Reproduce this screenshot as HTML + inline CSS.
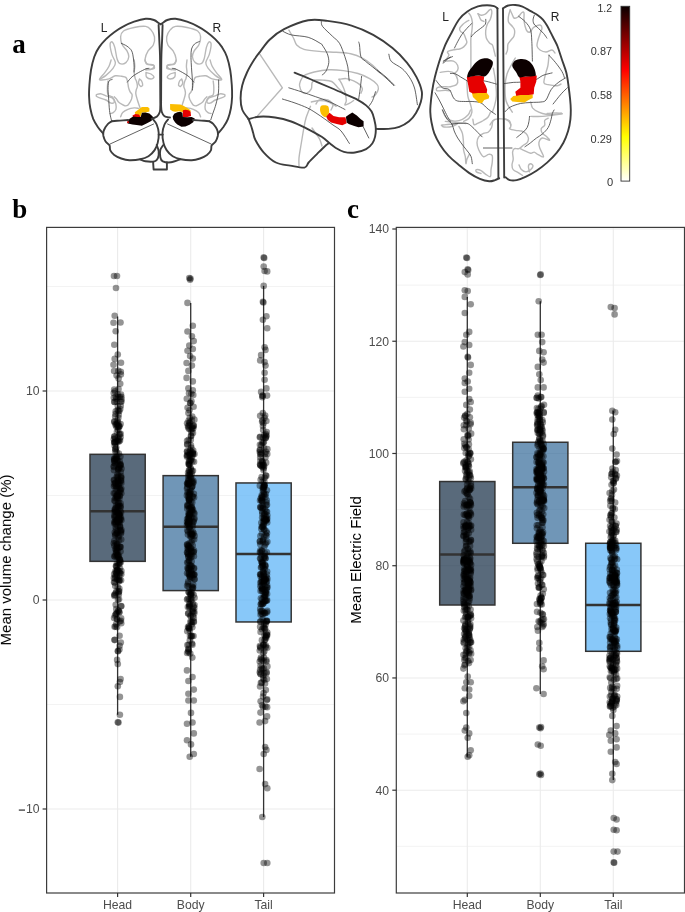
<!DOCTYPE html>
<html><head><meta charset="utf-8"><style>
html,body{margin:0;padding:0;background:#fff;}
svg{display:block;}
text{will-change:transform;}
.tk{font-family:"Liberation Sans",sans-serif;font-size:12.2px;fill:#4d4d4d;}
.ttl{font-family:"Liberation Sans",sans-serif;font-size:15px;fill:#000;}
.lt{font-family:"Liberation Serif",serif;font-weight:bold;font-size:27px;fill:#000;}
.bl{font-family:"Liberation Sans",sans-serif;font-size:12px;fill:#222;}
.cb{font-family:"Liberation Sans",sans-serif;font-size:11.8px;fill:#333;}
</style></head><body>
<svg width="685" height="912" viewBox="0 0 685 912">
<rect width="685" height="912" fill="#fff"/>
<text class="lt" x="12.3" y="52.5">a</text>
<text class="lt" x="12.3" y="218">b</text>
<text class="lt" x="347" y="218">c</text>
<path d="M100.2,78.9 C101.2,78.3 103.9,77.2 106.0,75.4 C108.1,73.7 111.4,70.5 113.0,68.4 C114.6,66.3 115.6,64.9 115.4,62.6 C115.2,60.3 112.8,57.5 111.9,54.4 C111.0,51.3 110.0,45.9 110.1,43.9 C110.2,41.9 111.6,41.5 112.4,42.1 C113.2,42.7 114.0,44.6 114.8,47.4 C115.6,50.2 116.2,56.3 117.1,59.0 C118.0,61.7 118.5,63.1 120.0,63.7 C121.5,64.3 124.4,63.8 125.9,62.6 C127.4,61.4 128.6,58.7 128.8,56.7 C129.0,54.8 128.1,52.9 127.0,50.9 C125.9,48.9 123.5,47.3 122.4,45.0 C121.3,42.7 120.4,39.2 120.6,36.9 C120.8,34.6 121.2,32.6 123.5,31.0 C125.8,29.4 130.4,28.3 134.1,27.5 C137.8,26.7 142.9,26.0 145.7,26.4 C148.5,26.8 149.5,28.1 151.0,29.9 C152.5,31.6 154.1,34.4 154.5,36.9 C154.9,39.4 154.4,42.7 153.3,45.0 C152.2,47.3 149.5,48.6 148.1,50.9 C146.7,53.2 145.3,56.9 145.1,59.0 C144.9,61.1 145.5,62.7 146.9,63.7 C148.3,64.7 152.1,64.3 153.3,64.9 C154.5,65.5 154.4,66.4 153.9,67.2 C153.4,68.0 151.7,69.3 150.4,69.6 C149.1,69.9 146.7,69.1 146.0,69.0" stroke="#b9b9b9" stroke-width="1.4" fill="none" stroke-linecap="round" stroke-linejoin="round"/>
<path d="M221.0,78.9 C220.0,78.3 217.3,77.2 215.2,75.4 C213.1,73.7 209.8,70.5 208.2,68.4 C206.6,66.3 205.6,64.9 205.8,62.6 C206.0,60.3 208.4,57.5 209.3,54.4 C210.2,51.3 211.2,45.9 211.1,43.9 C211.0,41.9 209.6,41.5 208.8,42.1 C208.0,42.7 207.2,44.6 206.4,47.4 C205.6,50.2 205.0,56.3 204.1,59.0 C203.2,61.7 202.7,63.1 201.2,63.7 C199.7,64.3 196.8,63.8 195.3,62.6 C193.8,61.4 192.6,58.7 192.4,56.7 C192.2,54.8 193.1,52.9 194.2,50.9 C195.3,48.9 197.7,47.3 198.8,45.0 C199.9,42.7 200.8,39.2 200.6,36.9 C200.4,34.6 199.9,32.6 197.7,31.0 C195.4,29.4 190.8,28.3 187.1,27.5 C183.4,26.7 178.3,26.0 175.5,26.4 C172.7,26.8 171.7,28.1 170.2,29.9 C168.7,31.6 167.1,34.4 166.7,36.9 C166.3,39.4 166.8,42.7 167.9,45.0 C169.0,47.3 171.7,48.6 173.1,50.9 C174.5,53.2 175.9,56.9 176.1,59.0 C176.3,61.1 175.7,62.7 174.3,63.7 C172.9,64.7 169.1,64.3 167.9,64.9 C166.7,65.5 166.8,66.4 167.3,67.2 C167.8,68.0 169.5,69.3 170.8,69.6 C172.1,69.9 174.5,69.1 175.2,69.0" stroke="#b9b9b9" stroke-width="1.4" fill="none" stroke-linecap="round" stroke-linejoin="round"/>
<path d="M111.1,60.0 C110.8,61.0 110.0,64.2 109.0,66.3 C108.0,68.4 106.4,70.5 104.8,72.6 C103.2,74.7 100.1,77.7 99.6,78.9 C99.1,80.1 100.1,80.0 101.7,80.0 C103.3,80.0 106.7,79.6 109.0,78.9 C111.3,78.2 113.2,76.2 115.3,75.8 C117.4,75.4 119.8,76.0 121.6,76.3 C123.3,76.6 124.8,76.6 125.8,77.4 C126.8,78.2 127.0,79.3 127.4,81.0 C127.9,82.7 128.1,85.5 128.5,87.3 C128.9,89.1 129.4,90.4 130.0,91.6 C130.6,92.8 131.8,93.5 132.1,94.7 C132.4,95.9 131.9,97.7 131.6,98.9 C131.2,100.1 130.6,101.0 130.0,102.1 C129.4,103.1 128.8,104.6 127.9,105.2 C127.0,105.8 125.8,106.0 124.8,105.8 C123.8,105.6 122.6,104.8 121.6,104.2 C120.5,103.6 119.4,103.0 118.5,102.1 C117.6,101.2 117.1,99.8 116.4,98.9 C115.7,98.0 114.7,97.2 114.3,96.8" stroke="#b9b9b9" stroke-width="1.4" fill="none" stroke-linecap="round" stroke-linejoin="round"/>
<path d="M210.1,60.0 C210.4,61.0 211.1,64.2 212.2,66.3 C213.2,68.4 214.8,70.5 216.4,72.6 C218.0,74.7 221.1,77.7 221.6,78.9 C222.1,80.1 221.1,80.0 219.5,80.0 C217.9,80.0 214.5,79.6 212.2,78.9 C209.9,78.2 208.0,76.2 205.9,75.8 C203.8,75.4 201.3,76.0 199.6,76.3 C197.8,76.6 196.4,76.6 195.4,77.4 C194.4,78.2 194.2,79.3 193.8,81.0 C193.3,82.7 193.1,85.5 192.7,87.3 C192.3,89.1 191.8,90.4 191.2,91.6 C190.6,92.8 189.4,93.5 189.1,94.7 C188.8,95.9 189.2,97.7 189.6,98.9 C189.9,100.1 190.6,101.0 191.2,102.1 C191.8,103.1 192.4,104.6 193.3,105.2 C194.2,105.8 195.3,106.0 196.4,105.8 C197.4,105.6 198.5,104.8 199.6,104.2 C200.7,103.6 201.8,103.0 202.7,102.1 C203.6,101.2 204.1,99.8 204.8,98.9 C205.5,98.0 206.5,97.2 206.9,96.8" stroke="#b9b9b9" stroke-width="1.4" fill="none" stroke-linecap="round" stroke-linejoin="round"/>
<path d="M108.0,81.0 C107.9,82.0 107.4,85.0 107.4,87.3 C107.4,89.6 107.2,93.1 108.0,94.7 C108.8,96.3 111.2,95.9 112.2,96.8 C113.2,97.7 113.7,98.8 114.3,100.0 C114.9,101.2 115.6,102.6 115.9,104.2 C116.2,105.8 116.4,108.0 115.9,109.4 C115.5,110.8 114.2,111.9 113.2,112.6 C112.2,113.3 110.6,113.4 110.1,113.6" stroke="#b9b9b9" stroke-width="1.4" fill="none" stroke-linecap="round" stroke-linejoin="round"/>
<path d="M213.2,81.0 C213.3,82.0 213.8,85.0 213.8,87.3 C213.8,89.6 214.0,93.1 213.2,94.7 C212.4,96.3 210.1,95.9 209.0,96.8 C207.9,97.7 207.5,98.8 206.9,100.0 C206.3,101.2 205.6,102.6 205.3,104.2 C205.0,105.8 204.8,108.0 205.3,109.4 C205.8,110.8 207.0,111.9 208.0,112.6 C209.0,113.3 210.6,113.4 211.1,113.6" stroke="#b9b9b9" stroke-width="1.4" fill="none" stroke-linecap="round" stroke-linejoin="round"/>
<path d="M96.4,94.7 C97.1,94.5 99.0,93.5 100.6,93.7 C102.2,93.9 104.0,95.1 105.9,95.8 C107.8,96.5 110.8,96.9 112.2,97.9 C113.6,99.0 114.5,101.2 114.3,102.1 C114.1,103.0 112.5,103.4 111.1,103.1 C109.7,102.8 107.8,100.9 105.9,100.0 C104.0,99.1 101.2,98.5 99.6,97.9 C98.0,97.3 96.9,96.8 96.4,96.3 C95.9,95.8 96.4,95.0 96.4,94.7" stroke="#b9b9b9" stroke-width="1.4" fill="none" stroke-linecap="round" stroke-linejoin="round"/>
<path d="M224.8,94.7 C224.1,94.5 222.2,93.5 220.6,93.7 C219.0,93.9 217.2,95.1 215.3,95.8 C213.4,96.5 210.4,96.9 209.0,97.9 C207.6,99.0 206.7,101.2 206.9,102.1 C207.1,103.0 208.7,103.4 210.1,103.1 C211.5,102.8 213.4,100.9 215.3,100.0 C217.2,99.1 220.0,98.5 221.6,97.9 C223.2,97.3 224.3,96.8 224.8,96.3 C225.3,95.8 224.8,95.0 224.8,94.7" stroke="#b9b9b9" stroke-width="1.4" fill="none" stroke-linecap="round" stroke-linejoin="round"/>
<path d="M120.6,116.8 C120.9,116.1 121.5,113.8 122.7,112.6 C123.9,111.4 126.0,110.2 127.9,109.4 C129.8,108.6 132.4,108.1 134.2,107.9 C136.0,107.7 137.8,108.3 138.5,108.4" stroke="#b9b9b9" stroke-width="1.4" fill="none" stroke-linecap="round" stroke-linejoin="round"/>
<path d="M200.6,116.8 C200.2,116.1 199.7,113.8 198.5,112.6 C197.3,111.4 195.2,110.2 193.3,109.4 C191.4,108.6 188.8,108.1 187.0,107.9 C185.2,107.7 183.4,108.3 182.7,108.4" stroke="#b9b9b9" stroke-width="1.4" fill="none" stroke-linecap="round" stroke-linejoin="round"/>
<path d="M134.2,60.0 C134.3,61.0 134.8,64.2 134.8,66.3 C134.8,68.4 134.1,70.5 134.2,72.6 C134.3,74.7 134.9,77.5 135.3,78.9 C135.7,80.3 136.1,79.8 136.4,81.0 C136.8,82.2 137.4,84.9 137.4,86.3 C137.4,87.7 136.7,88.2 136.4,89.4 C136.1,90.6 135.6,91.9 135.8,93.7 C136.0,95.5 136.8,97.9 137.4,100.0 C138.0,102.1 139.0,104.7 139.5,106.3 C140.0,107.9 140.4,108.9 140.6,109.4" stroke="#b9b9b9" stroke-width="1.4" fill="none" stroke-linecap="round" stroke-linejoin="round"/>
<path d="M187.0,60.0 C186.9,61.0 186.4,64.2 186.4,66.3 C186.4,68.4 187.1,70.5 187.0,72.6 C186.9,74.7 186.3,77.5 185.9,78.9 C185.5,80.3 185.1,79.8 184.8,81.0 C184.4,82.2 183.8,84.9 183.8,86.3 C183.8,87.7 184.5,88.2 184.8,89.4 C185.1,90.6 185.6,91.9 185.4,93.7 C185.2,95.5 184.4,97.9 183.8,100.0 C183.2,102.1 182.2,104.7 181.7,106.3 C181.2,107.9 180.8,108.9 180.6,109.4" stroke="#b9b9b9" stroke-width="1.4" fill="none" stroke-linecap="round" stroke-linejoin="round"/>
<path d="M139.5,78.9 C139.8,79.2 141.1,80.0 141.6,81.0 C142.1,82.0 142.9,84.3 142.7,85.2 C142.5,86.1 141.3,86.7 140.6,86.3 C139.9,85.9 138.7,84.3 138.5,83.1 C138.3,81.9 139.3,79.6 139.5,78.9" stroke="#b9b9b9" stroke-width="1.4" fill="none" stroke-linecap="round" stroke-linejoin="round"/>
<path d="M181.7,78.9 C181.3,79.2 180.1,80.0 179.6,81.0 C179.1,82.0 178.3,84.3 178.5,85.2 C178.7,86.1 179.9,86.7 180.6,86.3 C181.3,85.9 182.5,84.3 182.7,83.1 C182.9,81.9 181.9,79.6 181.7,78.9" stroke="#b9b9b9" stroke-width="1.4" fill="none" stroke-linecap="round" stroke-linejoin="round"/>
<path d="M146.0,72.5 C146.8,72.8 149.7,73.2 151.0,74.0 C152.3,74.8 154.0,76.2 154.0,77.0 C154.0,77.8 152.2,79.0 151.0,79.0 C149.8,79.0 147.3,78.1 146.5,77.0 C145.7,75.9 146.1,73.2 146.0,72.5" stroke="#b9b9b9" stroke-width="1.4" fill="none" stroke-linecap="round" stroke-linejoin="round"/>
<path d="M175.2,72.5 C174.4,72.8 171.5,73.2 170.2,74.0 C168.9,74.8 167.2,76.2 167.2,77.0 C167.2,77.8 168.9,79.0 170.2,79.0 C171.4,79.0 173.9,78.1 174.7,77.0 C175.5,75.9 175.1,73.2 175.2,72.5" stroke="#b9b9b9" stroke-width="1.4" fill="none" stroke-linecap="round" stroke-linejoin="round"/>
<path d="M144.8,60.0 C145.2,60.7 145.5,63.3 146.9,64.2 C148.3,65.1 152.0,64.6 153.2,65.3 C154.4,66.0 154.9,67.7 154.2,68.4 C153.5,69.1 150.4,69.2 149.0,69.5 C147.6,69.8 146.5,69.9 146.0,70.0" stroke="#b9b9b9" stroke-width="1.4" fill="none" stroke-linecap="round" stroke-linejoin="round"/>
<path d="M176.4,60.0 C176.0,60.7 175.7,63.3 174.3,64.2 C172.9,65.1 169.2,64.6 168.0,65.3 C166.8,66.0 166.3,67.7 167.0,68.4 C167.7,69.1 170.8,69.2 172.2,69.5 C173.6,69.8 174.7,69.9 175.2,70.0" stroke="#b9b9b9" stroke-width="1.4" fill="none" stroke-linecap="round" stroke-linejoin="round"/>
<path d="M121.2,43.3 C122.2,43.8 125.2,44.9 127.0,46.2 C128.8,47.5 130.6,48.8 131.7,50.9 C132.8,53.0 133.1,56.5 133.5,59.0 C133.9,61.5 134.0,63.8 134.1,66.0 C134.2,68.2 134.0,71.0 134.0,72.0" stroke="#3a3a3a" stroke-width="0.8" fill="none" stroke-linecap="round"/>
<path d="M127.4,82.1 C128.2,81.2 130.2,78.4 132.1,76.8 C133.9,75.2 136.2,73.9 138.5,72.6 C140.8,71.3 144.1,69.6 145.8,68.9 C147.6,68.2 148.5,68.5 149.0,68.4" stroke="#3a3a3a" stroke-width="0.8" fill="none" stroke-linecap="round"/>
<path d="M112.2,79.5 C111.7,79.8 109.7,79.7 109.0,81.0 C108.3,82.3 108.1,84.7 108.0,87.3 C107.9,89.9 108.3,94.0 108.5,96.8 C108.7,99.6 108.8,101.9 109.0,104.2 C109.2,106.5 109.2,108.0 109.5,110.5 C109.8,113.0 110.6,117.2 111.1,118.9 C111.5,120.7 112.0,120.7 112.2,121.0" stroke="#3a3a3a" stroke-width="0.8" fill="none" stroke-linecap="round"/>
<path d="M193.8,82.1 C193.0,81.2 190.9,78.4 189.1,76.8 C187.2,75.2 185.0,73.9 182.7,72.6 C180.4,71.3 177.1,69.6 175.4,68.9 C173.6,68.2 172.7,68.5 172.2,68.4" stroke="#3a3a3a" stroke-width="0.8" fill="none" stroke-linecap="round"/>
<path d="M199.4,41.5 C198.6,41.9 195.8,42.8 194.5,44.0 C193.2,45.2 192.1,47.0 191.5,49.0 C190.9,51.0 191.1,53.7 191.0,56.0 C190.9,58.3 191.1,59.9 191.2,62.6 C191.3,65.3 191.6,69.1 191.8,72.0 C192.0,74.9 192.3,77.1 192.4,80.1 C192.5,83.1 192.4,88.3 192.4,90.0" stroke="#3a3a3a" stroke-width="0.8" fill="none" stroke-linecap="round"/>
<path d="M218.6,80.0 C218.6,82.0 218.9,88.0 218.5,92.0 C218.1,96.0 216.9,100.5 216.0,104.0 C215.1,107.5 213.9,110.4 213.0,113.0 C212.1,115.6 211.2,118.7 210.8,119.8" stroke="#3a3a3a" stroke-width="0.8" fill="none" stroke-linecap="round"/>
<path d="M134.8,112.3 L137.2,110.5 L139.5,108.8 L141.9,107.0 L147.7,107.0 L149.4,108.2 L149.4,111.4 L145.4,112.6 L141.9,112.6 L140.7,116.3 L135.4,114.6Z" fill="#fbbd00"/>
<path d="M132.5,115.5 L135.4,114.0 L138.9,114.6 L140.7,116.9 L136.6,117.2 L133.1,117.2Z" fill="#e60000"/>
<path d="M127.3,122.2 L129.6,118.7 L133.1,116.6 L137.2,116.9 L140.7,116.9 L141.9,112.8 L145.4,112.6 L149.4,113.4 L152.4,116.3 L153.8,118.1 L151.2,121.0 L146.5,123.4 L141.9,125.7 L136.6,125.1 L132.5,124.5 L127.8,123.4Z" fill="#0c0000"/>
<path d="M127.0,121.5 L128.5,121.0 L129.0,123.0 L127.5,123.2Z" fill="#e60000"/>
<path d="M170.1,104.1 L180.3,104.4 L183.4,105.7 L186.5,107.5 L188.5,108.7 L190.5,110.3 L190.5,112.8 L186.5,110.8 L182.9,112.3 L179.3,111.3 L175.2,111.8 L172.7,111.3 L170.1,109.5Z" fill="#fbbd00"/>
<path d="M182.9,110.3 L185.4,109.8 L188.5,110.3 L190.5,111.8 L191.1,115.9 L187.5,116.9 L182.9,116.9Z" fill="#e60000"/>
<path d="M172.7,116.4 L174.2,113.8 L177.3,112.3 L180.3,111.8 L182.4,112.8 L182.9,116.9 L187.5,117.2 L191.6,116.9 L194.8,118.6 L193.2,122.3 L189.5,124.8 L185.4,126.6 L181.4,126.8 L177.3,124.6 L175.2,122.5 L173.2,119.5Z" fill="#0c0000"/>
<path d="M103.1,133.4 C102.2,132.3 99.4,129.4 97.8,127.0 C96.2,124.6 94.5,122.0 93.2,118.9 C92.0,115.8 91.0,112.0 90.3,108.3 C89.6,104.6 89.2,100.6 89.1,96.7 C88.9,92.8 89.1,89.5 89.4,85.0 C89.7,80.5 90.2,74.7 91.0,70.0 C91.8,65.3 93.0,60.5 94.3,56.7 C95.6,52.9 97.0,50.3 99.0,47.4 C101.0,44.5 103.5,41.7 106.0,39.2 C108.5,36.7 111.3,34.3 114.2,32.2 C117.1,30.1 120.2,28.1 123.5,26.4 C126.8,24.6 130.4,23.0 134.1,21.7 C137.8,20.4 142.4,19.1 145.7,18.8 C149.0,18.5 151.8,19.3 153.9,20.0 C156.1,20.7 157.5,22.3 158.6,23.0 C159.7,23.7 160.3,24.0 160.6,24.2" stroke="#3d3d3d" stroke-width="1.9" fill="none" stroke-linecap="round" stroke-linejoin="round"/>
<path d="M218.1,133.4 C219.0,132.3 221.7,129.4 223.4,127.0 C225.0,124.6 226.8,122.0 228.0,118.9 C229.2,115.8 230.2,112.0 230.9,108.3 C231.6,104.6 231.9,100.6 232.1,96.7 C232.2,92.8 232.1,89.5 231.8,85.0 C231.5,80.5 231.0,74.7 230.2,70.0 C229.4,65.3 228.2,60.5 226.9,56.7 C225.6,52.9 224.1,50.3 222.2,47.4 C220.2,44.5 217.7,41.7 215.2,39.2 C212.7,36.7 209.9,34.3 207.0,32.2 C204.1,30.1 201.0,28.1 197.7,26.4 C194.4,24.6 190.8,23.0 187.1,21.7 C183.4,20.4 178.8,19.1 175.5,18.8 C172.2,18.5 169.4,19.3 167.3,20.0 C165.1,20.7 163.7,22.3 162.6,23.0 C161.5,23.7 160.9,24.0 160.6,24.2" stroke="#3d3d3d" stroke-width="1.9" fill="none" stroke-linecap="round" stroke-linejoin="round"/>
<path d="M158.6,25.0 C158.7,27.5 159.1,35.0 159.3,40.0 C159.5,45.0 159.8,48.3 160.0,55.0 C160.2,61.7 160.1,72.5 160.2,80.0 C160.2,87.5 160.3,95.7 160.3,100.0 C160.3,104.3 160.4,104.0 160.3,106.0 C160.2,108.0 160.4,110.2 159.8,112.0 C159.2,113.8 158.4,115.3 157.0,116.5 C155.6,117.7 152.5,118.5 151.6,118.9" stroke="#3d3d3d" stroke-width="1.9" fill="none" stroke-linecap="round" stroke-linejoin="round"/>
<path d="M162.6,25.0 C162.5,27.5 162.3,35.0 162.1,40.0 C161.9,45.0 161.6,48.3 161.4,55.0 C161.2,61.7 161.2,72.5 161.2,80.0 C161.1,87.5 161.1,95.7 161.1,100.0 C161.1,104.3 161.0,104.0 161.1,106.0 C161.2,108.0 161.2,110.3 161.8,112.0 C162.4,113.7 163.1,115.4 164.5,116.3 C165.9,117.2 169.1,117.3 170.0,117.5" stroke="#3d3d3d" stroke-width="1.9" fill="none" stroke-linecap="round" stroke-linejoin="round"/>
<path d="M111.9,121.2 C111.2,121.6 109.1,122.7 108.0,123.8 C106.9,124.9 106.0,126.3 105.2,127.6 C104.5,128.9 103.8,130.1 103.5,131.5 C103.2,132.9 103.1,134.3 103.4,136.0 C103.8,137.7 104.6,139.9 105.6,141.5 C106.6,143.1 108.7,143.8 109.5,145.3 C110.3,146.8 109.5,148.8 110.3,150.4 C111.1,152.0 112.4,153.7 114.2,155.0 C116.0,156.3 118.7,157.6 121.2,158.5 C123.7,159.4 126.2,160.2 129.4,160.3 C132.6,160.4 137.1,160.0 140.3,159.3 C143.5,158.6 146.1,157.7 148.5,156.2 C150.9,154.7 153.1,152.3 154.6,150.1 C156.1,147.9 157.0,145.8 157.7,142.9 C158.4,140.0 158.9,135.8 158.7,132.7 C158.5,129.6 157.6,126.7 156.7,124.5 C155.8,122.3 153.7,120.2 153.1,119.4" stroke="#3d3d3d" stroke-width="1.9" fill="none" stroke-linecap="round" stroke-linejoin="round"/>
<path d="M209.3,121.2 C209.9,121.6 212.1,122.7 213.2,123.8 C214.3,124.9 215.2,126.3 216.0,127.6 C216.8,128.9 217.4,130.1 217.7,131.5 C218.0,132.9 218.1,134.3 217.8,136.0 C217.4,137.7 216.6,139.9 215.6,141.5 C214.6,143.1 212.5,143.8 211.7,145.3 C210.9,146.8 211.7,148.8 210.9,150.4 C210.1,152.0 208.8,153.7 207.0,155.0 C205.2,156.3 202.5,157.6 200.0,158.5 C197.5,159.4 195.0,160.2 191.8,160.3 C188.6,160.4 184.1,160.0 180.9,159.3 C177.7,158.6 175.1,157.7 172.7,156.2 C170.3,154.7 168.1,152.3 166.6,150.1 C165.1,147.9 164.2,145.8 163.5,142.9 C162.8,140.0 162.3,135.8 162.5,132.7 C162.7,129.6 163.6,126.7 164.5,124.5 C165.4,122.3 167.5,120.2 168.1,119.4" stroke="#3d3d3d" stroke-width="1.9" fill="none" stroke-linecap="round" stroke-linejoin="round"/>
<path d="M111.9,121.2 C113.2,121.1 117.3,120.8 120.0,120.6 C122.7,120.4 126.8,120.1 128.2,120.0" stroke="#3d3d3d" stroke-width="1.9" fill="none" stroke-linecap="round" stroke-linejoin="round"/>
<path d="M209.3,121.2 C207.9,121.1 203.9,120.8 201.2,120.6 C198.5,120.4 194.4,120.1 193.0,120.0" stroke="#3d3d3d" stroke-width="1.9" fill="none" stroke-linecap="round" stroke-linejoin="round"/>
<path d="M110.1,144.0 L153.6,124.0" stroke="#3a3a3a" stroke-width="0.8" fill="none" stroke-linecap="round"/>
<path d="M211.1,144.0 L167.6,124.0" stroke="#3a3a3a" stroke-width="0.8" fill="none" stroke-linecap="round"/>
<path d="M156.7,145.0 C157.0,146.0 158.5,148.9 158.7,151.1 C158.9,153.3 158.6,156.5 157.9,158.2 C157.2,159.9 156.7,160.8 154.6,161.3 C152.5,161.8 147.8,161.6 145.4,161.3 C143.0,161.0 141.2,159.6 140.3,159.3" stroke="#3d3d3d" stroke-width="1.9" fill="none" stroke-linecap="round" stroke-linejoin="round"/>
<path d="M163.3,145.0 C162.8,145.8 160.8,148.1 160.3,150.1 C159.8,152.1 159.9,155.3 160.3,157.2 C160.7,159.1 161.0,160.5 162.8,161.3 C164.6,162.2 168.1,162.6 171.0,162.3 C173.9,162.0 178.7,159.8 180.2,159.3" stroke="#3d3d3d" stroke-width="1.9" fill="none" stroke-linecap="round" stroke-linejoin="round"/>
<path d="M153.1,162 L153.6,169.5 L166.9,169.5 L166.9,162.5" stroke="#3d3d3d" stroke-width="1.9" fill="none" stroke-linecap="round" stroke-linejoin="round"/>
<path d="M158.7,134.6 L162.8,134.6" stroke="#3d3d3d" stroke-width="1.9" fill="none" stroke-linecap="round" stroke-linejoin="round"/>
<text class="bl" x="100.8" y="32.2">L</text>
<text class="bl" x="212.4" y="32.2">R</text>
<path d="M288.9,30.1 C289.7,31.5 292.4,36.0 293.7,38.5 C295.0,41.0 295.0,43.2 296.7,45.0 C298.4,46.8 299.9,48.3 304.0,49.4 C308.1,50.5 316.1,51.1 321.5,51.6 C326.9,52.1 331.2,51.9 336.1,52.3 C341.0,52.7 346.3,52.8 350.7,53.8 C355.1,54.8 358.8,56.2 362.4,58.1 C366.0,60.0 369.7,63.0 372.6,65.4 C375.5,67.9 378.7,71.6 379.9,72.8" stroke="#b9b9b9" stroke-width="1.4" fill="none" stroke-linecap="round" stroke-linejoin="round"/>
<path d="M314.2,80.1 C313.8,80.6 312.5,81.5 312.0,83.0 C311.5,84.5 312.2,87.1 311.3,88.8 C310.4,90.5 308.5,92.7 306.9,93.2 C305.3,93.7 303.0,92.9 301.8,91.7 C300.6,90.5 299.9,87.6 299.6,85.9 C299.4,84.2 299.6,83.2 300.3,81.5 C301.0,79.8 301.7,77.3 304.0,75.7 C306.3,74.1 310.1,73.0 314.2,72.0 C318.3,71.0 323.9,70.0 328.8,69.8 C333.7,69.6 338.5,70.0 343.4,70.6 C348.3,71.2 353.6,72.2 358.0,73.5 C362.4,74.8 366.5,76.8 369.7,78.6 C372.9,80.4 375.6,82.7 377.0,84.4 C378.4,86.1 378.6,87.1 378.4,88.8 C378.1,90.5 376.6,93.3 375.5,94.7 C374.4,96.1 372.6,96.6 372.0,97.0" stroke="#b9b9b9" stroke-width="1.4" fill="none" stroke-linecap="round" stroke-linejoin="round"/>
<path d="M314.2,80.1 C315.7,80.1 320.1,79.9 323.0,80.1 C325.9,80.3 329.3,80.3 331.7,81.5 C334.1,82.7 335.7,85.5 337.6,87.4 C339.6,89.4 342.4,92.2 343.4,93.2" stroke="#b9b9b9" stroke-width="1.4" fill="none" stroke-linecap="round" stroke-linejoin="round"/>
<path d="M339.0,79.3 C340.2,79.2 343.9,78.3 346.3,78.6 C348.7,78.8 351.4,79.8 353.6,80.8 C355.8,81.8 358.0,83.1 359.5,84.4 C361.0,85.7 362.2,87.3 362.4,88.8 C362.6,90.3 361.1,92.5 360.9,93.2" stroke="#b9b9b9" stroke-width="1.4" fill="none" stroke-linecap="round" stroke-linejoin="round"/>
<path d="M339.0,79.3 C339.5,80.2 341.0,82.3 342.0,84.4 C343.0,86.5 344.2,89.0 344.9,91.7 C345.6,94.4 346.3,98.3 346.3,100.5 C346.3,102.7 344.4,104.4 344.9,104.9 C345.4,105.4 347.8,104.1 349.2,103.4 C350.6,102.7 352.9,101.0 353.6,100.5" stroke="#b9b9b9" stroke-width="1.4" fill="none" stroke-linecap="round" stroke-linejoin="round"/>
<path d="M311.3,102.0 C312.8,101.8 317.1,100.5 320.0,100.5 C322.9,100.5 326.1,101.0 328.8,102.0 C331.5,103.0 334.9,105.6 336.1,106.3" stroke="#b9b9b9" stroke-width="1.4" fill="none" stroke-linecap="round" stroke-linejoin="round"/>
<path d="M310.5,106.3 C309.8,108.2 307.2,114.0 306.0,118.0 C304.8,122.0 304.3,125.5 303.5,130.0 C302.7,134.5 301.8,140.3 301.0,145.0 C300.2,149.7 299.3,154.5 299.0,158.0 C298.7,161.5 299.0,164.7 299.0,166.0" stroke="#b9b9b9" stroke-width="1.4" fill="none" stroke-linecap="round" stroke-linejoin="round"/>
<path d="M312.0,128.0 C312.8,129.2 315.7,133.0 317.0,135.0 C318.3,137.0 319.2,138.2 320.0,140.0 C320.8,141.8 321.7,145.0 322.0,146.0" stroke="#b9b9b9" stroke-width="1.4" fill="none" stroke-linecap="round" stroke-linejoin="round"/>
<path d="M316.0,104.0 C316.5,103.3 317.5,100.8 319.0,100.0 C320.5,99.2 323.2,99.3 325.0,99.5 C326.8,99.7 328.7,100.1 330.0,101.0 C331.3,101.9 332.8,103.5 333.0,105.0 C333.2,106.5 331.3,109.2 331.0,110.0" stroke="#b9b9b9" stroke-width="1.4" fill="none" stroke-linecap="round" stroke-linejoin="round"/>
<path d="M259.1,53.2 L282.4,87.8 L257.5,115.9" stroke="#b9b9b9" stroke-width="1.4" fill="none" stroke-linecap="round" stroke-linejoin="round"/>
<path d="M288.8,87.8 C291.0,88.5 297.6,90.5 302.0,92.0 C306.4,93.5 310.6,94.9 315.3,96.6 C320.0,98.3 325.1,99.8 330.0,102.0 C334.9,104.2 342.5,108.2 345.0,109.5" stroke="#3a3a3a" stroke-width="0.8" fill="none" stroke-linecap="round"/>
<path d="M282.4,99.0 C284.5,99.7 290.9,101.5 295.0,103.0 C299.1,104.5 303.8,106.2 307.3,107.9 C310.8,109.6 313.1,111.1 316.0,113.0 C318.9,114.9 322.1,117.1 324.9,119.1 C327.7,121.1 330.3,123.0 333.0,125.0 C335.7,127.0 338.4,127.9 341.1,131.0 C343.8,134.1 348.0,141.4 349.4,143.5" stroke="#3a3a3a" stroke-width="0.8" fill="none" stroke-linecap="round"/>
<path d="M363.3,126.9 L368.8,138.0" stroke="#3a3a3a" stroke-width="0.8" fill="none" stroke-linecap="round"/>
<path d="M321.4,21.6 C321.6,22.4 320.8,24.1 322.6,26.5 C324.4,28.9 329.5,33.3 332.3,36.1 C335.1,38.9 337.4,39.9 339.5,43.3 C341.6,46.7 343.5,52.8 344.9,56.7 C346.3,60.6 347.2,64.0 347.8,66.9 C348.4,69.8 348.3,71.9 348.5,74.2 C348.7,76.5 349.1,79.7 349.2,80.8" stroke="#3a3a3a" stroke-width="0.8" fill="none" stroke-linecap="round"/>
<path d="M358.7,42.1 C358.8,42.6 359.1,42.6 359.5,45.0 C359.9,47.4 359.9,54.0 360.9,56.7 C361.9,59.4 363.4,59.4 365.3,61.1 C367.2,62.8 370.2,65.0 372.6,66.9 C375.0,68.9 377.7,71.0 379.9,72.8 C382.1,74.6 383.7,75.9 386.0,78.0 C388.3,80.1 392.4,84.2 393.7,85.5" stroke="#3a3a3a" stroke-width="0.8" fill="none" stroke-linecap="round"/>
<path d="M388.9,54.2 C389.3,55.4 389.1,59.0 391.3,61.4 C393.5,63.8 399.1,66.0 402.1,68.6 C405.1,71.2 407.2,73.9 409.3,77.1 C411.4,80.3 413.1,83.4 414.5,88.0 C415.9,92.6 416.9,101.9 417.4,104.7" stroke="#3a3a3a" stroke-width="0.8" fill="none" stroke-linecap="round"/>
<path d="M282.9,31.3 C284.3,31.9 287.1,33.9 291.3,34.9 C295.5,35.9 303.4,35.9 308.2,37.3 C313.0,38.7 317.9,42.0 320.2,43.3 C322.5,44.6 321.0,43.2 322.2,45.0 C323.4,46.8 326.2,50.9 327.3,53.8 C328.4,56.7 329.0,59.6 328.8,62.5 C328.6,65.4 327.0,69.2 325.9,71.3 C324.8,73.4 322.8,74.3 322.2,74.9" stroke="#3a3a3a" stroke-width="0.8" fill="none" stroke-linecap="round"/>
<path d="M361.6,76.4 C361.4,78.5 360.7,85.0 360.2,88.8 C359.7,92.6 358.9,97.3 358.7,99.0" stroke="#3a3a3a" stroke-width="0.8" fill="none" stroke-linecap="round"/>
<path d="M375.5,91.7 C375.0,93.2 373.7,98.1 372.6,100.5 C371.5,102.9 369.5,105.3 368.9,106.3" stroke="#3a3a3a" stroke-width="0.8" fill="none" stroke-linecap="round"/>
<path d="M377.2,70.0 C378.7,71.2 383.1,74.5 386.0,77.0 C388.9,79.5 393.1,83.9 394.5,85.3" stroke="#3a3a3a" stroke-width="0.8" fill="none" stroke-linecap="round"/>
<path d="M320.6,106.4 C321.2,105.4 322.6,105.3 323.8,105.2 C325.0,105.1 327.0,105.1 327.9,106.0 C328.8,106.9 329.0,108.9 329.1,110.4 C329.2,111.9 328.9,113.7 328.3,114.8 C327.7,115.9 326.4,117.1 325.4,117.2 C324.4,117.3 323.1,116.2 322.2,115.2 C321.3,114.2 320.5,112.7 320.2,111.2 C319.9,109.7 320.0,107.4 320.6,106.4Z" fill="#fbbd00"/>
<path d="M326.2,116.8 L329.5,112.8 L333.5,116.0 L339.1,117.2 L345.5,117.2 L346.7,123.3 L342.3,125.3 L336.7,124.1 L331.1,122.5 L327.9,120.0Z" fill="#e60000"/>
<path d="M345.9,116.8 L348.7,114.8 L352.3,112.4 L356.8,115.6 L360.8,119.2 L363.6,121.3 L363.6,126.5 L358.4,127.3 L353.6,125.7 L348.7,124.1 L346.7,122.5Z" fill="#0c0000"/>
<path d="M248.6,119.1 C247.5,117.5 243.5,113.0 242.2,109.5 C240.9,106.0 240.6,102.2 240.6,98.2 C240.6,94.2 241.1,89.7 242.2,85.4 C243.3,81.1 245.0,76.8 247.0,72.5 C249.0,68.2 252.1,63.1 254.3,59.6 C256.5,56.1 257.4,55.1 260.0,51.8 C262.6,48.5 265.6,43.5 269.6,39.7 C273.6,35.9 277.7,32.4 284.1,29.2 C290.5,26.0 301.0,21.7 308.2,20.3 C315.4,18.9 320.2,20.0 327.4,20.9 C334.6,21.8 343.9,23.3 351.5,25.6 C359.1,27.9 366.4,31.1 373.2,34.9 C380.0,38.6 386.9,43.5 392.5,48.1 C398.1,52.7 402.9,57.8 406.9,62.6 C410.9,67.4 414.0,72.3 416.5,77.1 C419.0,81.9 421.1,87.4 421.8,91.5 C422.5,95.6 421.8,98.3 420.8,101.9 C419.8,105.5 417.9,109.8 416.0,113.0 C414.1,116.2 411.9,119.0 409.1,121.3 C406.3,123.6 402.8,125.6 399.3,126.9 C395.8,128.2 392.2,128.6 388.3,128.9 C384.4,129.2 377.9,128.9 375.8,128.9" stroke="#3d3d3d" stroke-width="1.9" fill="none" stroke-linecap="round" stroke-linejoin="round"/>
<path d="M294.6,72.7 C297.2,73.8 304.1,76.5 310.0,79.0 C315.9,81.5 324.4,85.1 330.0,87.5 C335.6,89.9 339.3,91.5 343.9,93.6 C348.5,95.6 354.0,97.8 357.7,99.8 C361.4,101.8 363.8,103.4 366.1,105.4 C368.4,107.4 370.2,109.2 371.6,111.6 C373.0,114.0 373.7,117.1 374.4,119.9 C375.1,122.7 375.7,125.5 375.8,128.3 C375.9,131.1 375.7,134.1 375.1,136.6 C374.5,139.1 373.8,141.4 372.3,143.5 C370.8,145.6 369.0,147.6 366.1,149.1 C363.2,150.6 358.7,152.1 355.0,152.5 C351.3,152.9 347.1,152.6 343.9,151.8 C340.6,151.0 337.8,149.1 335.5,147.7 C333.2,146.3 332.3,145.3 330.0,143.5 C327.7,141.7 325.5,139.2 321.7,136.8 C317.9,134.4 312.4,131.4 307.3,128.8 C302.2,126.3 296.6,123.4 291.2,121.5 C285.8,119.6 280.5,118.3 275.1,117.5 C269.8,116.7 263.5,116.4 259.1,116.7 C254.7,117.0 250.3,118.7 248.6,119.1" stroke="#3d3d3d" stroke-width="1.9" fill="none" stroke-linecap="round" stroke-linejoin="round"/>
<path d="M248.6,119.1 C249.0,120.2 250.2,123.2 251.0,125.5 C251.8,127.8 252.5,130.6 253.2,133.0 C253.9,135.4 253.7,136.8 255.4,140.0 C257.1,143.2 260.2,148.6 263.6,152.3 C267.0,156.1 271.5,160.3 275.9,162.5 C280.3,164.7 285.4,164.8 290.2,165.6 C295.0,166.4 301.4,168.1 304.5,167.6 C307.6,167.1 306.6,164.7 308.6,162.5 C310.6,160.3 314.0,157.0 316.7,154.3 C319.4,151.6 322.8,148.1 324.9,146.2 C326.9,144.3 328.3,143.6 329.0,143.1" stroke="#3d3d3d" stroke-width="1.9" fill="none" stroke-linecap="round" stroke-linejoin="round"/>
<path d="M468.8,13.2 C469.1,13.7 470.3,14.8 470.9,16.3 C471.5,17.8 472.2,20.0 472.4,22.4 C472.6,24.8 472.1,28.1 471.9,30.6 C471.6,33.2 471.1,34.5 470.9,37.7 C470.7,40.9 470.9,45.6 470.9,50.0 C470.9,54.4 470.9,59.8 470.9,64.0 C470.9,68.2 470.9,73.2 470.9,75.0" stroke="#b9b9b9" stroke-width="1.4" fill="none" stroke-linecap="round" stroke-linejoin="round"/>
<path d="M478.0,13.7 C478.5,13.9 479.9,15.1 481.1,15.2 C482.3,15.3 483.8,15.0 485.2,14.2 C486.6,13.3 488.3,10.9 489.3,10.1 C490.3,9.3 490.9,9.1 491.3,9.6 C491.7,10.1 492.0,11.6 491.8,13.2 C491.6,14.8 491.1,17.4 490.3,19.3 C489.5,21.2 488.0,22.5 487.2,24.4 C486.4,26.3 485.9,28.4 485.7,30.6 C485.5,32.8 485.6,35.7 486.2,37.7 C486.8,39.7 488.3,41.6 489.3,42.8 C490.3,44.0 491.5,43.7 492.3,44.9 C493.1,46.1 493.4,48.1 493.9,50.0 C494.4,51.9 495.1,55.1 495.4,56.1" stroke="#b9b9b9" stroke-width="1.4" fill="none" stroke-linecap="round" stroke-linejoin="round"/>
<path d="M478.0,13.7 C478.2,14.2 479.0,15.9 479.5,17.0 C480.0,18.1 480.2,19.2 481.0,20.0 C481.8,20.8 483.5,21.2 484.0,21.5" stroke="#b9b9b9" stroke-width="1.4" fill="none" stroke-linecap="round" stroke-linejoin="round"/>
<path d="M468.8,20.4 C468.5,20.6 467.8,20.7 466.8,21.4 C465.8,22.1 463.9,23.2 462.7,24.4 C461.5,25.6 459.9,27.3 459.6,28.5 C459.3,29.7 460.0,30.8 460.7,31.6 C461.4,32.5 462.8,32.4 463.7,33.6 C464.6,34.8 465.3,37.3 465.8,38.8 C466.3,40.3 467.2,41.4 466.8,42.8 C466.4,44.1 464.9,45.9 463.7,46.9 C462.5,47.9 461.0,48.6 459.6,49.0 C458.2,49.4 457.0,49.2 455.5,49.5 C454.0,49.8 451.8,50.1 450.4,50.5 C449.0,50.9 447.6,51.2 447.4,52.0 C447.1,52.8 449.1,53.9 448.9,55.1 C448.7,56.3 447.2,58.0 446.3,59.2 C445.4,60.4 443.8,61.8 443.3,62.3" stroke="#b9b9b9" stroke-width="1.4" fill="none" stroke-linecap="round" stroke-linejoin="round"/>
<path d="M446.3,61.1 C447.5,61.1 451.6,60.4 453.5,61.1 C455.4,61.8 456.9,63.7 457.6,65.2 C458.3,66.7 458.1,68.9 457.6,70.3 C457.1,71.7 455.0,72.9 454.5,73.4" stroke="#b9b9b9" stroke-width="1.4" fill="none" stroke-linecap="round" stroke-linejoin="round"/>
<path d="M440.2,72.4 C441.6,72.2 446.0,71.2 448.4,71.4 C450.8,71.6 453.0,72.1 454.5,73.4 C456.0,74.8 457.2,77.6 457.6,79.5 C458.0,81.4 457.8,83.4 456.6,84.6 C455.4,85.8 452.8,86.3 450.4,86.7 C448.0,87.1 444.5,86.5 442.3,86.7 C440.1,86.9 438.1,87.0 437.2,87.7 C436.3,88.4 435.8,90.4 437.2,90.8 C438.6,91.2 443.1,90.3 445.3,90.3 C447.5,90.3 449.5,90.7 450.4,90.8" stroke="#b9b9b9" stroke-width="1.4" fill="none" stroke-linecap="round" stroke-linejoin="round"/>
<path d="M466.8,80.5 C467.0,83.1 467.2,92.0 467.8,95.9 C468.4,99.8 469.7,101.3 470.4,104.0 C471.1,106.7 472.2,109.8 471.9,112.2 C471.6,114.6 470.2,116.9 468.8,118.4 C467.4,119.9 464.6,120.9 463.7,121.4" stroke="#b9b9b9" stroke-width="1.4" fill="none" stroke-linecap="round" stroke-linejoin="round"/>
<path d="M493.4,68.3 C493.7,70.3 494.9,75.9 495.4,80.5 C495.9,85.1 496.6,91.6 496.4,95.9 C496.2,100.2 495.1,103.4 494.4,106.1 C493.7,108.8 492.6,111.2 492.3,112.2" stroke="#b9b9b9" stroke-width="1.4" fill="none" stroke-linecap="round" stroke-linejoin="round"/>
<path d="M445.3,121.4 C447.0,121.6 452.1,122.1 455.5,122.4 C458.9,122.8 464.1,123.3 465.8,123.5" stroke="#b9b9b9" stroke-width="1.4" fill="none" stroke-linecap="round" stroke-linejoin="round"/>
<path d="M442.5,110.0 C442.9,111.0 443.7,114.1 444.9,115.8 C446.1,117.5 447.8,119.0 449.5,119.9 C451.2,120.8 453.2,121.2 455.4,121.1 C457.5,121.0 460.3,120.4 462.4,119.3 C464.5,118.2 466.8,116.2 468.2,114.7 C469.6,113.2 470.1,110.8 470.5,110.0" stroke="#b9b9b9" stroke-width="1.4" fill="none" stroke-linecap="round" stroke-linejoin="round"/>
<path d="M441.4,125.2 C442.2,125.1 444.1,124.8 446.0,124.6 C447.9,124.4 451.1,124.2 453.0,124.0 C454.9,123.8 457.9,123.0 457.7,123.4 C457.5,123.8 454.3,125.9 452.0,126.5 C449.7,127.1 445.8,127.2 444.0,127.0 C442.2,126.8 441.8,125.5 441.4,125.2" stroke="#b9b9b9" stroke-width="1.4" fill="none" stroke-linecap="round" stroke-linejoin="round"/>
<path d="M472.9,119.3 C473.1,120.2 473.2,123.9 474.0,124.6 C474.8,125.3 476.0,124.1 477.6,123.4 C479.2,122.7 481.6,121.6 483.4,120.5 C485.1,119.4 486.9,118.4 488.1,117.0 C489.3,115.6 490.0,113.1 490.4,112.3" stroke="#b9b9b9" stroke-width="1.4" fill="none" stroke-linecap="round" stroke-linejoin="round"/>
<path d="M495.1,119.3 C494.7,119.7 493.3,120.3 492.7,121.7 C492.1,123.1 492.4,125.8 491.6,127.5 C490.8,129.2 489.5,131.2 488.1,132.2 C486.7,133.2 485.0,132.6 483.4,133.4 C481.8,134.2 479.8,135.4 478.7,136.9 C477.6,138.4 477.0,140.6 477.0,142.7 C477.0,144.8 477.6,147.4 478.7,149.7 C479.8,152.0 481.8,155.9 483.4,156.7 C485.0,157.5 487.1,154.6 488.6,154.4 C490.1,154.2 491.6,154.2 492.2,155.6 C492.8,157.0 492.4,160.3 492.2,162.6 C492.0,164.9 491.3,167.3 491.0,169.6 C490.7,171.9 491.3,175.8 490.4,176.6 C489.5,177.4 487.2,175.3 485.7,174.3 C484.1,173.3 482.7,171.5 481.1,170.7 C479.6,169.9 477.2,169.4 476.4,169.6 C475.6,169.8 475.6,171.2 476.4,171.9 C477.2,172.6 480.2,173.2 481.0,173.5" stroke="#b9b9b9" stroke-width="1.4" fill="none" stroke-linecap="round" stroke-linejoin="round"/>
<path d="M458.9,126.4 C459.5,127.6 461.6,130.7 462.4,133.4 C463.2,136.1 463.3,140.0 463.5,142.7 C463.7,145.4 463.2,147.4 463.5,149.7 C463.8,152.0 464.9,154.4 465.3,156.7 C465.7,159.0 465.6,163.3 465.9,163.7 C466.2,164.1 466.4,160.6 467.0,159.1 C467.6,157.6 469.0,155.2 469.4,154.4" stroke="#b9b9b9" stroke-width="1.4" fill="none" stroke-linecap="round" stroke-linejoin="round"/>
<path d="M484.2,64.2 C484.4,63.7 484.8,61.4 485.7,61.1 C486.6,60.9 488.4,62.0 489.3,62.7 C490.2,63.4 491.0,64.8 491.3,65.2" stroke="#b9b9b9" stroke-width="1.4" fill="none" stroke-linecap="round" stroke-linejoin="round"/>
<path d="M510.2,10.0 C510.5,10.7 511.4,12.7 512.0,14.0 C512.6,15.3 513.0,17.5 514.0,18.0 C515.0,18.5 516.7,17.9 518.0,17.0 C519.3,16.1 521.0,13.2 522.0,12.5 C523.0,11.8 523.7,11.8 524.0,13.0 C524.3,14.2 523.8,17.8 524.0,20.0 C524.2,22.2 524.5,24.2 525.0,26.0 C525.5,27.8 526.2,30.0 527.0,31.0 C527.8,32.0 529.0,32.5 530.0,32.0 C531.0,31.5 532.0,29.0 533.0,28.0 C534.0,27.0 534.8,26.5 536.0,26.0 C537.2,25.5 539.0,24.7 540.0,25.0 C541.0,25.3 542.0,26.5 542.0,28.0 C542.0,29.5 540.7,32.0 540.0,34.0 C539.3,36.0 538.5,38.0 538.0,40.0 C537.5,42.0 536.7,44.3 537.0,46.0 C537.3,47.7 538.5,49.0 540.0,50.0 C541.5,51.0 544.0,52.0 546.0,52.0 C548.0,52.0 550.5,49.8 552.0,50.0 C553.5,50.2 554.5,52.5 555.0,53.0" stroke="#b9b9b9" stroke-width="1.4" fill="none" stroke-linecap="round" stroke-linejoin="round"/>
<path d="M510.2,10.0 C509.9,11.0 508.8,14.0 508.5,16.0 C508.2,18.0 507.9,20.3 508.5,22.0 C509.1,23.7 511.0,24.7 512.0,26.0 C513.0,27.3 514.2,28.3 514.5,30.0 C514.8,31.7 514.6,34.3 514.0,36.0 C513.4,37.7 512.0,38.7 511.0,40.0 C510.0,41.3 508.6,42.3 508.0,44.0 C507.4,45.7 507.8,48.3 507.5,50.0 C507.2,51.7 506.2,53.3 506.0,54.0" stroke="#b9b9b9" stroke-width="1.4" fill="none" stroke-linecap="round" stroke-linejoin="round"/>
<path d="M515.3,58.0 C514.6,59.2 512.6,62.5 511.2,65.2 C509.8,67.9 508.0,70.6 507.0,74.0 C506.0,77.4 505.2,81.2 505.1,85.7 C505.0,90.2 504.9,96.6 506.1,101.0 C507.3,105.4 511.3,110.3 512.3,112.2" stroke="#b9b9b9" stroke-width="1.4" fill="none" stroke-linecap="round" stroke-linejoin="round"/>
<path d="M549.0,55.0 C548.8,56.7 548.5,62.3 548.0,65.2 C547.5,68.1 546.7,69.5 546.0,72.4 C545.3,75.3 543.6,80.6 543.9,82.6 C544.2,84.6 545.8,84.1 548.0,84.6 C550.2,85.1 555.0,85.8 557.2,85.7 C559.4,85.6 560.4,84.3 561.0,84.0" stroke="#b9b9b9" stroke-width="1.4" fill="none" stroke-linecap="round" stroke-linejoin="round"/>
<path d="M530.7,102.0 C531.0,103.0 531.4,106.4 532.7,108.1 C534.1,109.8 536.6,111.2 538.8,112.2 C541.0,113.2 543.3,114.0 546.0,114.3 C548.7,114.6 552.7,114.5 555.2,114.3 C557.8,114.1 560.3,113.4 561.3,113.2" stroke="#b9b9b9" stroke-width="1.4" fill="none" stroke-linecap="round" stroke-linejoin="round"/>
<path d="M530.7,116.4 C532.7,116.4 538.9,116.6 542.4,116.4 C545.9,116.2 548.6,115.7 551.7,115.3 C554.8,114.9 559.4,114.4 561.1,114.1 C562.8,113.8 562.5,113.7 561.7,113.5 C560.9,113.3 558.8,112.9 556.4,112.9 C554.0,112.9 548.6,113.4 547.1,113.5" stroke="#b9b9b9" stroke-width="1.4" fill="none" stroke-linecap="round" stroke-linejoin="round"/>
<path d="M505.0,118.8 C505.8,119.2 508.7,119.8 509.7,121.1 C510.7,122.4 510.8,125.1 510.8,126.4 C510.8,127.7 508.9,128.0 509.7,128.7 C510.5,129.4 513.5,130.0 515.5,130.4 C517.5,130.8 519.6,130.5 521.4,131.0 C523.1,131.5 524.8,132.2 526.0,133.4 C527.2,134.6 528.2,136.4 528.4,138.0 C528.6,139.6 528.0,141.5 527.2,142.7 C526.4,143.9 525.1,144.0 523.7,145.0 C522.3,146.0 520.5,148.0 519.0,148.6 C517.5,149.2 515.5,148.0 514.4,148.6 C513.3,149.2 512.8,150.3 512.6,152.1 C512.4,153.8 513.3,157.0 513.2,159.1 C513.1,161.2 512.0,163.2 512.0,164.9 C512.0,166.7 512.0,168.2 513.2,169.6 C514.4,171.0 517.5,172.1 519.0,173.1 C520.5,174.1 521.9,175.0 522.5,175.4" stroke="#b9b9b9" stroke-width="1.4" fill="none" stroke-linecap="round" stroke-linejoin="round"/>
<path d="M520.2,148.6 C521.0,149.0 523.1,150.1 524.9,150.9 C526.6,151.7 529.2,153.0 530.7,153.2 C532.2,153.4 533.0,151.9 534.2,152.1 C535.4,152.3 536.2,153.6 537.7,154.4 C539.2,155.2 543.1,157.7 543.5,156.7 C543.9,155.7 540.8,150.9 540.0,148.6 C539.2,146.3 538.5,144.5 538.9,142.7 C539.3,140.9 540.6,138.4 542.4,138.0 C544.1,137.6 548.6,140.6 549.4,140.4 C550.2,140.2 548.2,138.1 547.0,136.9 C545.8,135.7 543.4,134.8 542.4,133.4 C541.4,132.0 540.8,130.1 541.2,128.7 C541.6,127.3 544.1,126.6 544.7,125.2 C545.3,123.8 544.1,121.7 544.7,120.5 C545.3,119.3 547.6,118.6 548.2,118.2" stroke="#b9b9b9" stroke-width="1.4" fill="none" stroke-linecap="round" stroke-linejoin="round"/>
<path d="M519.0,164.9 C519.4,165.7 520.2,168.4 521.4,169.6 C522.6,170.8 524.5,171.9 526.0,171.9 C527.5,171.9 529.5,170.6 530.7,169.6 C531.9,168.6 533.0,167.1 533.0,166.1 C533.0,165.1 531.5,163.7 530.7,163.7 C529.9,163.7 528.6,164.7 528.4,166.1 C528.2,167.5 529.3,170.9 529.5,171.9" stroke="#b9b9b9" stroke-width="1.4" fill="none" stroke-linecap="round" stroke-linejoin="round"/>
<path d="M513.3,64.5 C513.6,64.0 514.5,62.1 515.0,61.5 C515.5,60.9 516.2,61.1 516.5,61.0" stroke="#b9b9b9" stroke-width="1.4" fill="none" stroke-linecap="round" stroke-linejoin="round"/>
<path d="M490.0,125.0 C490.5,124.2 491.8,121.5 493.0,120.5 C494.2,119.5 495.6,119.3 497.0,119.0 C498.4,118.7 499.8,118.8 501.3,118.9 C502.8,119.0 504.7,119.1 506.0,119.5 C507.3,119.9 508.2,120.6 509.0,121.5 C509.8,122.4 510.7,124.4 511.0,125.0" stroke="#b9b9b9" stroke-width="1.4" fill="none" stroke-linecap="round" stroke-linejoin="round"/>
<path d="M485.7,19.3 C485.6,20.1 486.3,22.7 485.2,24.4 C484.1,26.1 480.9,28.1 479.0,29.6 C477.1,31.1 475.2,32.4 473.9,33.6 C472.6,34.8 471.8,36.2 471.4,36.7" stroke="#3a3a3a" stroke-width="0.8" fill="none" stroke-linecap="round"/>
<path d="M471.9,23.4 C471.0,24.2 468.5,26.6 466.8,28.5 C465.1,30.4 463.2,32.5 461.7,34.7 C460.2,36.9 458.8,39.6 457.6,41.8 C456.4,44.0 455.0,47.0 454.5,48.0" stroke="#3a3a3a" stroke-width="0.8" fill="none" stroke-linecap="round"/>
<path d="M452.5,56.6 C451.6,57.0 448.9,58.1 447.4,59.2 C445.9,60.3 444.0,62.6 443.3,63.3" stroke="#3a3a3a" stroke-width="0.8" fill="none" stroke-linecap="round"/>
<path d="M443.3,61.1 L450.4,57.0" stroke="#3a3a3a" stroke-width="0.8" fill="none" stroke-linecap="round"/>
<path d="M450.4,73.4 C451.2,73.5 453.8,73.3 455.5,73.9 C457.2,74.5 459.0,76.0 460.7,77.0 C462.4,78.0 464.1,79.1 465.8,80.0 C467.5,80.9 468.7,82.5 470.9,82.6 C473.1,82.7 476.6,80.8 479.0,80.5 C481.4,80.2 483.1,80.8 485.2,81.1 C487.2,81.4 489.4,82.1 491.3,82.6 C493.2,83.1 495.5,83.8 496.4,84.1" stroke="#3a3a3a" stroke-width="0.8" fill="none" stroke-linecap="round"/>
<path d="M436.1,80.5 C437.1,81.7 440.1,86.2 442.3,87.7 C444.5,89.2 447.5,88.0 449.4,89.7 C451.3,91.4 452.1,96.0 453.5,97.9 C454.9,99.8 455.6,100.4 457.6,101.0 C459.7,101.6 463.2,101.4 465.8,101.5 C468.4,101.6 470.3,101.2 472.9,101.5 C475.4,101.8 478.6,101.7 481.1,103.0 C483.7,104.3 485.8,107.3 488.2,109.2 C490.6,111.1 494.2,113.5 495.4,114.3" stroke="#3a3a3a" stroke-width="0.8" fill="none" stroke-linecap="round"/>
<path d="M435.1,92.8 C435.8,94.0 437.8,97.5 439.2,100.0 C440.6,102.5 441.9,105.4 443.3,108.1 C444.7,110.8 446.2,114.1 447.4,116.3 C448.6,118.5 449.9,120.6 450.4,121.4" stroke="#3a3a3a" stroke-width="0.8" fill="none" stroke-linecap="round"/>
<path d="M442.5,110.0 C443.3,111.5 445.6,117.0 447.2,119.3 C448.8,121.6 450.7,122.0 451.9,124.0 C453.1,126.0 453.2,128.7 454.2,131.0 C455.2,133.3 456.1,135.5 457.7,138.0 C459.2,140.5 461.8,143.8 463.5,146.2 C465.2,148.5 466.9,150.3 468.2,152.1 C469.5,153.8 470.4,154.8 471.1,156.7 C471.8,158.6 472.1,162.5 472.3,163.7" stroke="#3a3a3a" stroke-width="0.8" fill="none" stroke-linecap="round"/>
<path d="M451.9,124.0 C453.1,123.9 456.4,123.5 458.9,123.4 C461.4,123.3 464.9,122.9 467.0,123.4 C469.1,123.9 470.1,125.1 471.7,126.4 C473.3,127.7 474.6,129.2 476.4,131.0 C478.1,132.8 481.2,135.9 482.2,136.9" stroke="#3a3a3a" stroke-width="0.8" fill="none" stroke-linecap="round"/>
<path d="M483.4,148.0 L512.0,148.0" stroke="#3a3a3a" stroke-width="0.8" fill="none" stroke-linecap="round"/>
<path d="M518.7,16.4 C519.8,17.3 523.2,19.5 525.2,21.7 C527.2,23.9 529.4,26.3 530.5,29.6 C531.6,32.9 531.5,36.1 531.8,41.4 C532.1,46.6 532.3,57.8 532.4,61.1" stroke="#3a3a3a" stroke-width="0.8" fill="none" stroke-linecap="round"/>
<path d="M534.4,15.1 C534.2,15.8 533.2,17.6 533.1,19.1 C533.0,20.6 533.1,22.5 534.0,24.0 C534.9,25.5 536.8,26.7 538.4,28.3 C540.0,29.9 542.2,31.9 543.6,33.5 C545.0,35.1 546.4,37.3 546.9,38.1" stroke="#3a3a3a" stroke-width="0.8" fill="none" stroke-linecap="round"/>
<path d="M504.1,83.6 C505.6,83.4 510.6,82.7 513.3,82.4 C516.0,82.2 516.8,82.5 520.4,82.1 C524.0,81.7 531.0,81.1 534.7,80.0 C538.5,78.9 540.0,76.6 542.9,75.4 C545.8,74.2 550.6,73.3 552.1,72.9" stroke="#3a3a3a" stroke-width="0.8" fill="none" stroke-linecap="round"/>
<path d="M505.1,111.7 C506.0,110.9 507.6,108.5 510.2,107.1 C512.8,105.7 517.0,104.3 520.4,103.5 C523.8,102.7 527.3,102.8 530.7,102.5 C534.1,102.2 538.4,102.4 540.9,102.0 C543.4,101.6 544.3,102.0 546.0,100.0 C547.7,98.0 549.1,92.6 551.1,89.7 C553.1,86.8 555.8,84.5 558.2,82.6 C560.6,80.6 564.2,78.8 565.4,78.0" stroke="#3a3a3a" stroke-width="0.8" fill="none" stroke-linecap="round"/>
<path d="M548.9,55.2 C550.0,56.4 553.2,59.7 555.4,62.4 C557.6,65.1 560.5,69.0 562.0,71.6 C563.5,74.2 564.2,77.1 564.6,78.2" stroke="#3a3a3a" stroke-width="0.8" fill="none" stroke-linecap="round"/>
<path d="M553.1,104.0 C554.5,102.3 558.9,96.5 561.3,93.8 C563.7,91.1 566.4,88.7 567.4,87.7" stroke="#3a3a3a" stroke-width="0.8" fill="none" stroke-linecap="round"/>
<path d="M529.5,116.4 C529.4,117.3 529.3,119.9 528.9,121.7 C528.5,123.5 528.2,125.8 527.2,127.5 C526.2,129.2 524.9,130.5 523.1,132.2 C521.4,133.9 517.8,136.6 516.7,137.5" stroke="#3a3a3a" stroke-width="0.8" fill="none" stroke-linecap="round"/>
<path d="M554.1,110.0 C553.8,110.6 552.8,112.0 552.3,113.5 C551.8,115.0 551.8,117.0 551.1,119.3 C550.4,121.6 549.7,125.0 548.2,127.5 C546.8,129.9 544.4,132.2 542.4,134.0 C540.4,135.8 538.5,136.6 536.5,138.0 C534.5,139.4 532.6,141.2 530.7,142.7 C528.8,144.2 525.9,146.1 524.9,146.8" stroke="#3a3a3a" stroke-width="0.8" fill="none" stroke-linecap="round"/>
<path d="M471.9,92.8 L486.7,92.8 L489.3,95.9 L488.8,98.4 L484.2,100.0 L482.1,103.0 L479.0,103.0 L476.0,100.0 L472.9,96.9Z" fill="#fbbd00"/>
<path d="M466.8,77.0 L472.9,76.0 L479.0,75.4 L484.2,76.5 L483.6,81.6 L485.7,85.7 L487.2,89.7 L486.7,93.0 L478.0,93.0 L472.9,93.5 L469.3,91.8 L468.3,85.7 L467.3,80.5Z" fill="#e60000"/>
<path d="M467.3,75.4 C467.5,74.4 468.0,72.8 468.8,71.4 C469.6,70.1 470.9,68.7 471.9,67.3 C472.9,65.9 473.8,64.4 475.0,63.2 C476.2,62.0 477.6,60.9 479.0,60.1 C480.4,59.3 481.6,58.9 483.1,58.6 C484.6,58.4 486.7,58.2 488.2,58.6 C489.7,59.0 491.5,60.2 492.3,61.1 C493.1,62.0 493.0,63.0 492.8,64.2 C492.6,65.4 492.1,66.8 491.3,68.3 C490.5,69.8 489.4,72.0 488.2,73.4 C487.0,74.8 485.7,76.1 484.2,76.5 C482.7,76.9 480.9,75.6 479.0,75.6 C477.1,75.5 474.8,75.9 472.9,76.2 C471.0,76.5 468.7,77.3 467.8,77.2 C466.9,77.1 467.1,76.4 467.3,75.4Z" fill="#0c0000"/>
<path d="M510.2,98.9 L513.3,95.9 L520.4,94.9 L532.7,94.3 L532.7,97.9 L528.6,100.0 L524.5,102.5 L517.4,102.0 L512.3,101.5Z" fill="#fbbd00"/>
<path d="M519.4,77.0 L536.8,75.4 L536.3,81.6 L534.2,87.7 L533.7,94.2 L528.6,95.1 L520.4,95.1 L516.3,96.1 L515.3,91.8 L520.4,87.7 L520.4,81.6Z" fill="#e60000"/>
<path d="M512.3,64.7 C512.6,63.4 513.9,61.5 515.3,60.6 C516.6,59.7 518.7,59.3 520.4,59.1 C522.1,58.9 523.8,59.0 525.5,59.6 C527.2,60.2 529.2,61.2 530.7,62.7 C532.2,64.2 533.4,66.3 534.2,68.3 C535.1,70.2 535.7,73.1 535.8,74.4 C535.9,75.7 536.4,75.5 534.7,75.9 C533.0,76.3 528.0,76.4 525.5,76.6 C523.0,76.8 520.9,77.9 519.4,77.2 C517.9,76.5 517.3,73.9 516.3,72.4 C515.3,70.9 514.0,69.6 513.3,68.3 C512.6,67.0 512.0,66.0 512.3,64.7Z" fill="#0c0000"/>
<path d="M497.6,8.5 C497.0,8.1 495.8,6.8 494.0,6.2 C492.2,5.7 489.8,5.2 487.1,5.2 C484.4,5.2 481.2,5.4 477.9,6.4 C474.6,7.5 470.5,9.3 467.4,11.5 C464.2,13.7 461.7,15.9 459.0,19.5 C456.3,23.1 453.7,28.7 451.3,33.2 C448.9,37.7 446.7,41.5 444.7,46.3 C442.7,51.0 440.8,56.6 439.2,61.7 C437.6,66.8 436.1,72.1 434.9,77.0 C433.7,81.9 432.8,86.5 432.1,91.3 C431.4,96.0 430.8,102.0 430.5,105.5 C430.2,109.0 430.2,109.3 430.3,112.0 C430.4,114.7 430.7,118.1 431.4,121.7 C432.1,125.3 432.8,129.5 434.3,133.4 C435.8,137.3 437.9,141.3 440.2,145.0 C442.5,148.7 445.3,152.3 448.4,155.6 C451.5,158.9 455.4,162.0 458.9,164.9 C462.4,167.8 465.9,170.8 469.4,173.1 C472.9,175.4 476.6,177.5 479.9,178.9 C483.2,180.3 486.7,181.1 489.2,181.3 C491.7,181.5 493.4,180.6 495.1,180.1 C496.8,179.6 498.5,178.6 499.2,178.3" stroke="#3d3d3d" stroke-width="1.9" fill="none" stroke-linecap="round" stroke-linejoin="round"/>
<path d="M502.9,8.5 C503.8,8.0 506.1,6.1 508.2,5.5 C510.3,4.9 512.9,4.8 515.3,5.0 C517.7,5.2 519.9,5.6 522.5,6.6 C525.1,7.6 528.2,9.8 530.7,11.2 C533.2,12.6 535.8,13.8 537.8,15.2 C539.8,16.6 541.4,17.9 542.9,19.6 C544.4,21.3 545.6,23.2 547.0,25.5 C548.4,27.8 549.8,30.8 551.0,33.2 C552.2,35.6 553.4,37.8 554.5,40.0 C555.6,42.2 556.3,43.0 557.5,46.3 C558.7,49.5 560.4,55.1 561.9,59.5 C563.4,63.9 565.2,68.2 566.3,72.6 C567.4,77.0 567.9,81.4 568.5,85.8 C569.1,90.2 569.7,95.0 570.1,99.0 C570.5,103.0 570.8,106.6 570.8,110.0 C570.8,113.4 570.8,115.8 570.4,119.3 C570.0,122.8 569.3,127.1 568.1,131.0 C566.9,134.9 565.4,139.0 563.4,142.7 C561.4,146.4 559.1,149.9 556.4,153.2 C553.7,156.5 550.4,159.7 547.1,162.6 C543.8,165.5 540.0,168.4 536.5,170.7 C533.0,173.0 529.3,175.0 526.0,176.6 C522.7,178.2 519.4,179.5 516.7,180.1 C514.0,180.7 511.6,180.6 509.7,180.1 C507.8,179.6 506.3,177.7 505.6,177.2" stroke="#3d3d3d" stroke-width="1.9" fill="none" stroke-linecap="round" stroke-linejoin="round"/>
<path d="M497.4,8.5 L498.4,178.3" stroke="#3d3d3d" stroke-width="1.9" fill="none" stroke-linecap="round" stroke-linejoin="round"/>
<path d="M503.0,8.5 L504.2,177.5" stroke="#3d3d3d" stroke-width="1.9" fill="none" stroke-linecap="round" stroke-linejoin="round"/>
<text class="bl" x="442.3" y="21">L</text>
<text class="bl" x="550.8" y="21">R</text>
<defs><linearGradient id="hot" x1="0" y1="0" x2="0" y2="1"><stop offset="0" stop-color="#0b0000"/><stop offset="0.365" stop-color="#ff0000"/><stop offset="0.746" stop-color="#ffff00"/><stop offset="1" stop-color="#ffffff"/></linearGradient></defs>
<rect x="621" y="6.3" width="8.7" height="174.8" fill="url(#hot)" stroke="#333" stroke-width="0.9"/>
<text class="cb" x="612" y="11.8" text-anchor="end" textLength="14.6" lengthAdjust="spacingAndGlyphs">1.2</text>
<text class="cb" x="612" y="55.3" text-anchor="end" textLength="21.2" lengthAdjust="spacingAndGlyphs">0.87</text>
<text class="cb" x="612" y="99" text-anchor="end" textLength="21.2" lengthAdjust="spacingAndGlyphs">0.58</text>
<text class="cb" x="612" y="142.7" text-anchor="end" textLength="21.4" lengthAdjust="spacingAndGlyphs">0.29</text>
<text class="cb" x="613.2" y="185.8" text-anchor="end" textLength="6.2" lengthAdjust="spacingAndGlyphs">0</text>
<rect x="46.6" y="227.4" width="287.9" height="665.6" fill="#fff"/>
<line x1="46.6" x2="334.5" y1="704.5" y2="704.5" stroke="#ebebeb" stroke-width="0.6"/>
<line x1="46.6" x2="334.5" y1="495.5" y2="495.5" stroke="#ebebeb" stroke-width="0.6"/>
<line x1="46.6" x2="334.5" y1="286.5" y2="286.5" stroke="#ebebeb" stroke-width="0.6"/>
<line x1="46.6" x2="334.5" y1="809" y2="809" stroke="#ebebeb" stroke-width="1.1"/>
<line x1="46.6" x2="334.5" y1="600" y2="600" stroke="#ebebeb" stroke-width="1.1"/>
<line x1="46.6" x2="334.5" y1="391" y2="391" stroke="#ebebeb" stroke-width="1.1"/>
<line x1="117.6" x2="117.6" y1="227.4" y2="893" stroke="#ebebeb" stroke-width="1.1"/>
<line x1="190.7" x2="190.7" y1="227.4" y2="893" stroke="#ebebeb" stroke-width="1.1"/>
<line x1="263.6" x2="263.6" y1="227.4" y2="893" stroke="#ebebeb" stroke-width="1.1"/>
<line x1="117.6" x2="117.6" y1="316.5" y2="454.33" stroke="#333333" stroke-width="1.3"/>
<line x1="117.6" x2="117.6" y1="561.34" y2="714.8" stroke="#333333" stroke-width="1.3"/>
<rect x="90" y="454.33" width="55.2" height="107.01" fill="#132B43" fill-opacity="0.7" stroke="#333333" stroke-width="1.5"/>
<line x1="90" x2="145.2" y1="511.18" y2="511.18" stroke="#333" stroke-width="2.5"/>
<line x1="190.7" x2="190.7" y1="302.9" y2="475.64" stroke="#333333" stroke-width="1.3"/>
<line x1="190.7" x2="190.7" y1="590.6" y2="756.7" stroke="#333333" stroke-width="1.3"/>
<rect x="163.1" y="475.64" width="55.2" height="114.95" fill="#336A98" fill-opacity="0.7" stroke="#333333" stroke-width="1.5"/>
<line x1="163.1" x2="218.3" y1="526.85" y2="526.85" stroke="#333" stroke-width="2.5"/>
<line x1="263.6" x2="263.6" y1="285.9" y2="482.96" stroke="#333333" stroke-width="1.3"/>
<line x1="263.6" x2="263.6" y1="621.95" y2="817" stroke="#333333" stroke-width="1.3"/>
<rect x="236" y="482.96" width="55.2" height="138.99" fill="#56B1F7" fill-opacity="0.7" stroke="#333333" stroke-width="1.5"/>
<line x1="236" x2="291.2" y1="554.02" y2="554.02" stroke="#333" stroke-width="2.5"/>
<g fill="#000" fill-opacity="0.42">
<circle cx="120.34" cy="511.22" r="3.3"/>
<circle cx="120.56" cy="551.58" r="3.3"/>
<circle cx="114.6" cy="626.87" r="3.3"/>
<circle cx="115.4" cy="449.25" r="3.3"/>
<circle cx="115.34" cy="441.89" r="3.3"/>
<circle cx="120.24" cy="383.74" r="3.3"/>
<circle cx="117.78" cy="437.62" r="3.3"/>
<circle cx="118.68" cy="507.09" r="3.3"/>
<circle cx="118.81" cy="453.64" r="3.3"/>
<circle cx="119.58" cy="635.76" r="3.3"/>
<circle cx="114.2" cy="389.45" r="3.3"/>
<circle cx="119.75" cy="522.23" r="3.3"/>
<circle cx="117.84" cy="426.74" r="3.3"/>
<circle cx="115.82" cy="592.9" r="3.3"/>
<circle cx="119.9" cy="682" r="3.3"/>
<circle cx="119.9" cy="696.9" r="3.3"/>
<circle cx="114.27" cy="522.04" r="3.3"/>
<circle cx="117.25" cy="570.1" r="3.3"/>
<circle cx="114.59" cy="640.11" r="3.3"/>
<circle cx="114.68" cy="445.8" r="3.3"/>
<circle cx="121.33" cy="493.29" r="3.3"/>
<circle cx="119.2" cy="576.52" r="3.3"/>
<circle cx="113.82" cy="397.75" r="3.3"/>
<circle cx="115.22" cy="416.58" r="3.3"/>
<circle cx="113.84" cy="543.36" r="3.3"/>
<circle cx="115.29" cy="522.3" r="3.3"/>
<circle cx="119.7" cy="396.94" r="3.3"/>
<circle cx="116.47" cy="572.71" r="3.3"/>
<circle cx="114.01" cy="470.25" r="3.3"/>
<circle cx="121.46" cy="401.56" r="3.3"/>
<circle cx="119.05" cy="521" r="3.3"/>
<circle cx="115.19" cy="498.36" r="3.3"/>
<circle cx="118.52" cy="388.98" r="3.3"/>
<circle cx="118.14" cy="537.41" r="3.3"/>
<circle cx="120.9" cy="620.8" r="3.3"/>
<circle cx="118.1" cy="422.58" r="3.3"/>
<circle cx="120.41" cy="456.51" r="3.3"/>
<circle cx="113.87" cy="439.13" r="3.3"/>
<circle cx="119.12" cy="580.55" r="3.3"/>
<circle cx="114.81" cy="443.08" r="3.3"/>
<circle cx="114.66" cy="639.78" r="3.3"/>
<circle cx="115.47" cy="482.92" r="3.3"/>
<circle cx="119.04" cy="612.21" r="3.3"/>
<circle cx="118.41" cy="592.8" r="3.3"/>
<circle cx="117.83" cy="480.56" r="3.3"/>
<circle cx="120.01" cy="526.73" r="3.3"/>
<circle cx="118.61" cy="378.4" r="3.3"/>
<circle cx="116.72" cy="401.72" r="3.3"/>
<circle cx="119.04" cy="519.61" r="3.3"/>
<circle cx="118.85" cy="594.39" r="3.3"/>
<circle cx="117.82" cy="555.23" r="3.3"/>
<circle cx="114.47" cy="401.88" r="3.3"/>
<circle cx="116.82" cy="459.25" r="3.3"/>
<circle cx="114.36" cy="515.55" r="3.3"/>
<circle cx="117.24" cy="519.92" r="3.3"/>
<circle cx="117.97" cy="556.92" r="3.3"/>
<circle cx="118.71" cy="493" r="3.3"/>
<circle cx="119.54" cy="573.08" r="3.3"/>
<circle cx="114.67" cy="582.39" r="3.3"/>
<circle cx="115.6" cy="524.12" r="3.3"/>
<circle cx="115.18" cy="483.08" r="3.3"/>
<circle cx="115.36" cy="534.52" r="3.3"/>
<circle cx="117.25" cy="423.33" r="3.3"/>
<circle cx="115.72" cy="396.78" r="3.3"/>
<circle cx="114.05" cy="484.03" r="3.3"/>
<circle cx="119.11" cy="581.29" r="3.3"/>
<circle cx="118.5" cy="481.5" r="3.3"/>
<circle cx="118.13" cy="468.68" r="3.3"/>
<circle cx="115.51" cy="554.93" r="3.3"/>
<circle cx="119.62" cy="495.54" r="3.3"/>
<circle cx="116.83" cy="546.18" r="3.3"/>
<circle cx="119.46" cy="514.49" r="3.3"/>
<circle cx="121.48" cy="520.05" r="3.3"/>
<circle cx="116.58" cy="570.3" r="3.3"/>
<circle cx="116.63" cy="457.14" r="3.3"/>
<circle cx="114.92" cy="391.18" r="3.3"/>
<circle cx="114.29" cy="442.3" r="3.3"/>
<circle cx="117.72" cy="526.05" r="3.3"/>
<circle cx="114.37" cy="540.69" r="3.3"/>
<circle cx="120.76" cy="465.58" r="3.3"/>
<circle cx="119.43" cy="649.46" r="3.3"/>
<circle cx="119.95" cy="561.45" r="3.3"/>
<circle cx="115.71" cy="604.87" r="3.3"/>
<circle cx="114.29" cy="500.4" r="3.3"/>
<circle cx="119.59" cy="559.98" r="3.3"/>
<circle cx="117.36" cy="554.47" r="3.3"/>
<circle cx="117.38" cy="487.63" r="3.3"/>
<circle cx="120.57" cy="507.75" r="3.3"/>
<circle cx="119.96" cy="568.25" r="3.3"/>
<circle cx="117.57" cy="480.77" r="3.3"/>
<circle cx="117.8" cy="722.3" r="3.3"/>
<circle cx="118.68" cy="414.75" r="3.3"/>
<circle cx="118.38" cy="370.9" r="3.3"/>
<circle cx="120.84" cy="477.18" r="3.3"/>
<circle cx="118.14" cy="469.07" r="3.3"/>
<circle cx="117.12" cy="612.73" r="3.3"/>
<circle cx="117.48" cy="420.72" r="3.3"/>
<circle cx="121.5" cy="468.63" r="3.3"/>
<circle cx="114.7" cy="315.8" r="3.3"/>
<circle cx="118.07" cy="651.28" r="3.3"/>
<circle cx="117.72" cy="550.96" r="3.3"/>
<circle cx="115.29" cy="463.72" r="3.3"/>
<circle cx="120.96" cy="533.44" r="3.3"/>
<circle cx="118.11" cy="429.98" r="3.3"/>
<circle cx="115.17" cy="576.27" r="3.3"/>
<circle cx="119.4" cy="468.09" r="3.3"/>
<circle cx="115.93" cy="613.81" r="3.3"/>
<circle cx="117.62" cy="498.46" r="3.3"/>
<circle cx="114.09" cy="582.25" r="3.3"/>
<circle cx="117.8" cy="354.5" r="3.3"/>
<circle cx="117.99" cy="441.49" r="3.3"/>
<circle cx="114.6" cy="511.83" r="3.3"/>
<circle cx="116.97" cy="512.32" r="3.3"/>
<circle cx="113.88" cy="466.25" r="3.3"/>
<circle cx="119.17" cy="591.4" r="3.3"/>
<circle cx="115.57" cy="423.84" r="3.3"/>
<circle cx="115.61" cy="511.69" r="3.3"/>
<circle cx="119.34" cy="410.94" r="3.3"/>
<circle cx="116.84" cy="556.8" r="3.3"/>
<circle cx="121.42" cy="570.96" r="3.3"/>
<circle cx="115.14" cy="438.42" r="3.3"/>
<circle cx="116.38" cy="398.87" r="3.3"/>
<circle cx="116.07" cy="624.33" r="3.3"/>
<circle cx="116.86" cy="495.15" r="3.3"/>
<circle cx="120.76" cy="405.87" r="3.3"/>
<circle cx="116.63" cy="576.4" r="3.3"/>
<circle cx="120.67" cy="433.89" r="3.3"/>
<circle cx="114.63" cy="594.97" r="3.3"/>
<circle cx="119.62" cy="488.43" r="3.3"/>
<circle cx="115.02" cy="615.56" r="3.3"/>
<circle cx="117.64" cy="440.36" r="3.3"/>
<circle cx="121.34" cy="482.91" r="3.3"/>
<circle cx="118.39" cy="610.83" r="3.3"/>
<circle cx="114.53" cy="594.6" r="3.3"/>
<circle cx="117.02" cy="579.62" r="3.3"/>
<circle cx="119.51" cy="564.08" r="3.3"/>
<circle cx="119.98" cy="525.91" r="3.3"/>
<circle cx="114.5" cy="462.98" r="3.3"/>
<circle cx="119.47" cy="514.21" r="3.3"/>
<circle cx="116.52" cy="498.32" r="3.3"/>
<circle cx="115.81" cy="515.81" r="3.3"/>
<circle cx="114.25" cy="458.47" r="3.3"/>
<circle cx="120.68" cy="506.31" r="3.3"/>
<circle cx="116.5" cy="442.01" r="3.3"/>
<circle cx="115.7" cy="458.83" r="3.3"/>
<circle cx="113.99" cy="479.78" r="3.3"/>
<circle cx="113.8" cy="493.37" r="3.3"/>
<circle cx="114.17" cy="573.94" r="3.3"/>
<circle cx="114.18" cy="480.21" r="3.3"/>
<circle cx="114.3" cy="344.8" r="3.3"/>
<circle cx="120.92" cy="517.59" r="3.3"/>
<circle cx="118.97" cy="467.15" r="3.3"/>
<circle cx="116.03" cy="614.3" r="3.3"/>
<circle cx="117.94" cy="512.85" r="3.3"/>
<circle cx="119.29" cy="514.73" r="3.3"/>
<circle cx="117.01" cy="496.4" r="3.3"/>
<circle cx="115.51" cy="626.52" r="3.3"/>
<circle cx="115.22" cy="571.6" r="3.3"/>
<circle cx="120.81" cy="562.18" r="3.3"/>
<circle cx="118.36" cy="522.3" r="3.3"/>
<circle cx="119.78" cy="492.36" r="3.3"/>
<circle cx="115.27" cy="451.53" r="3.3"/>
<circle cx="121.07" cy="532.25" r="3.3"/>
<circle cx="119.37" cy="571.22" r="3.3"/>
<circle cx="120.82" cy="371.71" r="3.3"/>
<circle cx="120.5" cy="322.5" r="3.3"/>
<circle cx="115.29" cy="549.29" r="3.3"/>
<circle cx="114.52" cy="436.48" r="3.3"/>
<circle cx="121.34" cy="396.82" r="3.3"/>
<circle cx="119.92" cy="506" r="3.3"/>
<circle cx="117.15" cy="520.4" r="3.3"/>
<circle cx="119.85" cy="516.18" r="3.3"/>
<circle cx="113.88" cy="577.94" r="3.3"/>
<circle cx="117.05" cy="544.51" r="3.3"/>
<circle cx="118.09" cy="503.5" r="3.3"/>
<circle cx="115.56" cy="414.05" r="3.3"/>
<circle cx="116.99" cy="619.27" r="3.3"/>
<circle cx="119.06" cy="441.57" r="3.3"/>
<circle cx="117.04" cy="462.1" r="3.3"/>
<circle cx="118.86" cy="513.52" r="3.3"/>
<circle cx="114.7" cy="358.9" r="3.3"/>
<circle cx="117.92" cy="495.5" r="3.3"/>
<circle cx="119.67" cy="621.61" r="3.3"/>
<circle cx="121.24" cy="539.46" r="3.3"/>
<circle cx="118.78" cy="502.89" r="3.3"/>
<circle cx="120.93" cy="531.12" r="3.3"/>
<circle cx="118.5" cy="722.6" r="3.3"/>
<circle cx="116.18" cy="552.29" r="3.3"/>
<circle cx="114.95" cy="493.39" r="3.3"/>
<circle cx="117.05" cy="619.08" r="3.3"/>
<circle cx="120.62" cy="424.1" r="3.3"/>
<circle cx="121.13" cy="618.4" r="3.3"/>
<circle cx="121.07" cy="580.32" r="3.3"/>
<circle cx="115.08" cy="510.5" r="3.3"/>
<circle cx="117.3" cy="570.31" r="3.3"/>
<circle cx="117.84" cy="505.11" r="3.3"/>
<circle cx="114.71" cy="509.5" r="3.3"/>
<circle cx="116.61" cy="452.03" r="3.3"/>
<circle cx="118.47" cy="411.14" r="3.3"/>
<circle cx="117.11" cy="627.08" r="3.3"/>
<circle cx="117.83" cy="650.96" r="3.3"/>
<circle cx="118" cy="599.87" r="3.3"/>
<circle cx="119.45" cy="434.56" r="3.3"/>
<circle cx="121.29" cy="574.16" r="3.3"/>
<circle cx="116.55" cy="547.69" r="3.3"/>
<circle cx="114.09" cy="618.09" r="3.3"/>
<circle cx="119.64" cy="645.85" r="3.3"/>
<circle cx="120.99" cy="480.89" r="3.3"/>
<circle cx="121.24" cy="623.25" r="3.3"/>
<circle cx="119.05" cy="540.13" r="3.3"/>
<circle cx="118.24" cy="483.86" r="3.3"/>
<circle cx="115.66" cy="457.12" r="3.3"/>
<circle cx="114.46" cy="516.77" r="3.3"/>
<circle cx="117.34" cy="544.1" r="3.3"/>
<circle cx="121.12" cy="606.34" r="3.3"/>
<circle cx="120.38" cy="519.14" r="3.3"/>
<circle cx="117.8" cy="664.1" r="3.3"/>
<circle cx="115.64" cy="521.18" r="3.3"/>
<circle cx="120.29" cy="489.3" r="3.3"/>
<circle cx="116.79" cy="424.57" r="3.3"/>
<circle cx="119.35" cy="439.5" r="3.3"/>
<circle cx="115.24" cy="585.9" r="3.3"/>
<circle cx="114.31" cy="442.23" r="3.3"/>
<circle cx="114.46" cy="401.98" r="3.3"/>
<circle cx="118.47" cy="475.46" r="3.3"/>
<circle cx="120.7" cy="471.77" r="3.3"/>
<circle cx="114" cy="276" r="3.3"/>
<circle cx="121.03" cy="512.56" r="3.3"/>
<circle cx="119.68" cy="461.42" r="3.3"/>
<circle cx="115.9" cy="529.9" r="3.3"/>
<circle cx="115.36" cy="448.71" r="3.3"/>
<circle cx="116.74" cy="549.95" r="3.3"/>
<circle cx="116.56" cy="507.64" r="3.3"/>
<circle cx="119.82" cy="496.02" r="3.3"/>
<circle cx="114.27" cy="556.22" r="3.3"/>
<circle cx="120.88" cy="480.26" r="3.3"/>
<circle cx="114.34" cy="523.6" r="3.3"/>
<circle cx="117.43" cy="531.27" r="3.3"/>
<circle cx="119.61" cy="579.91" r="3.3"/>
<circle cx="119.86" cy="483.02" r="3.3"/>
<circle cx="116.21" cy="609.03" r="3.3"/>
<circle cx="117.99" cy="506.81" r="3.3"/>
<circle cx="118.1" cy="396.93" r="3.3"/>
<circle cx="118.57" cy="427.45" r="3.3"/>
<circle cx="116.16" cy="566.2" r="3.3"/>
<circle cx="114.34" cy="436.64" r="3.3"/>
<circle cx="118.62" cy="486.38" r="3.3"/>
<circle cx="114.35" cy="545.87" r="3.3"/>
<circle cx="119.17" cy="562.98" r="3.3"/>
<circle cx="115.71" cy="411.34" r="3.3"/>
<circle cx="120.55" cy="437.19" r="3.3"/>
<circle cx="117.8" cy="686.2" r="3.3"/>
<circle cx="116.53" cy="533.65" r="3.3"/>
<circle cx="115.91" cy="542.87" r="3.3"/>
<circle cx="120.66" cy="464.36" r="3.3"/>
<circle cx="120.01" cy="519.86" r="3.3"/>
<circle cx="119.52" cy="433.71" r="3.3"/>
<circle cx="121.42" cy="478.04" r="3.3"/>
<circle cx="120.25" cy="408.95" r="3.3"/>
<circle cx="116.25" cy="447.46" r="3.3"/>
<circle cx="119.77" cy="546.92" r="3.3"/>
<circle cx="119.23" cy="426.44" r="3.3"/>
<circle cx="117.98" cy="461.02" r="3.3"/>
<circle cx="116" cy="288" r="3.3"/>
<circle cx="119.51" cy="612.18" r="3.3"/>
<circle cx="118.62" cy="425.58" r="3.3"/>
<circle cx="119.97" cy="527.38" r="3.3"/>
<circle cx="118.56" cy="516.36" r="3.3"/>
<circle cx="113.5" cy="322.8" r="3.3"/>
<circle cx="115.22" cy="501.31" r="3.3"/>
<circle cx="117.43" cy="474.65" r="3.3"/>
<circle cx="121.36" cy="488.81" r="3.3"/>
<circle cx="116.55" cy="427" r="3.3"/>
<circle cx="119.34" cy="498.45" r="3.3"/>
<circle cx="115.74" cy="527.34" r="3.3"/>
<circle cx="118.14" cy="570.41" r="3.3"/>
<circle cx="121.01" cy="394.67" r="3.3"/>
<circle cx="116.16" cy="552.54" r="3.3"/>
<circle cx="120.74" cy="546.94" r="3.3"/>
<circle cx="114.03" cy="486.37" r="3.3"/>
<circle cx="117.72" cy="497.69" r="3.3"/>
<circle cx="114.84" cy="556.79" r="3.3"/>
<circle cx="120.22" cy="573.51" r="3.3"/>
<circle cx="116.92" cy="563.24" r="3.3"/>
<circle cx="120.05" cy="559.71" r="3.3"/>
<circle cx="118.57" cy="548.25" r="3.3"/>
<circle cx="118.68" cy="556.93" r="3.3"/>
<circle cx="114.28" cy="460.91" r="3.3"/>
<circle cx="121.49" cy="529.94" r="3.3"/>
<circle cx="120.19" cy="530.51" r="3.3"/>
<circle cx="120.53" cy="503.27" r="3.3"/>
<circle cx="118.57" cy="521.33" r="3.3"/>
<circle cx="115.65" cy="486.14" r="3.3"/>
<circle cx="117.63" cy="410.11" r="3.3"/>
<circle cx="114.16" cy="459.42" r="3.3"/>
<circle cx="118.57" cy="483.9" r="3.3"/>
<circle cx="120.6" cy="679.1" r="3.3"/>
<circle cx="119.48" cy="426.36" r="3.3"/>
<circle cx="120.71" cy="401.7" r="3.3"/>
<circle cx="118.36" cy="417.78" r="3.3"/>
<circle cx="121" cy="362.7" r="3.3"/>
<circle cx="116.47" cy="549.45" r="3.3"/>
<circle cx="116.49" cy="591.35" r="3.3"/>
<circle cx="116.33" cy="495.68" r="3.3"/>
<circle cx="119.36" cy="588.67" r="3.3"/>
<circle cx="118.8" cy="517.95" r="3.3"/>
<circle cx="116.08" cy="505.48" r="3.3"/>
<circle cx="117.86" cy="406.23" r="3.3"/>
<circle cx="116.37" cy="486.42" r="3.3"/>
<circle cx="114.99" cy="578.45" r="3.3"/>
<circle cx="116.98" cy="457.65" r="3.3"/>
<circle cx="120.69" cy="490.37" r="3.3"/>
<circle cx="117.92" cy="579.5" r="3.3"/>
<circle cx="118.32" cy="564.32" r="3.3"/>
<circle cx="118.9" cy="536.09" r="3.3"/>
<circle cx="120.81" cy="642.51" r="3.3"/>
<circle cx="117" cy="276" r="3.3"/>
<circle cx="116.86" cy="574.67" r="3.3"/>
<circle cx="115.11" cy="535.52" r="3.3"/>
<circle cx="117.1" cy="659.9" r="3.3"/>
<circle cx="114.25" cy="421.98" r="3.3"/>
<circle cx="118.64" cy="591.22" r="3.3"/>
<circle cx="113.81" cy="466.9" r="3.3"/>
<circle cx="113.5" cy="364.7" r="3.3"/>
<circle cx="114.36" cy="596.02" r="3.3"/>
<circle cx="116.24" cy="572.47" r="3.3"/>
<circle cx="121.41" cy="399.13" r="3.3"/>
<circle cx="120.86" cy="374.41" r="3.3"/>
<circle cx="114.95" cy="517.91" r="3.3"/>
<circle cx="116.74" cy="476.74" r="3.3"/>
<circle cx="113.78" cy="392.94" r="3.3"/>
<circle cx="115.21" cy="508.63" r="3.3"/>
<circle cx="117.35" cy="533.03" r="3.3"/>
<circle cx="115.91" cy="489.3" r="3.3"/>
<circle cx="116.86" cy="431.96" r="3.3"/>
<circle cx="117.81" cy="493.76" r="3.3"/>
<circle cx="116.01" cy="566.07" r="3.3"/>
<circle cx="114.11" cy="371.01" r="3.3"/>
<circle cx="116.86" cy="566.51" r="3.3"/>
<circle cx="120.07" cy="546.69" r="3.3"/>
<circle cx="119.77" cy="465.36" r="3.3"/>
<circle cx="120.02" cy="464.56" r="3.3"/>
<circle cx="121.07" cy="476.03" r="3.3"/>
<circle cx="116.17" cy="520.07" r="3.3"/>
<circle cx="114.74" cy="532.62" r="3.3"/>
<circle cx="115.7" cy="331.3" r="3.3"/>
<circle cx="114.62" cy="460.6" r="3.3"/>
<circle cx="116.58" cy="375.55" r="3.3"/>
<circle cx="115.64" cy="425.16" r="3.3"/>
<circle cx="117.7" cy="586.94" r="3.3"/>
<circle cx="114.44" cy="421.24" r="3.3"/>
<circle cx="119.9" cy="714.8" r="3.3"/>
<circle cx="118.91" cy="555.59" r="3.3"/>
<circle cx="118.53" cy="610.58" r="3.3"/>
<circle cx="118.13" cy="470.09" r="3.3"/>
<circle cx="117.66" cy="394.25" r="3.3"/>
<circle cx="121.25" cy="606.04" r="3.3"/>
<circle cx="119.02" cy="599.31" r="3.3"/>
<circle cx="117.68" cy="477.44" r="3.3"/>
<circle cx="119.66" cy="559.41" r="3.3"/>
<circle cx="120.02" cy="440.44" r="3.3"/>
<circle cx="191.37" cy="542.57" r="3.3"/>
<circle cx="188.63" cy="519.54" r="3.3"/>
<circle cx="189.21" cy="599.26" r="3.3"/>
<circle cx="193.71" cy="568.58" r="3.3"/>
<circle cx="189.48" cy="493.48" r="3.3"/>
<circle cx="187" cy="670.4" r="3.3"/>
<circle cx="191.79" cy="420.56" r="3.3"/>
<circle cx="187.12" cy="483.21" r="3.3"/>
<circle cx="187.37" cy="544.24" r="3.3"/>
<circle cx="187.29" cy="631.15" r="3.3"/>
<circle cx="191.6" cy="474.14" r="3.3"/>
<circle cx="192.94" cy="587.52" r="3.3"/>
<circle cx="189.2" cy="500.29" r="3.3"/>
<circle cx="189.43" cy="503.98" r="3.3"/>
<circle cx="189.77" cy="567.99" r="3.3"/>
<circle cx="189.71" cy="522.66" r="3.3"/>
<circle cx="191" cy="744.4" r="3.3"/>
<circle cx="192.8" cy="358.6" r="3.3"/>
<circle cx="186.6" cy="363" r="3.3"/>
<circle cx="188.4" cy="681" r="3.3"/>
<circle cx="191.11" cy="548.01" r="3.3"/>
<circle cx="187.37" cy="506" r="3.3"/>
<circle cx="189.62" cy="494.85" r="3.3"/>
<circle cx="191.04" cy="501.73" r="3.3"/>
<circle cx="187.29" cy="530.22" r="3.3"/>
<circle cx="190.35" cy="621.79" r="3.3"/>
<circle cx="192.44" cy="644.66" r="3.3"/>
<circle cx="187.13" cy="585.77" r="3.3"/>
<circle cx="193.71" cy="533.34" r="3.3"/>
<circle cx="194.07" cy="461.81" r="3.3"/>
<circle cx="191.65" cy="533.37" r="3.3"/>
<circle cx="187.13" cy="653.01" r="3.3"/>
<circle cx="189.3" cy="345.5" r="3.3"/>
<circle cx="191.14" cy="536.64" r="3.3"/>
<circle cx="192.03" cy="593.34" r="3.3"/>
<circle cx="187.53" cy="567.88" r="3.3"/>
<circle cx="187.1" cy="440.87" r="3.3"/>
<circle cx="190.09" cy="492.56" r="3.3"/>
<circle cx="194.15" cy="539.45" r="3.3"/>
<circle cx="189.51" cy="628.6" r="3.3"/>
<circle cx="188.78" cy="521.8" r="3.3"/>
<circle cx="190.97" cy="435.76" r="3.3"/>
<circle cx="188.47" cy="550.24" r="3.3"/>
<circle cx="190.63" cy="616.32" r="3.3"/>
<circle cx="189.78" cy="422.37" r="3.3"/>
<circle cx="193.97" cy="512.48" r="3.3"/>
<circle cx="187.93" cy="521.86" r="3.3"/>
<circle cx="188.83" cy="592.21" r="3.3"/>
<circle cx="193.8" cy="700.5" r="3.3"/>
<circle cx="186.6" cy="377.9" r="3.3"/>
<circle cx="189.79" cy="417.68" r="3.3"/>
<circle cx="190.4" cy="536.8" r="3.3"/>
<circle cx="188.2" cy="523.78" r="3.3"/>
<circle cx="188.98" cy="627.69" r="3.3"/>
<circle cx="189.25" cy="520.13" r="3.3"/>
<circle cx="188.85" cy="568.06" r="3.3"/>
<circle cx="189.96" cy="636.01" r="3.3"/>
<circle cx="188.2" cy="613.56" r="3.3"/>
<circle cx="192.82" cy="526.34" r="3.3"/>
<circle cx="190.65" cy="429.69" r="3.3"/>
<circle cx="188.95" cy="574.71" r="3.3"/>
<circle cx="192.38" cy="486.25" r="3.3"/>
<circle cx="187.5" cy="350.8" r="3.3"/>
<circle cx="192.22" cy="588.69" r="3.3"/>
<circle cx="189.03" cy="500.65" r="3.3"/>
<circle cx="189.02" cy="393.17" r="3.3"/>
<circle cx="191.9" cy="365.6" r="3.3"/>
<circle cx="191.4" cy="566.4" r="3.3"/>
<circle cx="188.67" cy="513.57" r="3.3"/>
<circle cx="188.85" cy="462.54" r="3.3"/>
<circle cx="187.23" cy="562.61" r="3.3"/>
<circle cx="191.67" cy="561.61" r="3.3"/>
<circle cx="188.25" cy="478.91" r="3.3"/>
<circle cx="189.8" cy="640.38" r="3.3"/>
<circle cx="194.11" cy="568.16" r="3.3"/>
<circle cx="192.14" cy="508.27" r="3.3"/>
<circle cx="187.68" cy="598.8" r="3.3"/>
<circle cx="192.91" cy="611.74" r="3.3"/>
<circle cx="190.9" cy="469.52" r="3.3"/>
<circle cx="188.21" cy="497.21" r="3.3"/>
<circle cx="187.5" cy="331.5" r="3.3"/>
<circle cx="186.81" cy="398.69" r="3.3"/>
<circle cx="187.98" cy="583.47" r="3.3"/>
<circle cx="193.27" cy="551.89" r="3.3"/>
<circle cx="191.04" cy="592.41" r="3.3"/>
<circle cx="193.28" cy="428.23" r="3.3"/>
<circle cx="190.83" cy="600.67" r="3.3"/>
<circle cx="189.86" cy="555.31" r="3.3"/>
<circle cx="191.93" cy="643.43" r="3.3"/>
<circle cx="191.65" cy="624.54" r="3.3"/>
<circle cx="189.64" cy="474.18" r="3.3"/>
<circle cx="188.39" cy="613.41" r="3.3"/>
<circle cx="191.46" cy="401.26" r="3.3"/>
<circle cx="192.65" cy="574.13" r="3.3"/>
<circle cx="189.34" cy="425.21" r="3.3"/>
<circle cx="193.7" cy="552.17" r="3.3"/>
<circle cx="194.37" cy="419.67" r="3.3"/>
<circle cx="188.74" cy="480.36" r="3.3"/>
<circle cx="189.61" cy="423.32" r="3.3"/>
<circle cx="189.49" cy="515.09" r="3.3"/>
<circle cx="188.33" cy="475.62" r="3.3"/>
<circle cx="193.61" cy="521.49" r="3.3"/>
<circle cx="191.87" cy="457.28" r="3.3"/>
<circle cx="191.27" cy="554.49" r="3.3"/>
<circle cx="192.53" cy="496.18" r="3.3"/>
<circle cx="190.24" cy="456.78" r="3.3"/>
<circle cx="188.9" cy="464.47" r="3.3"/>
<circle cx="189.64" cy="604.14" r="3.3"/>
<circle cx="188.66" cy="628.21" r="3.3"/>
<circle cx="189.15" cy="528.35" r="3.3"/>
<circle cx="192.11" cy="636.12" r="3.3"/>
<circle cx="187.45" cy="504.92" r="3.3"/>
<circle cx="189.85" cy="472.63" r="3.3"/>
<circle cx="188.1" cy="523.01" r="3.3"/>
<circle cx="190.4" cy="578.59" r="3.3"/>
<circle cx="187.5" cy="492.51" r="3.3"/>
<circle cx="191.04" cy="570.57" r="3.3"/>
<circle cx="193.57" cy="406.77" r="3.3"/>
<circle cx="187.95" cy="568.64" r="3.3"/>
<circle cx="192.1" cy="621.97" r="3.3"/>
<circle cx="189.24" cy="607.34" r="3.3"/>
<circle cx="192.8" cy="390.2" r="3.3"/>
<circle cx="188.4" cy="549.12" r="3.3"/>
<circle cx="190.7" cy="468.09" r="3.3"/>
<circle cx="188.64" cy="420.92" r="3.3"/>
<circle cx="188.49" cy="452.7" r="3.3"/>
<circle cx="190.69" cy="530.97" r="3.3"/>
<circle cx="190.1" cy="356" r="3.3"/>
<circle cx="192.37" cy="461.26" r="3.3"/>
<circle cx="191" cy="712.9" r="3.3"/>
<circle cx="187.97" cy="426.05" r="3.3"/>
<circle cx="191.24" cy="622.04" r="3.3"/>
<circle cx="193.8" cy="617.9" r="3.3"/>
<circle cx="193.66" cy="594.86" r="3.3"/>
<circle cx="188.58" cy="463.74" r="3.3"/>
<circle cx="190" cy="575.44" r="3.3"/>
<circle cx="188.67" cy="569.8" r="3.3"/>
<circle cx="190.62" cy="565.3" r="3.3"/>
<circle cx="189.7" cy="756.7" r="3.3"/>
<circle cx="192.46" cy="511.91" r="3.3"/>
<circle cx="188.66" cy="439.87" r="3.3"/>
<circle cx="187.5" cy="548.21" r="3.3"/>
<circle cx="189.87" cy="526.77" r="3.3"/>
<circle cx="191.9" cy="336.2" r="3.3"/>
<circle cx="189.3" cy="278" r="3.3"/>
<circle cx="194.32" cy="607.92" r="3.3"/>
<circle cx="188.96" cy="484.4" r="3.3"/>
<circle cx="188.19" cy="427.44" r="3.3"/>
<circle cx="193.39" cy="482.33" r="3.3"/>
<circle cx="189.31" cy="464.77" r="3.3"/>
<circle cx="193.28" cy="395.11" r="3.3"/>
<circle cx="189.5" cy="410.2" r="3.3"/>
<circle cx="188.14" cy="482.5" r="3.3"/>
<circle cx="192.36" cy="535.62" r="3.3"/>
<circle cx="191.32" cy="393.83" r="3.3"/>
<circle cx="190.62" cy="454.05" r="3.3"/>
<circle cx="189.23" cy="499.71" r="3.3"/>
<circle cx="188.49" cy="546.66" r="3.3"/>
<circle cx="190.51" cy="615.66" r="3.3"/>
<circle cx="190.68" cy="534.43" r="3.3"/>
<circle cx="192.5" cy="722.5" r="3.3"/>
<circle cx="187.94" cy="523.72" r="3.3"/>
<circle cx="194.25" cy="613.33" r="3.3"/>
<circle cx="189.94" cy="576.9" r="3.3"/>
<circle cx="194.25" cy="575.12" r="3.3"/>
<circle cx="194" cy="550.62" r="3.3"/>
<circle cx="191.54" cy="573.25" r="3.3"/>
<circle cx="191.69" cy="551.6" r="3.3"/>
<circle cx="193.88" cy="556.31" r="3.3"/>
<circle cx="187.05" cy="451.23" r="3.3"/>
<circle cx="190.11" cy="403.12" r="3.3"/>
<circle cx="189.36" cy="606.55" r="3.3"/>
<circle cx="188.4" cy="700.5" r="3.3"/>
<circle cx="189.4" cy="527.22" r="3.3"/>
<circle cx="188.23" cy="651.05" r="3.3"/>
<circle cx="191.09" cy="491.12" r="3.3"/>
<circle cx="188" cy="505.49" r="3.3"/>
<circle cx="186.94" cy="495.42" r="3.3"/>
<circle cx="188.64" cy="517.46" r="3.3"/>
<circle cx="190.23" cy="493.47" r="3.3"/>
<circle cx="188.22" cy="554.25" r="3.3"/>
<circle cx="189.08" cy="515.01" r="3.3"/>
<circle cx="189.51" cy="542.98" r="3.3"/>
<circle cx="191.17" cy="510.12" r="3.3"/>
<circle cx="190.76" cy="460.19" r="3.3"/>
<circle cx="190.5" cy="278.5" r="3.3"/>
<circle cx="190.85" cy="517.46" r="3.3"/>
<circle cx="187.26" cy="552.71" r="3.3"/>
<circle cx="190.29" cy="653.5" r="3.3"/>
<circle cx="191.99" cy="586.59" r="3.3"/>
<circle cx="193.68" cy="621.48" r="3.3"/>
<circle cx="188.68" cy="573.51" r="3.3"/>
<circle cx="192.27" cy="533.98" r="3.3"/>
<circle cx="191.44" cy="482.76" r="3.3"/>
<circle cx="190.67" cy="548.59" r="3.3"/>
<circle cx="189.95" cy="450.37" r="3.3"/>
<circle cx="192" cy="517.54" r="3.3"/>
<circle cx="189.21" cy="508.68" r="3.3"/>
<circle cx="188.84" cy="480.41" r="3.3"/>
<circle cx="192.18" cy="611.37" r="3.3"/>
<circle cx="194.36" cy="574.29" r="3.3"/>
<circle cx="187" cy="723.8" r="3.3"/>
<circle cx="192.8" cy="325.7" r="3.3"/>
<circle cx="188.65" cy="644.75" r="3.3"/>
<circle cx="187.5" cy="302.9" r="3.3"/>
<circle cx="190.01" cy="521.76" r="3.3"/>
<circle cx="190.14" cy="477.57" r="3.3"/>
<circle cx="192.61" cy="452.32" r="3.3"/>
<circle cx="187.08" cy="599.51" r="3.3"/>
<circle cx="187" cy="740.3" r="3.3"/>
<circle cx="191.48" cy="432.39" r="3.3"/>
<circle cx="187.86" cy="607.1" r="3.3"/>
<circle cx="191.96" cy="470.96" r="3.3"/>
<circle cx="187.23" cy="444.87" r="3.3"/>
<circle cx="191.2" cy="435.94" r="3.3"/>
<circle cx="187.34" cy="487.13" r="3.3"/>
<circle cx="188.63" cy="495.24" r="3.3"/>
<circle cx="189.64" cy="464.56" r="3.3"/>
<circle cx="192.16" cy="428.97" r="3.3"/>
<circle cx="188.69" cy="514.35" r="3.3"/>
<circle cx="186.96" cy="525.03" r="3.3"/>
<circle cx="193.55" cy="425.76" r="3.3"/>
<circle cx="188.09" cy="472.76" r="3.3"/>
<circle cx="191.98" cy="599.68" r="3.3"/>
<circle cx="190.19" cy="533.34" r="3.3"/>
<circle cx="192.97" cy="587.82" r="3.3"/>
<circle cx="188.72" cy="545.82" r="3.3"/>
<circle cx="191.29" cy="635.82" r="3.3"/>
<circle cx="193.03" cy="483.24" r="3.3"/>
<circle cx="194.41" cy="579.54" r="3.3"/>
<circle cx="192.89" cy="453.88" r="3.3"/>
<circle cx="194.57" cy="535.92" r="3.3"/>
<circle cx="189.34" cy="470.5" r="3.3"/>
<circle cx="187.12" cy="423.31" r="3.3"/>
<circle cx="193.8" cy="733.4" r="3.3"/>
<circle cx="194.22" cy="611.58" r="3.3"/>
<circle cx="190.1" cy="279.8" r="3.3"/>
<circle cx="190.45" cy="450.79" r="3.3"/>
<circle cx="189.86" cy="482.81" r="3.3"/>
<circle cx="189.24" cy="604.21" r="3.3"/>
<circle cx="192.19" cy="534.28" r="3.3"/>
<circle cx="192.81" cy="426.24" r="3.3"/>
<circle cx="189.68" cy="605.71" r="3.3"/>
<circle cx="188.79" cy="649.51" r="3.3"/>
<circle cx="188.64" cy="591.95" r="3.3"/>
<circle cx="187.28" cy="444.08" r="3.3"/>
<circle cx="190.11" cy="489.08" r="3.3"/>
<circle cx="190.41" cy="403.02" r="3.3"/>
<circle cx="192" cy="481.48" r="3.3"/>
<circle cx="192.8" cy="381.4" r="3.3"/>
<circle cx="191.08" cy="476.72" r="3.3"/>
<circle cx="191.41" cy="479.04" r="3.3"/>
<circle cx="191.08" cy="551.47" r="3.3"/>
<circle cx="187.15" cy="451.76" r="3.3"/>
<circle cx="193.8" cy="689.6" r="3.3"/>
<circle cx="188.99" cy="560.42" r="3.3"/>
<circle cx="187.4" cy="644.93" r="3.3"/>
<circle cx="192" cy="486.87" r="3.3"/>
<circle cx="192.75" cy="453.01" r="3.3"/>
<circle cx="192.5" cy="677" r="3.3"/>
<circle cx="188.48" cy="586.38" r="3.3"/>
<circle cx="188.53" cy="517.63" r="3.3"/>
<circle cx="189.13" cy="428.88" r="3.3"/>
<circle cx="188.4" cy="388.4" r="3.3"/>
<circle cx="193.89" cy="493.69" r="3.3"/>
<circle cx="193.8" cy="754" r="3.3"/>
<circle cx="187.06" cy="544.74" r="3.3"/>
<circle cx="189.02" cy="461.03" r="3.3"/>
<circle cx="191.1" cy="594.37" r="3.3"/>
<circle cx="188.05" cy="531.57" r="3.3"/>
<circle cx="189.61" cy="475.42" r="3.3"/>
<circle cx="188.16" cy="581.63" r="3.3"/>
<circle cx="194.42" cy="513.82" r="3.3"/>
<circle cx="188.98" cy="626.36" r="3.3"/>
<circle cx="191.73" cy="574.34" r="3.3"/>
<circle cx="191.64" cy="487.36" r="3.3"/>
<circle cx="190.94" cy="460" r="3.3"/>
<circle cx="187.11" cy="519.12" r="3.3"/>
<circle cx="193.53" cy="635.98" r="3.3"/>
<circle cx="192.8" cy="349" r="3.3"/>
<circle cx="191.39" cy="447.82" r="3.3"/>
<circle cx="190.67" cy="594.33" r="3.3"/>
<circle cx="190.81" cy="439.75" r="3.3"/>
<circle cx="188.86" cy="455.52" r="3.3"/>
<circle cx="193.2" cy="584.79" r="3.3"/>
<circle cx="191.83" cy="510.4" r="3.3"/>
<circle cx="191.21" cy="570.87" r="3.3"/>
<circle cx="192.97" cy="470.79" r="3.3"/>
<circle cx="188.56" cy="518.4" r="3.3"/>
<circle cx="189.63" cy="508.54" r="3.3"/>
<circle cx="188.78" cy="483.98" r="3.3"/>
<circle cx="186.98" cy="488.59" r="3.3"/>
<circle cx="190.04" cy="593.86" r="3.3"/>
<circle cx="189.87" cy="576.61" r="3.3"/>
<circle cx="189.94" cy="513.28" r="3.3"/>
<circle cx="191.21" cy="636.65" r="3.3"/>
<circle cx="186.99" cy="456.67" r="3.3"/>
<circle cx="192.97" cy="432.89" r="3.3"/>
<circle cx="194.05" cy="497.42" r="3.3"/>
<circle cx="188.04" cy="562.21" r="3.3"/>
<circle cx="189.12" cy="560.8" r="3.3"/>
<circle cx="188.4" cy="413.07" r="3.3"/>
<circle cx="192.74" cy="603.59" r="3.3"/>
<circle cx="189.81" cy="630.83" r="3.3"/>
<circle cx="192.3" cy="539.88" r="3.3"/>
<circle cx="193.23" cy="450.47" r="3.3"/>
<circle cx="188.48" cy="652.25" r="3.3"/>
<circle cx="192.77" cy="496.85" r="3.3"/>
<circle cx="193.07" cy="522.21" r="3.3"/>
<circle cx="189.87" cy="547.83" r="3.3"/>
<circle cx="194.5" cy="604.93" r="3.3"/>
<circle cx="192.31" cy="657.61" r="3.3"/>
<circle cx="192.19" cy="524.6" r="3.3"/>
<circle cx="193.11" cy="454.56" r="3.3"/>
<circle cx="187.07" cy="552.21" r="3.3"/>
<circle cx="189.8" cy="454.4" r="3.3"/>
<circle cx="187.6" cy="407.81" r="3.3"/>
<circle cx="192.94" cy="509.89" r="3.3"/>
<circle cx="189.86" cy="514.6" r="3.3"/>
<circle cx="188.59" cy="556.43" r="3.3"/>
<circle cx="193.76" cy="425.65" r="3.3"/>
<circle cx="188.04" cy="554.14" r="3.3"/>
<circle cx="188.76" cy="499.03" r="3.3"/>
<circle cx="190.46" cy="507.72" r="3.3"/>
<circle cx="190.74" cy="595" r="3.3"/>
<circle cx="194.47" cy="454.08" r="3.3"/>
<circle cx="188.25" cy="556.83" r="3.3"/>
<circle cx="189.47" cy="498.73" r="3.3"/>
<circle cx="186.98" cy="521.99" r="3.3"/>
<circle cx="194.49" cy="518.41" r="3.3"/>
<circle cx="193.54" cy="606.41" r="3.3"/>
<circle cx="192.88" cy="616.09" r="3.3"/>
<circle cx="186.94" cy="455.61" r="3.3"/>
<circle cx="192.69" cy="545.54" r="3.3"/>
<circle cx="187.27" cy="508.84" r="3.3"/>
<circle cx="188.08" cy="484.37" r="3.3"/>
<circle cx="192.22" cy="416.61" r="3.3"/>
<circle cx="188.3" cy="648.74" r="3.3"/>
<circle cx="192.01" cy="427.51" r="3.3"/>
<circle cx="193.38" cy="480.82" r="3.3"/>
<circle cx="193.7" cy="341.1" r="3.3"/>
<circle cx="187.48" cy="483.96" r="3.3"/>
<circle cx="189.63" cy="497.58" r="3.3"/>
<circle cx="188.94" cy="470.41" r="3.3"/>
<circle cx="190.86" cy="598.57" r="3.3"/>
<circle cx="191.56" cy="556.72" r="3.3"/>
<circle cx="189.33" cy="572.91" r="3.3"/>
<circle cx="194.03" cy="519.59" r="3.3"/>
<circle cx="187.49" cy="455.32" r="3.3"/>
<circle cx="191.87" cy="566.5" r="3.3"/>
<circle cx="189.79" cy="460.59" r="3.3"/>
<circle cx="194.55" cy="597.74" r="3.3"/>
<circle cx="191.72" cy="506.92" r="3.3"/>
<circle cx="190.46" cy="513.98" r="3.3"/>
<circle cx="190.25" cy="557.82" r="3.3"/>
<circle cx="188.4" cy="370.9" r="3.3"/>
<circle cx="192.83" cy="531.71" r="3.3"/>
<circle cx="192.38" cy="577.68" r="3.3"/>
<circle cx="187.78" cy="483.27" r="3.3"/>
<circle cx="187.9" cy="534.62" r="3.3"/>
<circle cx="193.74" cy="574.87" r="3.3"/>
<circle cx="192.26" cy="502.41" r="3.3"/>
<circle cx="193.88" cy="621.89" r="3.3"/>
<circle cx="188.59" cy="492.26" r="3.3"/>
<circle cx="190.92" cy="445.39" r="3.3"/>
<circle cx="189.61" cy="565.25" r="3.3"/>
<circle cx="188.4" cy="693.7" r="3.3"/>
<circle cx="187.98" cy="523.74" r="3.3"/>
<circle cx="187.11" cy="573.33" r="3.3"/>
<circle cx="187.98" cy="626.95" r="3.3"/>
<circle cx="192.64" cy="609.29" r="3.3"/>
<circle cx="191.34" cy="507.21" r="3.3"/>
<circle cx="194.45" cy="579.04" r="3.3"/>
<circle cx="187.86" cy="545.59" r="3.3"/>
<circle cx="192.34" cy="627.32" r="3.3"/>
<circle cx="267.06" cy="395.59" r="3.3"/>
<circle cx="266.13" cy="462.63" r="3.3"/>
<circle cx="265.3" cy="595.67" r="3.3"/>
<circle cx="260.57" cy="648.1" r="3.3"/>
<circle cx="265.37" cy="613.15" r="3.3"/>
<circle cx="267.31" cy="632.44" r="3.3"/>
<circle cx="267.12" cy="593.97" r="3.3"/>
<circle cx="265.84" cy="434.03" r="3.3"/>
<circle cx="260.2" cy="360.4" r="3.3"/>
<circle cx="262.58" cy="603.95" r="3.3"/>
<circle cx="265" cy="629.35" r="3.3"/>
<circle cx="259.6" cy="722.5" r="3.3"/>
<circle cx="263.7" cy="257.4" r="3.3"/>
<circle cx="262.16" cy="461.49" r="3.3"/>
<circle cx="262.6" cy="540.63" r="3.3"/>
<circle cx="261.64" cy="500.33" r="3.3"/>
<circle cx="265.77" cy="534.7" r="3.3"/>
<circle cx="266.4" cy="388.4" r="3.3"/>
<circle cx="262.43" cy="561.93" r="3.3"/>
<circle cx="265.86" cy="493.95" r="3.3"/>
<circle cx="267.14" cy="585.28" r="3.3"/>
<circle cx="260.37" cy="582.57" r="3.3"/>
<circle cx="265.42" cy="457.52" r="3.3"/>
<circle cx="266.31" cy="582.32" r="3.3"/>
<circle cx="262.54" cy="508.14" r="3.3"/>
<circle cx="260.18" cy="436.71" r="3.3"/>
<circle cx="264.3" cy="546.82" r="3.3"/>
<circle cx="265.57" cy="624.56" r="3.3"/>
<circle cx="262.05" cy="550.26" r="3.3"/>
<circle cx="263.06" cy="696.6" r="3.3"/>
<circle cx="267.3" cy="863" r="3.3"/>
<circle cx="267.27" cy="518.65" r="3.3"/>
<circle cx="261.1" cy="355.1" r="3.3"/>
<circle cx="267.12" cy="571.58" r="3.3"/>
<circle cx="262.18" cy="588.86" r="3.3"/>
<circle cx="267.24" cy="647.81" r="3.3"/>
<circle cx="261.4" cy="585.59" r="3.3"/>
<circle cx="263.05" cy="707" r="3.3"/>
<circle cx="264.68" cy="485.2" r="3.3"/>
<circle cx="263.89" cy="668.4" r="3.3"/>
<circle cx="264.01" cy="485.71" r="3.3"/>
<circle cx="266.39" cy="519.14" r="3.3"/>
<circle cx="265.58" cy="579.72" r="3.3"/>
<circle cx="262.92" cy="489.06" r="3.3"/>
<circle cx="260.11" cy="464.19" r="3.3"/>
<circle cx="263.64" cy="582.77" r="3.3"/>
<circle cx="266.09" cy="516.81" r="3.3"/>
<circle cx="264.96" cy="508.99" r="3.3"/>
<circle cx="261.35" cy="522.87" r="3.3"/>
<circle cx="264.46" cy="417.92" r="3.3"/>
<circle cx="261.5" cy="613.58" r="3.3"/>
<circle cx="260.42" cy="454.47" r="3.3"/>
<circle cx="266.62" cy="672.16" r="3.3"/>
<circle cx="265.4" cy="706.64" r="3.3"/>
<circle cx="263.81" cy="594.5" r="3.3"/>
<circle cx="265.1" cy="747.1" r="3.3"/>
<circle cx="266.87" cy="679.1" r="3.3"/>
<circle cx="264.57" cy="596.99" r="3.3"/>
<circle cx="266.87" cy="552.31" r="3.3"/>
<circle cx="261.97" cy="602.44" r="3.3"/>
<circle cx="260.73" cy="674.37" r="3.3"/>
<circle cx="265.47" cy="558.52" r="3.3"/>
<circle cx="265.45" cy="592.73" r="3.3"/>
<circle cx="265.49" cy="519.8" r="3.3"/>
<circle cx="263.55" cy="583.56" r="3.3"/>
<circle cx="260.5" cy="507.07" r="3.3"/>
<circle cx="262.05" cy="581.71" r="3.3"/>
<circle cx="261.68" cy="500.66" r="3.3"/>
<circle cx="261.4" cy="582.51" r="3.3"/>
<circle cx="265.82" cy="645.55" r="3.3"/>
<circle cx="265.43" cy="496.93" r="3.3"/>
<circle cx="262.84" cy="413" r="3.3"/>
<circle cx="266.27" cy="436.6" r="3.3"/>
<circle cx="267.22" cy="610.92" r="3.3"/>
<circle cx="262.73" cy="527.15" r="3.3"/>
<circle cx="265.4" cy="566.27" r="3.3"/>
<circle cx="266.99" cy="580.93" r="3.3"/>
<circle cx="264.9" cy="600.49" r="3.3"/>
<circle cx="264.13" cy="536.53" r="3.3"/>
<circle cx="262.57" cy="618.94" r="3.3"/>
<circle cx="259.86" cy="485.65" r="3.3"/>
<circle cx="265.05" cy="513.72" r="3.3"/>
<circle cx="267.37" cy="541.86" r="3.3"/>
<circle cx="266.52" cy="590.03" r="3.3"/>
<circle cx="262.78" cy="614.51" r="3.3"/>
<circle cx="262.15" cy="511.46" r="3.3"/>
<circle cx="263.7" cy="754" r="3.3"/>
<circle cx="261.52" cy="610.78" r="3.3"/>
<circle cx="266.8" cy="700.03" r="3.3"/>
<circle cx="266.5" cy="621.42" r="3.3"/>
<circle cx="264.06" cy="612.83" r="3.3"/>
<circle cx="266.4" cy="661.48" r="3.3"/>
<circle cx="262.95" cy="541.86" r="3.3"/>
<circle cx="263.7" cy="285.9" r="3.3"/>
<circle cx="266.93" cy="634.76" r="3.3"/>
<circle cx="262.93" cy="464.89" r="3.3"/>
<circle cx="261.62" cy="453.08" r="3.3"/>
<circle cx="262.87" cy="395.84" r="3.3"/>
<circle cx="266.21" cy="505.57" r="3.3"/>
<circle cx="264.85" cy="564.95" r="3.3"/>
<circle cx="261.73" cy="497.67" r="3.3"/>
<circle cx="266.73" cy="500.31" r="3.3"/>
<circle cx="264.45" cy="635.18" r="3.3"/>
<circle cx="263.77" cy="589.16" r="3.3"/>
<circle cx="266.08" cy="542.76" r="3.3"/>
<circle cx="264.13" cy="448.07" r="3.3"/>
<circle cx="266.41" cy="435.44" r="3.3"/>
<circle cx="263.5" cy="568.41" r="3.3"/>
<circle cx="264.15" cy="529.86" r="3.3"/>
<circle cx="266.19" cy="511.44" r="3.3"/>
<circle cx="266.99" cy="504.68" r="3.3"/>
<circle cx="263.5" cy="470.11" r="3.3"/>
<circle cx="261.76" cy="526.49" r="3.3"/>
<circle cx="262.64" cy="565.86" r="3.3"/>
<circle cx="263.36" cy="653.11" r="3.3"/>
<circle cx="267.37" cy="578.66" r="3.3"/>
<circle cx="259.82" cy="437.18" r="3.3"/>
<circle cx="261.1" cy="391.9" r="3.3"/>
<circle cx="266.37" cy="421.07" r="3.3"/>
<circle cx="264" cy="657.63" r="3.3"/>
<circle cx="259.86" cy="645.94" r="3.3"/>
<circle cx="264.22" cy="679.81" r="3.3"/>
<circle cx="263.49" cy="602.24" r="3.3"/>
<circle cx="265.43" cy="558.3" r="3.3"/>
<circle cx="264.11" cy="623.63" r="3.3"/>
<circle cx="260.95" cy="603.88" r="3.3"/>
<circle cx="267.2" cy="271.4" r="3.3"/>
<circle cx="262.87" cy="491.06" r="3.3"/>
<circle cx="260.5" cy="465.36" r="3.3"/>
<circle cx="264.33" cy="672.96" r="3.3"/>
<circle cx="261.81" cy="682.6" r="3.3"/>
<circle cx="262.11" cy="421.74" r="3.3"/>
<circle cx="267.38" cy="587.62" r="3.3"/>
<circle cx="266.51" cy="536.05" r="3.3"/>
<circle cx="265" cy="553.34" r="3.3"/>
<circle cx="260.91" cy="574.53" r="3.3"/>
<circle cx="262.95" cy="562.91" r="3.3"/>
<circle cx="267.02" cy="511.69" r="3.3"/>
<circle cx="264.6" cy="347.2" r="3.3"/>
<circle cx="266.92" cy="587.46" r="3.3"/>
<circle cx="261.99" cy="562.5" r="3.3"/>
<circle cx="262.46" cy="420.25" r="3.3"/>
<circle cx="260.23" cy="457.38" r="3.3"/>
<circle cx="262.9" cy="301.7" r="3.3"/>
<circle cx="260.63" cy="558.89" r="3.3"/>
<circle cx="260.07" cy="686.51" r="3.3"/>
<circle cx="263.7" cy="863" r="3.3"/>
<circle cx="261.24" cy="561.81" r="3.3"/>
<circle cx="264.48" cy="494.71" r="3.3"/>
<circle cx="267.35" cy="449.16" r="3.3"/>
<circle cx="261.44" cy="580.59" r="3.3"/>
<circle cx="266.85" cy="600.7" r="3.3"/>
<circle cx="259.76" cy="650.57" r="3.3"/>
<circle cx="259.77" cy="451.94" r="3.3"/>
<circle cx="266.31" cy="475.9" r="3.3"/>
<circle cx="266.98" cy="620.87" r="3.3"/>
<circle cx="260.57" cy="621.37" r="3.3"/>
<circle cx="260.52" cy="550" r="3.3"/>
<circle cx="260.31" cy="507.42" r="3.3"/>
<circle cx="260.51" cy="665.69" r="3.3"/>
<circle cx="265.14" cy="453.8" r="3.3"/>
<circle cx="260.62" cy="631.91" r="3.3"/>
<circle cx="260.75" cy="498.46" r="3.3"/>
<circle cx="263.58" cy="468.22" r="3.3"/>
<circle cx="263.66" cy="597.26" r="3.3"/>
<circle cx="260.88" cy="682.88" r="3.3"/>
<circle cx="264.18" cy="578.99" r="3.3"/>
<circle cx="260.64" cy="701.24" r="3.3"/>
<circle cx="259.6" cy="769" r="3.3"/>
<circle cx="262.12" cy="517.74" r="3.3"/>
<circle cx="263.88" cy="441.91" r="3.3"/>
<circle cx="261.51" cy="567.08" r="3.3"/>
<circle cx="265.29" cy="544.42" r="3.3"/>
<circle cx="266.34" cy="531.26" r="3.3"/>
<circle cx="263.38" cy="675.35" r="3.3"/>
<circle cx="263.42" cy="423.31" r="3.3"/>
<circle cx="259.93" cy="444.71" r="3.3"/>
<circle cx="262.26" cy="395.7" r="3.3"/>
<circle cx="265.08" cy="628.42" r="3.3"/>
<circle cx="262.49" cy="669.04" r="3.3"/>
<circle cx="262.26" cy="513.65" r="3.3"/>
<circle cx="265.82" cy="690.05" r="3.3"/>
<circle cx="261.99" cy="496.66" r="3.3"/>
<circle cx="265.18" cy="579.2" r="3.3"/>
<circle cx="265.15" cy="415.52" r="3.3"/>
<circle cx="262.03" cy="629.24" r="3.3"/>
<circle cx="261.71" cy="588.55" r="3.3"/>
<circle cx="263.81" cy="491.65" r="3.3"/>
<circle cx="263.51" cy="621.51" r="3.3"/>
<circle cx="261.92" cy="640.17" r="3.3"/>
<circle cx="266.25" cy="519.44" r="3.3"/>
<circle cx="260.56" cy="574.58" r="3.3"/>
<circle cx="263.73" cy="487.73" r="3.3"/>
<circle cx="264.52" cy="640.23" r="3.3"/>
<circle cx="261.5" cy="556.35" r="3.3"/>
<circle cx="262.3" cy="588.55" r="3.3"/>
<circle cx="260.26" cy="608.88" r="3.3"/>
<circle cx="267.08" cy="600.09" r="3.3"/>
<circle cx="261.67" cy="667.88" r="3.3"/>
<circle cx="262.55" cy="590.41" r="3.3"/>
<circle cx="263.22" cy="645.25" r="3.3"/>
<circle cx="265.79" cy="637.1" r="3.3"/>
<circle cx="261.14" cy="507.91" r="3.3"/>
<circle cx="266.94" cy="574.51" r="3.3"/>
<circle cx="264.6" cy="379.7" r="3.3"/>
<circle cx="263.98" cy="644.89" r="3.3"/>
<circle cx="263.28" cy="644.43" r="3.3"/>
<circle cx="259.97" cy="540.97" r="3.3"/>
<circle cx="263.82" cy="558" r="3.3"/>
<circle cx="266.72" cy="432.02" r="3.3"/>
<circle cx="264.11" cy="485.17" r="3.3"/>
<circle cx="264.08" cy="513.44" r="3.3"/>
<circle cx="263.61" cy="661.18" r="3.3"/>
<circle cx="262.65" cy="565.64" r="3.3"/>
<circle cx="263.97" cy="575.75" r="3.3"/>
<circle cx="264.6" cy="372.7" r="3.3"/>
<circle cx="262.26" cy="461.24" r="3.3"/>
<circle cx="259.78" cy="672.27" r="3.3"/>
<circle cx="263.76" cy="603.11" r="3.3"/>
<circle cx="263.7" cy="266.6" r="3.3"/>
<circle cx="264.07" cy="515.16" r="3.3"/>
<circle cx="267.24" cy="522.46" r="3.3"/>
<circle cx="264.18" cy="435.3" r="3.3"/>
<circle cx="263.23" cy="442.79" r="3.3"/>
<circle cx="264.27" cy="529.13" r="3.3"/>
<circle cx="260.2" cy="621.72" r="3.3"/>
<circle cx="264.48" cy="485.58" r="3.3"/>
<circle cx="265.1" cy="721.1" r="3.3"/>
<circle cx="263.94" cy="573.14" r="3.3"/>
<circle cx="262.05" cy="599.2" r="3.3"/>
<circle cx="260.9" cy="598.31" r="3.3"/>
<circle cx="264.25" cy="556.27" r="3.3"/>
<circle cx="264.9" cy="595.13" r="3.3"/>
<circle cx="264.05" cy="580.8" r="3.3"/>
<circle cx="260.63" cy="576.54" r="3.3"/>
<circle cx="263.08" cy="437.54" r="3.3"/>
<circle cx="259.92" cy="449.82" r="3.3"/>
<circle cx="266.75" cy="520.37" r="3.3"/>
<circle cx="263.84" cy="465.17" r="3.3"/>
<circle cx="266.89" cy="634.43" r="3.3"/>
<circle cx="260.12" cy="669.76" r="3.3"/>
<circle cx="264.6" cy="271" r="3.3"/>
<circle cx="260.28" cy="544.2" r="3.3"/>
<circle cx="263.67" cy="487.45" r="3.3"/>
<circle cx="265.26" cy="586.53" r="3.3"/>
<circle cx="260.47" cy="712.62" r="3.3"/>
<circle cx="266.22" cy="637.98" r="3.3"/>
<circle cx="263.45" cy="627.07" r="3.3"/>
<circle cx="264.8" cy="556.98" r="3.3"/>
<circle cx="260.71" cy="454.1" r="3.3"/>
<circle cx="260.3" cy="586.25" r="3.3"/>
<circle cx="260.06" cy="500.57" r="3.3"/>
<circle cx="260.18" cy="574.19" r="3.3"/>
<circle cx="260.66" cy="552.74" r="3.3"/>
<circle cx="266.4" cy="316.2" r="3.3"/>
<circle cx="265.91" cy="578.94" r="3.3"/>
<circle cx="262.53" cy="611.26" r="3.3"/>
<circle cx="262.44" cy="466.68" r="3.3"/>
<circle cx="263.07" cy="501.83" r="3.3"/>
<circle cx="265.98" cy="451.87" r="3.3"/>
<circle cx="261.67" cy="476.97" r="3.3"/>
<circle cx="263.48" cy="524.59" r="3.3"/>
<circle cx="265.85" cy="591.72" r="3.3"/>
<circle cx="264.24" cy="519.28" r="3.3"/>
<circle cx="263.79" cy="580.39" r="3.3"/>
<circle cx="264.31" cy="651.37" r="3.3"/>
<circle cx="264.05" cy="628.08" r="3.3"/>
<circle cx="264.13" cy="466.57" r="3.3"/>
<circle cx="260.46" cy="673.66" r="3.3"/>
<circle cx="265.5" cy="349.9" r="3.3"/>
<circle cx="267.29" cy="454.05" r="3.3"/>
<circle cx="262.5" cy="604.14" r="3.3"/>
<circle cx="267.07" cy="716.4" r="3.3"/>
<circle cx="263.52" cy="693.16" r="3.3"/>
<circle cx="263.59" cy="518.22" r="3.3"/>
<circle cx="264.83" cy="568.99" r="3.3"/>
<circle cx="267.2" cy="328.3" r="3.3"/>
<circle cx="264.45" cy="518.72" r="3.3"/>
<circle cx="263.19" cy="678.42" r="3.3"/>
<circle cx="260.39" cy="536.12" r="3.3"/>
<circle cx="260.37" cy="461.05" r="3.3"/>
<circle cx="266.37" cy="660.02" r="3.3"/>
<circle cx="262.09" cy="442.52" r="3.3"/>
<circle cx="262.59" cy="505.72" r="3.3"/>
<circle cx="259.94" cy="450.34" r="3.3"/>
<circle cx="267.01" cy="532.95" r="3.3"/>
<circle cx="260.14" cy="415.86" r="3.3"/>
<circle cx="260.31" cy="465.29" r="3.3"/>
<circle cx="266.44" cy="673.16" r="3.3"/>
<circle cx="264.36" cy="481.78" r="3.3"/>
<circle cx="261.93" cy="533.61" r="3.3"/>
<circle cx="266.4" cy="749.9" r="3.3"/>
<circle cx="262.04" cy="705.28" r="3.3"/>
<circle cx="261.71" cy="495.22" r="3.3"/>
<circle cx="260.92" cy="604.18" r="3.3"/>
<circle cx="261.25" cy="445.19" r="3.3"/>
<circle cx="262.73" cy="487.29" r="3.3"/>
<circle cx="265.67" cy="636.38" r="3.3"/>
<circle cx="267.11" cy="707.14" r="3.3"/>
<circle cx="264.31" cy="486.89" r="3.3"/>
<circle cx="267.11" cy="635.43" r="3.3"/>
<circle cx="263.87" cy="577.2" r="3.3"/>
<circle cx="265.56" cy="600.87" r="3.3"/>
<circle cx="263.87" cy="522.65" r="3.3"/>
<circle cx="263.7" cy="574.2" r="3.3"/>
<circle cx="260.67" cy="479.86" r="3.3"/>
<circle cx="261.74" cy="550.96" r="3.3"/>
<circle cx="260.6" cy="614.71" r="3.3"/>
<circle cx="262.2" cy="577.4" r="3.3"/>
<circle cx="263.86" cy="493.88" r="3.3"/>
<circle cx="263.14" cy="429.98" r="3.3"/>
<circle cx="266.41" cy="621.79" r="3.3"/>
<circle cx="260.12" cy="626.76" r="3.3"/>
<circle cx="267.41" cy="666.42" r="3.3"/>
<circle cx="265.75" cy="593.82" r="3.3"/>
<circle cx="262.32" cy="563.57" r="3.3"/>
<circle cx="264.6" cy="362.1" r="3.3"/>
<circle cx="265.57" cy="647.24" r="3.3"/>
<circle cx="261.87" cy="501.29" r="3.3"/>
<circle cx="262.4" cy="397.27" r="3.3"/>
<circle cx="261.52" cy="466.23" r="3.3"/>
<circle cx="267.31" cy="515.21" r="3.3"/>
<circle cx="264.71" cy="612.95" r="3.3"/>
<circle cx="261.83" cy="590.78" r="3.3"/>
<circle cx="265.66" cy="437.88" r="3.3"/>
<circle cx="263.5" cy="525.82" r="3.3"/>
<circle cx="265.39" cy="565.42" r="3.3"/>
<circle cx="260.62" cy="659.21" r="3.3"/>
<circle cx="267.19" cy="699.23" r="3.3"/>
<circle cx="266.4" cy="577.39" r="3.3"/>
<circle cx="265.08" cy="639.84" r="3.3"/>
<circle cx="260.56" cy="611.6" r="3.3"/>
<circle cx="262.82" cy="462.69" r="3.3"/>
<circle cx="261.73" cy="659.74" r="3.3"/>
<circle cx="264.48" cy="521.01" r="3.3"/>
<circle cx="259.74" cy="661.49" r="3.3"/>
<circle cx="263.48" cy="521" r="3.3"/>
<circle cx="265.04" cy="683.41" r="3.3"/>
<circle cx="262.3" cy="817" r="3.3"/>
<circle cx="260.58" cy="590.88" r="3.3"/>
<circle cx="260.98" cy="657.56" r="3.3"/>
<circle cx="259.89" cy="552.05" r="3.3"/>
<circle cx="266.69" cy="620.71" r="3.3"/>
<circle cx="259.87" cy="541.78" r="3.3"/>
<circle cx="260.26" cy="647.04" r="3.3"/>
<circle cx="263.11" cy="571.75" r="3.3"/>
<circle cx="262.9" cy="319.7" r="3.3"/>
<circle cx="265.75" cy="475.45" r="3.3"/>
<circle cx="261.28" cy="528.81" r="3.3"/>
<circle cx="265.66" cy="600.66" r="3.3"/>
<circle cx="261" cy="567.49" r="3.3"/>
<circle cx="267.3" cy="788.2" r="3.3"/>
<circle cx="267.04" cy="612.33" r="3.3"/>
<circle cx="263.02" cy="497.17" r="3.3"/>
<circle cx="262.65" cy="481.58" r="3.3"/>
<circle cx="266.91" cy="490.2" r="3.3"/>
<circle cx="263.22" cy="507.86" r="3.3"/>
<circle cx="262.94" cy="426.12" r="3.3"/>
<circle cx="263.4" cy="302.5" r="3.3"/>
<circle cx="265.1" cy="784.1" r="3.3"/>
<circle cx="260.09" cy="558.2" r="3.3"/>
<circle cx="264.2" cy="258" r="3.3"/>
<circle cx="265.76" cy="521.01" r="3.3"/>
<circle cx="262.96" cy="571.59" r="3.3"/>
<circle cx="262.42" cy="526.98" r="3.3"/>
<circle cx="265.55" cy="438.01" r="3.3"/>
<circle cx="265.2" cy="589.65" r="3.3"/>
<circle cx="265.5" cy="365.6" r="3.3"/>
<circle cx="263.88" cy="581.55" r="3.3"/>
<circle cx="263.26" cy="539.45" r="3.3"/>
<circle cx="264.72" cy="477.78" r="3.3"/>
<circle cx="266.33" cy="502.5" r="3.3"/>
</g>
<rect x="46.6" y="227.4" width="287.9" height="665.6" fill="none" stroke="#3c3c3c" stroke-width="1.2"/>
<line x1="42.6" x2="46.6" y1="809" y2="809" stroke="#333333" stroke-width="1.2"/>
<text x="39.6" y="813.4" text-anchor="end" class="tk">10</text>
<rect x="18.8" y="809.4" width="6.2" height="1.4" fill="#4d4d4d"/>
<line x1="42.6" x2="46.6" y1="600" y2="600" stroke="#333333" stroke-width="1.2"/>
<text x="39.6" y="604.4" text-anchor="end" class="tk">0</text>
<line x1="42.6" x2="46.6" y1="391" y2="391" stroke="#333333" stroke-width="1.2"/>
<text x="39.6" y="395.4" text-anchor="end" class="tk">10</text>
<line x1="117.6" x2="117.6" y1="893" y2="897" stroke="#333333" stroke-width="1.2"/>
<text x="117.6" y="909" text-anchor="middle" class="tk">Head</text>
<line x1="190.7" x2="190.7" y1="893" y2="897" stroke="#333333" stroke-width="1.2"/>
<text x="190.7" y="909" text-anchor="middle" class="tk">Body</text>
<line x1="263.6" x2="263.6" y1="893" y2="897" stroke="#333333" stroke-width="1.2"/>
<text x="263.6" y="909" text-anchor="middle" class="tk">Tail</text>
<text class="ttl" transform="translate(10.9,560) rotate(-90)" text-anchor="middle">Mean volume change (%)</text>
<rect x="396.3" y="227.4" width="288.2" height="665.6" fill="#fff"/>
<line x1="396.3" x2="684.5" y1="846.32" y2="846.32" stroke="#ebebeb" stroke-width="0.6"/>
<line x1="396.3" x2="684.5" y1="734.08" y2="734.08" stroke="#ebebeb" stroke-width="0.6"/>
<line x1="396.3" x2="684.5" y1="621.84" y2="621.84" stroke="#ebebeb" stroke-width="0.6"/>
<line x1="396.3" x2="684.5" y1="509.6" y2="509.6" stroke="#ebebeb" stroke-width="0.6"/>
<line x1="396.3" x2="684.5" y1="397.36" y2="397.36" stroke="#ebebeb" stroke-width="0.6"/>
<line x1="396.3" x2="684.5" y1="285.12" y2="285.12" stroke="#ebebeb" stroke-width="0.6"/>
<line x1="396.3" x2="684.5" y1="790.2" y2="790.2" stroke="#ebebeb" stroke-width="1.1"/>
<line x1="396.3" x2="684.5" y1="677.96" y2="677.96" stroke="#ebebeb" stroke-width="1.1"/>
<line x1="396.3" x2="684.5" y1="565.72" y2="565.72" stroke="#ebebeb" stroke-width="1.1"/>
<line x1="396.3" x2="684.5" y1="453.48" y2="453.48" stroke="#ebebeb" stroke-width="1.1"/>
<line x1="396.3" x2="684.5" y1="341.24" y2="341.24" stroke="#ebebeb" stroke-width="1.1"/>
<line x1="396.3" x2="684.5" y1="229" y2="229" stroke="#ebebeb" stroke-width="1.1"/>
<line x1="467.3" x2="467.3" y1="227.4" y2="893" stroke="#ebebeb" stroke-width="1.1"/>
<line x1="540.3" x2="540.3" y1="227.4" y2="893" stroke="#ebebeb" stroke-width="1.1"/>
<line x1="613.3" x2="613.3" y1="227.4" y2="893" stroke="#ebebeb" stroke-width="1.1"/>
<line x1="467.3" x2="467.3" y1="296.9" y2="481.54" stroke="#333333" stroke-width="1.3"/>
<line x1="467.3" x2="467.3" y1="605" y2="756.8" stroke="#333333" stroke-width="1.3"/>
<rect x="439.7" y="481.54" width="55.2" height="123.46" fill="#132B43" fill-opacity="0.7" stroke="#333333" stroke-width="1.5"/>
<line x1="439.7" x2="494.9" y1="554.5" y2="554.5" stroke="#333" stroke-width="2.5"/>
<line x1="540.3" x2="540.3" y1="301.3" y2="442.26" stroke="#333333" stroke-width="1.3"/>
<line x1="540.3" x2="540.3" y1="543.27" y2="694" stroke="#333333" stroke-width="1.3"/>
<rect x="512.7" y="442.26" width="55.2" height="101.02" fill="#336A98" fill-opacity="0.7" stroke="#333333" stroke-width="1.5"/>
<line x1="512.7" x2="567.9" y1="487.15" y2="487.15" stroke="#333" stroke-width="2.5"/>
<line x1="613.3" x2="613.3" y1="410.7" y2="543.27" stroke="#333333" stroke-width="1.3"/>
<line x1="613.3" x2="613.3" y1="651.3" y2="780.1" stroke="#333333" stroke-width="1.3"/>
<rect x="585.7" y="543.27" width="55.2" height="108.03" fill="#56B1F7" fill-opacity="0.7" stroke="#333333" stroke-width="1.5"/>
<line x1="585.7" x2="640.9" y1="605" y2="605" stroke="#333" stroke-width="2.5"/>
<g fill="#000" fill-opacity="0.42">
<circle cx="467.82" cy="561.35" r="3.3"/>
<circle cx="465.22" cy="625.61" r="3.3"/>
<circle cx="464.88" cy="658.01" r="3.3"/>
<circle cx="471.13" cy="433.66" r="3.3"/>
<circle cx="464.25" cy="443.87" r="3.3"/>
<circle cx="464.63" cy="570.95" r="3.3"/>
<circle cx="463.4" cy="701.3" r="3.3"/>
<circle cx="469.23" cy="589.44" r="3.3"/>
<circle cx="466.3" cy="682.3" r="3.3"/>
<circle cx="471.14" cy="653.71" r="3.3"/>
<circle cx="469.74" cy="598.54" r="3.3"/>
<circle cx="466.16" cy="420.66" r="3.3"/>
<circle cx="465.79" cy="560.43" r="3.3"/>
<circle cx="469.79" cy="628.47" r="3.3"/>
<circle cx="469.41" cy="587.09" r="3.3"/>
<circle cx="467.82" cy="548.92" r="3.3"/>
<circle cx="470.85" cy="459.35" r="3.3"/>
<circle cx="471.13" cy="642.3" r="3.3"/>
<circle cx="464.8" cy="699.8" r="3.3"/>
<circle cx="470.62" cy="586.06" r="3.3"/>
<circle cx="470.8" cy="539.78" r="3.3"/>
<circle cx="468.13" cy="505.38" r="3.3"/>
<circle cx="470.33" cy="627.58" r="3.3"/>
<circle cx="467.51" cy="566.36" r="3.3"/>
<circle cx="468.18" cy="465.92" r="3.3"/>
<circle cx="470.4" cy="526.14" r="3.3"/>
<circle cx="464.1" cy="559.42" r="3.3"/>
<circle cx="463.91" cy="561.01" r="3.3"/>
<circle cx="468.42" cy="481.84" r="3.3"/>
<circle cx="469.88" cy="563.28" r="3.3"/>
<circle cx="469.02" cy="590.2" r="3.3"/>
<circle cx="468.62" cy="448.96" r="3.3"/>
<circle cx="463.53" cy="599.21" r="3.3"/>
<circle cx="469.66" cy="578.48" r="3.3"/>
<circle cx="468.19" cy="588.24" r="3.3"/>
<circle cx="464.8" cy="296.9" r="3.3"/>
<circle cx="466.05" cy="657.75" r="3.3"/>
<circle cx="469.26" cy="505.56" r="3.3"/>
<circle cx="470.73" cy="422.78" r="3.3"/>
<circle cx="467.25" cy="487.98" r="3.3"/>
<circle cx="465.71" cy="569.43" r="3.3"/>
<circle cx="469.8" cy="489" r="3.3"/>
<circle cx="468.87" cy="444.41" r="3.3"/>
<circle cx="465.85" cy="616.5" r="3.3"/>
<circle cx="463.49" cy="654.82" r="3.3"/>
<circle cx="468" cy="357.5" r="3.3"/>
<circle cx="467.92" cy="515.26" r="3.3"/>
<circle cx="464.45" cy="603.3" r="3.3"/>
<circle cx="463.89" cy="563.55" r="3.3"/>
<circle cx="469.2" cy="733.4" r="3.3"/>
<circle cx="466.88" cy="588.19" r="3.3"/>
<circle cx="470.48" cy="424.21" r="3.3"/>
<circle cx="468.88" cy="455.65" r="3.3"/>
<circle cx="466.05" cy="546.34" r="3.3"/>
<circle cx="468.86" cy="633.72" r="3.3"/>
<circle cx="464.8" cy="378.6" r="3.3"/>
<circle cx="467.21" cy="579.56" r="3.3"/>
<circle cx="466.08" cy="534.77" r="3.3"/>
<circle cx="465.62" cy="598.26" r="3.3"/>
<circle cx="465.53" cy="631.89" r="3.3"/>
<circle cx="464.8" cy="313" r="3.3"/>
<circle cx="465.45" cy="560.06" r="3.3"/>
<circle cx="465.13" cy="617.37" r="3.3"/>
<circle cx="463.83" cy="425.24" r="3.3"/>
<circle cx="469.2" cy="696" r="3.3"/>
<circle cx="464.37" cy="559.57" r="3.3"/>
<circle cx="465.31" cy="636.74" r="3.3"/>
<circle cx="469.95" cy="475.02" r="3.3"/>
<circle cx="469.2" cy="755.3" r="3.3"/>
<circle cx="466.3" cy="257.5" r="3.3"/>
<circle cx="465.54" cy="630.11" r="3.3"/>
<circle cx="469.96" cy="512.24" r="3.3"/>
<circle cx="468.67" cy="496.94" r="3.3"/>
<circle cx="467.99" cy="593.15" r="3.3"/>
<circle cx="465.48" cy="591.72" r="3.3"/>
<circle cx="470.39" cy="453.32" r="3.3"/>
<circle cx="466.04" cy="573.86" r="3.3"/>
<circle cx="463.87" cy="579.31" r="3.3"/>
<circle cx="468.68" cy="464.04" r="3.3"/>
<circle cx="464.19" cy="628.32" r="3.3"/>
<circle cx="470.48" cy="642.36" r="3.3"/>
<circle cx="463.44" cy="526.24" r="3.3"/>
<circle cx="468.27" cy="527.46" r="3.3"/>
<circle cx="471.13" cy="525.54" r="3.3"/>
<circle cx="468.2" cy="270" r="3.3"/>
<circle cx="468.79" cy="533.23" r="3.3"/>
<circle cx="470.7" cy="304.2" r="3.3"/>
<circle cx="470.05" cy="582.63" r="3.3"/>
<circle cx="467.7" cy="291.1" r="3.3"/>
<circle cx="465.17" cy="626.41" r="3.3"/>
<circle cx="469.2" cy="388.8" r="3.3"/>
<circle cx="469.2" cy="345" r="3.3"/>
<circle cx="463.56" cy="593.18" r="3.3"/>
<circle cx="467.5" cy="609.98" r="3.3"/>
<circle cx="467.68" cy="582.95" r="3.3"/>
<circle cx="469.7" cy="595.77" r="3.3"/>
<circle cx="468.12" cy="561.57" r="3.3"/>
<circle cx="469.92" cy="626.08" r="3.3"/>
<circle cx="468.64" cy="632.38" r="3.3"/>
<circle cx="463.41" cy="562.61" r="3.3"/>
<circle cx="469.18" cy="653.49" r="3.3"/>
<circle cx="467.52" cy="461.91" r="3.3"/>
<circle cx="464.42" cy="665.37" r="3.3"/>
<circle cx="466.26" cy="466.98" r="3.3"/>
<circle cx="466.68" cy="565.4" r="3.3"/>
<circle cx="468.15" cy="595.4" r="3.3"/>
<circle cx="464.62" cy="571.08" r="3.3"/>
<circle cx="470.37" cy="624.18" r="3.3"/>
<circle cx="467.25" cy="593.19" r="3.3"/>
<circle cx="466.48" cy="514.06" r="3.3"/>
<circle cx="465.55" cy="624.09" r="3.3"/>
<circle cx="467.7" cy="737.8" r="3.3"/>
<circle cx="465.05" cy="590.05" r="3.3"/>
<circle cx="463.62" cy="642.02" r="3.3"/>
<circle cx="467.81" cy="585.5" r="3.3"/>
<circle cx="469.42" cy="490.17" r="3.3"/>
<circle cx="470.95" cy="505.26" r="3.3"/>
<circle cx="467.01" cy="534.22" r="3.3"/>
<circle cx="463.51" cy="535.48" r="3.3"/>
<circle cx="469.93" cy="452.83" r="3.3"/>
<circle cx="463.95" cy="532.19" r="3.3"/>
<circle cx="464.8" cy="688.2" r="3.3"/>
<circle cx="470.31" cy="581.87" r="3.3"/>
<circle cx="467.14" cy="557.51" r="3.3"/>
<circle cx="464.8" cy="272.1" r="3.3"/>
<circle cx="464.03" cy="503.29" r="3.3"/>
<circle cx="470.7" cy="682.3" r="3.3"/>
<circle cx="464.21" cy="558.29" r="3.3"/>
<circle cx="470.46" cy="615.24" r="3.3"/>
<circle cx="467.94" cy="639.73" r="3.3"/>
<circle cx="470.69" cy="552.94" r="3.3"/>
<circle cx="464.8" cy="342.1" r="3.3"/>
<circle cx="468.25" cy="602.27" r="3.3"/>
<circle cx="467.91" cy="529.78" r="3.3"/>
<circle cx="467.79" cy="436.14" r="3.3"/>
<circle cx="466.27" cy="447.29" r="3.3"/>
<circle cx="467.32" cy="651.17" r="3.3"/>
<circle cx="465.1" cy="629.32" r="3.3"/>
<circle cx="463.63" cy="596.89" r="3.3"/>
<circle cx="465.18" cy="638.04" r="3.3"/>
<circle cx="469.9" cy="487.79" r="3.3"/>
<circle cx="465.75" cy="467.71" r="3.3"/>
<circle cx="469.59" cy="560.53" r="3.3"/>
<circle cx="466.98" cy="516.07" r="3.3"/>
<circle cx="463.88" cy="514.43" r="3.3"/>
<circle cx="467.01" cy="571.42" r="3.3"/>
<circle cx="471.12" cy="488.51" r="3.3"/>
<circle cx="465.72" cy="590" r="3.3"/>
<circle cx="467.66" cy="617.87" r="3.3"/>
<circle cx="463.78" cy="559.81" r="3.3"/>
<circle cx="470.02" cy="498.87" r="3.3"/>
<circle cx="465" cy="580.11" r="3.3"/>
<circle cx="470.81" cy="478.33" r="3.3"/>
<circle cx="470.16" cy="541.53" r="3.3"/>
<circle cx="463.98" cy="643.15" r="3.3"/>
<circle cx="464.31" cy="448.03" r="3.3"/>
<circle cx="465.31" cy="445.31" r="3.3"/>
<circle cx="463.51" cy="462.47" r="3.3"/>
<circle cx="469.53" cy="570.77" r="3.3"/>
<circle cx="463.74" cy="555.19" r="3.3"/>
<circle cx="470.67" cy="614.05" r="3.3"/>
<circle cx="470.52" cy="650.19" r="3.3"/>
<circle cx="471.06" cy="485.96" r="3.3"/>
<circle cx="468.71" cy="428.65" r="3.3"/>
<circle cx="470.89" cy="568.75" r="3.3"/>
<circle cx="467.54" cy="493.65" r="3.3"/>
<circle cx="469.23" cy="601.01" r="3.3"/>
<circle cx="464.67" cy="582.32" r="3.3"/>
<circle cx="469.11" cy="634.66" r="3.3"/>
<circle cx="469.42" cy="636.38" r="3.3"/>
<circle cx="465.37" cy="415.84" r="3.3"/>
<circle cx="469.06" cy="541.5" r="3.3"/>
<circle cx="470.69" cy="573.54" r="3.3"/>
<circle cx="471.09" cy="589.65" r="3.3"/>
<circle cx="468.21" cy="453.75" r="3.3"/>
<circle cx="470.26" cy="551.67" r="3.3"/>
<circle cx="464.37" cy="660" r="3.3"/>
<circle cx="470.7" cy="364.9" r="3.3"/>
<circle cx="468.76" cy="606.07" r="3.3"/>
<circle cx="466.63" cy="447.34" r="3.3"/>
<circle cx="468.14" cy="623.58" r="3.3"/>
<circle cx="469.11" cy="595.92" r="3.3"/>
<circle cx="469.2" cy="331.9" r="3.3"/>
<circle cx="466.49" cy="460.41" r="3.3"/>
<circle cx="469.28" cy="596.59" r="3.3"/>
<circle cx="470.42" cy="572.17" r="3.3"/>
<circle cx="470.7" cy="750.3" r="3.3"/>
<circle cx="469.1" cy="580.43" r="3.3"/>
<circle cx="470.94" cy="615.28" r="3.3"/>
<circle cx="467.21" cy="473.01" r="3.3"/>
<circle cx="468.81" cy="523.36" r="3.3"/>
<circle cx="463.79" cy="506.55" r="3.3"/>
<circle cx="465.17" cy="576.18" r="3.3"/>
<circle cx="468.58" cy="478.41" r="3.3"/>
<circle cx="467.7" cy="274.4" r="3.3"/>
<circle cx="469.42" cy="581.39" r="3.3"/>
<circle cx="468.59" cy="527.68" r="3.3"/>
<circle cx="468.38" cy="619.82" r="3.3"/>
<circle cx="469.96" cy="569.57" r="3.3"/>
<circle cx="466.3" cy="727.6" r="3.3"/>
<circle cx="468.17" cy="661.03" r="3.3"/>
<circle cx="463.81" cy="639.52" r="3.3"/>
<circle cx="466.13" cy="613.89" r="3.3"/>
<circle cx="470.51" cy="582.78" r="3.3"/>
<circle cx="465.52" cy="465.41" r="3.3"/>
<circle cx="470.97" cy="540.38" r="3.3"/>
<circle cx="466.92" cy="513.61" r="3.3"/>
<circle cx="469.85" cy="417.2" r="3.3"/>
<circle cx="464.55" cy="461.65" r="3.3"/>
<circle cx="467.7" cy="356.7" r="3.3"/>
<circle cx="470.82" cy="503.69" r="3.3"/>
<circle cx="467.56" cy="645.17" r="3.3"/>
<circle cx="467.09" cy="522.01" r="3.3"/>
<circle cx="464.68" cy="532.09" r="3.3"/>
<circle cx="465.03" cy="470.89" r="3.3"/>
<circle cx="468.58" cy="456.32" r="3.3"/>
<circle cx="467.5" cy="577.04" r="3.3"/>
<circle cx="466.13" cy="609.63" r="3.3"/>
<circle cx="464.54" cy="605.28" r="3.3"/>
<circle cx="469.11" cy="652.35" r="3.3"/>
<circle cx="463.73" cy="560.12" r="3.3"/>
<circle cx="468.69" cy="568.51" r="3.3"/>
<circle cx="470.7" cy="402" r="3.3"/>
<circle cx="468.57" cy="635.42" r="3.3"/>
<circle cx="466.89" cy="639.33" r="3.3"/>
<circle cx="463.87" cy="562.83" r="3.3"/>
<circle cx="465.43" cy="577.4" r="3.3"/>
<circle cx="468.19" cy="516.25" r="3.3"/>
<circle cx="464.2" cy="593.52" r="3.3"/>
<circle cx="466.5" cy="505.05" r="3.3"/>
<circle cx="467.38" cy="647.66" r="3.3"/>
<circle cx="467.74" cy="622.12" r="3.3"/>
<circle cx="463.4" cy="346.5" r="3.3"/>
<circle cx="469.83" cy="409.53" r="3.3"/>
<circle cx="470.17" cy="577.7" r="3.3"/>
<circle cx="467.5" cy="581.48" r="3.3"/>
<circle cx="468.03" cy="569.42" r="3.3"/>
<circle cx="465.29" cy="467.02" r="3.3"/>
<circle cx="466.99" cy="421.6" r="3.3"/>
<circle cx="468.39" cy="524.74" r="3.3"/>
<circle cx="470.13" cy="642.52" r="3.3"/>
<circle cx="468.61" cy="559.49" r="3.3"/>
<circle cx="463.62" cy="536.29" r="3.3"/>
<circle cx="470.29" cy="558.92" r="3.3"/>
<circle cx="470.32" cy="562.94" r="3.3"/>
<circle cx="469.92" cy="453.63" r="3.3"/>
<circle cx="469.07" cy="585.29" r="3.3"/>
<circle cx="463.43" cy="463.57" r="3.3"/>
<circle cx="464.11" cy="634.09" r="3.3"/>
<circle cx="464.17" cy="607.11" r="3.3"/>
<circle cx="465.84" cy="525.68" r="3.3"/>
<circle cx="468.39" cy="435.22" r="3.3"/>
<circle cx="467.7" cy="756.8" r="3.3"/>
<circle cx="469.87" cy="557.7" r="3.3"/>
<circle cx="468.66" cy="516.4" r="3.3"/>
<circle cx="467.09" cy="564.95" r="3.3"/>
<circle cx="463.63" cy="591.05" r="3.3"/>
<circle cx="467.5" cy="553.39" r="3.3"/>
<circle cx="470.33" cy="476.24" r="3.3"/>
<circle cx="466.79" cy="594.82" r="3.3"/>
<circle cx="468.04" cy="462.11" r="3.3"/>
<circle cx="466.21" cy="631.48" r="3.3"/>
<circle cx="465.64" cy="648.25" r="3.3"/>
<circle cx="465.5" cy="636.22" r="3.3"/>
<circle cx="470.62" cy="659.97" r="3.3"/>
<circle cx="468.66" cy="439.49" r="3.3"/>
<circle cx="465.78" cy="478.82" r="3.3"/>
<circle cx="465.94" cy="538.93" r="3.3"/>
<circle cx="468.82" cy="590.49" r="3.3"/>
<circle cx="470.37" cy="502.76" r="3.3"/>
<circle cx="463.93" cy="429.29" r="3.3"/>
<circle cx="465.51" cy="490.61" r="3.3"/>
<circle cx="469.58" cy="562.13" r="3.3"/>
<circle cx="465.31" cy="610.45" r="3.3"/>
<circle cx="465.71" cy="526.81" r="3.3"/>
<circle cx="469.14" cy="517.79" r="3.3"/>
<circle cx="465.93" cy="541.9" r="3.3"/>
<circle cx="464.16" cy="417.62" r="3.3"/>
<circle cx="467.49" cy="628.83" r="3.3"/>
<circle cx="467.11" cy="488.7" r="3.3"/>
<circle cx="464.93" cy="550.3" r="3.3"/>
<circle cx="469.26" cy="474.97" r="3.3"/>
<circle cx="470.8" cy="513.29" r="3.3"/>
<circle cx="471.02" cy="570.86" r="3.3"/>
<circle cx="467.7" cy="676.5" r="3.3"/>
<circle cx="463.8" cy="439.24" r="3.3"/>
<circle cx="471.05" cy="618.18" r="3.3"/>
<circle cx="470.98" cy="514.78" r="3.3"/>
<circle cx="469.45" cy="507.82" r="3.3"/>
<circle cx="466.6" cy="476.84" r="3.3"/>
<circle cx="466.23" cy="466.46" r="3.3"/>
<circle cx="464.26" cy="568.97" r="3.3"/>
<circle cx="468.05" cy="579.77" r="3.3"/>
<circle cx="468.13" cy="617.08" r="3.3"/>
<circle cx="471.14" cy="564.68" r="3.3"/>
<circle cx="463.55" cy="586.37" r="3.3"/>
<circle cx="466.3" cy="334.8" r="3.3"/>
<circle cx="464.8" cy="383" r="3.3"/>
<circle cx="466" cy="526.51" r="3.3"/>
<circle cx="463.96" cy="603.92" r="3.3"/>
<circle cx="467" cy="578.92" r="3.3"/>
<circle cx="464.8" cy="290.2" r="3.3"/>
<circle cx="467.55" cy="434.98" r="3.3"/>
<circle cx="463.99" cy="582.84" r="3.3"/>
<circle cx="468.99" cy="472.39" r="3.3"/>
<circle cx="467.7" cy="381.5" r="3.3"/>
<circle cx="466.7" cy="507.1" r="3.3"/>
<circle cx="469.78" cy="502.31" r="3.3"/>
<circle cx="466.14" cy="651.64" r="3.3"/>
<circle cx="466.27" cy="474.61" r="3.3"/>
<circle cx="465.15" cy="526.67" r="3.3"/>
<circle cx="463.4" cy="668.6" r="3.3"/>
<circle cx="468.93" cy="466.24" r="3.3"/>
<circle cx="464.8" cy="391.7" r="3.3"/>
<circle cx="466.3" cy="713" r="3.3"/>
<circle cx="468.71" cy="582.84" r="3.3"/>
<circle cx="466.64" cy="604.71" r="3.3"/>
<circle cx="463.45" cy="601.89" r="3.3"/>
<circle cx="466.02" cy="492.73" r="3.3"/>
<circle cx="464.53" cy="504.75" r="3.3"/>
<circle cx="466.33" cy="425.22" r="3.3"/>
<circle cx="465.16" cy="501.16" r="3.3"/>
<circle cx="468.07" cy="584.48" r="3.3"/>
<circle cx="467.21" cy="633.71" r="3.3"/>
<circle cx="469.2" cy="372.8" r="3.3"/>
<circle cx="470.22" cy="569.85" r="3.3"/>
<circle cx="468.06" cy="471.8" r="3.3"/>
<circle cx="466.3" cy="404.9" r="3.3"/>
<circle cx="468.27" cy="616.65" r="3.3"/>
<circle cx="469.04" cy="513.3" r="3.3"/>
<circle cx="467.57" cy="565.99" r="3.3"/>
<circle cx="469.39" cy="490.18" r="3.3"/>
<circle cx="464.3" cy="573.96" r="3.3"/>
<circle cx="466.86" cy="469.94" r="3.3"/>
<circle cx="468.87" cy="579.61" r="3.3"/>
<circle cx="465.67" cy="653.81" r="3.3"/>
<circle cx="465.97" cy="591.39" r="3.3"/>
<circle cx="469.66" cy="629.58" r="3.3"/>
<circle cx="467" cy="258" r="3.3"/>
<circle cx="465.21" cy="664.29" r="3.3"/>
<circle cx="463.41" cy="620.53" r="3.3"/>
<circle cx="470.26" cy="502.23" r="3.3"/>
<circle cx="468.15" cy="643.6" r="3.3"/>
<circle cx="463.71" cy="576" r="3.3"/>
<circle cx="469.27" cy="526.13" r="3.3"/>
<circle cx="465.13" cy="514.96" r="3.3"/>
<circle cx="469.2" cy="689.6" r="3.3"/>
<circle cx="470.4" cy="640.29" r="3.3"/>
<circle cx="463.79" cy="528.46" r="3.3"/>
<circle cx="466.13" cy="536.96" r="3.3"/>
<circle cx="466.88" cy="504.54" r="3.3"/>
<circle cx="467.23" cy="609.22" r="3.3"/>
<circle cx="470.89" cy="483.66" r="3.3"/>
<circle cx="466.52" cy="539.07" r="3.3"/>
<circle cx="465.25" cy="415.51" r="3.3"/>
<circle cx="467.27" cy="494.23" r="3.3"/>
<circle cx="463.66" cy="574.53" r="3.3"/>
<circle cx="464.2" cy="551.82" r="3.3"/>
<circle cx="467.37" cy="413.7" r="3.3"/>
<circle cx="465.67" cy="587.81" r="3.3"/>
<circle cx="465.55" cy="525.14" r="3.3"/>
<circle cx="467.15" cy="484.36" r="3.3"/>
<circle cx="469.2" cy="399" r="3.3"/>
<circle cx="464.39" cy="491.45" r="3.3"/>
<circle cx="468.99" cy="663.08" r="3.3"/>
<circle cx="470.09" cy="545.93" r="3.3"/>
<circle cx="471.12" cy="529.64" r="3.3"/>
<circle cx="463.82" cy="610.84" r="3.3"/>
<circle cx="463.59" cy="522.42" r="3.3"/>
<circle cx="469.46" cy="638.3" r="3.3"/>
<circle cx="469.76" cy="471.45" r="3.3"/>
<circle cx="469.12" cy="551.93" r="3.3"/>
<circle cx="463.55" cy="561.46" r="3.3"/>
<circle cx="470.59" cy="609.51" r="3.3"/>
<circle cx="466.35" cy="557.96" r="3.3"/>
<circle cx="467.5" cy="616.72" r="3.3"/>
<circle cx="465.89" cy="479.48" r="3.3"/>
<circle cx="469.54" cy="615.8" r="3.3"/>
<circle cx="466.48" cy="571.43" r="3.3"/>
<circle cx="464.8" cy="730.5" r="3.3"/>
<circle cx="469.1" cy="646.69" r="3.3"/>
<circle cx="467.7" cy="269.2" r="3.3"/>
<circle cx="470.91" cy="590.49" r="3.3"/>
<circle cx="466.4" cy="545.56" r="3.3"/>
<circle cx="465.76" cy="453.04" r="3.3"/>
<circle cx="539.66" cy="467.77" r="3.3"/>
<circle cx="537.61" cy="478.98" r="3.3"/>
<circle cx="540.05" cy="547" r="3.3"/>
<circle cx="536.93" cy="528.28" r="3.3"/>
<circle cx="542.48" cy="540.05" r="3.3"/>
<circle cx="543.83" cy="552.72" r="3.3"/>
<circle cx="542.35" cy="419.93" r="3.3"/>
<circle cx="542.86" cy="614.53" r="3.3"/>
<circle cx="537.56" cy="549.19" r="3.3"/>
<circle cx="541.21" cy="449.88" r="3.3"/>
<circle cx="542.28" cy="451.54" r="3.3"/>
<circle cx="541.15" cy="470.25" r="3.3"/>
<circle cx="541.08" cy="469.3" r="3.3"/>
<circle cx="541.79" cy="478.31" r="3.3"/>
<circle cx="540.5" cy="604.19" r="3.3"/>
<circle cx="537.55" cy="568.05" r="3.3"/>
<circle cx="537.22" cy="578.09" r="3.3"/>
<circle cx="536.6" cy="461.88" r="3.3"/>
<circle cx="539.45" cy="566.52" r="3.3"/>
<circle cx="538.45" cy="408.81" r="3.3"/>
<circle cx="536.61" cy="559.16" r="3.3"/>
<circle cx="542.2" cy="666.3" r="3.3"/>
<circle cx="543.44" cy="456.33" r="3.3"/>
<circle cx="536.94" cy="479.06" r="3.3"/>
<circle cx="543.26" cy="448.65" r="3.3"/>
<circle cx="540.8" cy="499.48" r="3.3"/>
<circle cx="538" cy="583.46" r="3.3"/>
<circle cx="538.57" cy="533.31" r="3.3"/>
<circle cx="542.71" cy="506.28" r="3.3"/>
<circle cx="540.55" cy="506.53" r="3.3"/>
<circle cx="540.36" cy="486.18" r="3.3"/>
<circle cx="539.86" cy="621.85" r="3.3"/>
<circle cx="543.77" cy="557.46" r="3.3"/>
<circle cx="543.6" cy="352.3" r="3.3"/>
<circle cx="536.93" cy="408.09" r="3.3"/>
<circle cx="541.76" cy="584.65" r="3.3"/>
<circle cx="543.6" cy="362.6" r="3.3"/>
<circle cx="536.83" cy="472.68" r="3.3"/>
<circle cx="541.54" cy="466" r="3.3"/>
<circle cx="544.16" cy="501.12" r="3.3"/>
<circle cx="541.36" cy="496.06" r="3.3"/>
<circle cx="542.43" cy="447.16" r="3.3"/>
<circle cx="537.8" cy="419.15" r="3.3"/>
<circle cx="543.87" cy="497.95" r="3.3"/>
<circle cx="542.96" cy="435.12" r="3.3"/>
<circle cx="538.34" cy="429.22" r="3.3"/>
<circle cx="542.04" cy="480.61" r="3.3"/>
<circle cx="536.45" cy="554.65" r="3.3"/>
<circle cx="537.55" cy="430.28" r="3.3"/>
<circle cx="543.72" cy="468.48" r="3.3"/>
<circle cx="541.25" cy="598.42" r="3.3"/>
<circle cx="539.74" cy="549.35" r="3.3"/>
<circle cx="537.55" cy="517.84" r="3.3"/>
<circle cx="537.14" cy="537.39" r="3.3"/>
<circle cx="537.79" cy="395.52" r="3.3"/>
<circle cx="539.24" cy="458.4" r="3.3"/>
<circle cx="540.36" cy="509.69" r="3.3"/>
<circle cx="542.2" cy="342.1" r="3.3"/>
<circle cx="543.77" cy="478.34" r="3.3"/>
<circle cx="538.63" cy="621.26" r="3.3"/>
<circle cx="540.7" cy="745.7" r="3.3"/>
<circle cx="542.8" cy="522.61" r="3.3"/>
<circle cx="540.71" cy="502.9" r="3.3"/>
<circle cx="539.44" cy="542.08" r="3.3"/>
<circle cx="539.55" cy="587.23" r="3.3"/>
<circle cx="537.13" cy="548.14" r="3.3"/>
<circle cx="538.33" cy="462.85" r="3.3"/>
<circle cx="540.65" cy="491.4" r="3.3"/>
<circle cx="541.69" cy="426.61" r="3.3"/>
<circle cx="539.27" cy="439.2" r="3.3"/>
<circle cx="539.88" cy="602.81" r="3.3"/>
<circle cx="541.73" cy="445.69" r="3.3"/>
<circle cx="539.93" cy="490.95" r="3.3"/>
<circle cx="541.84" cy="464.62" r="3.3"/>
<circle cx="538.29" cy="442.08" r="3.3"/>
<circle cx="537.13" cy="561.67" r="3.3"/>
<circle cx="538.13" cy="423.88" r="3.3"/>
<circle cx="536.62" cy="479.39" r="3.3"/>
<circle cx="542.77" cy="422.42" r="3.3"/>
<circle cx="539.08" cy="545.55" r="3.3"/>
<circle cx="539.3" cy="374.2" r="3.3"/>
<circle cx="538.52" cy="415.56" r="3.3"/>
<circle cx="543.85" cy="478.28" r="3.3"/>
<circle cx="539.16" cy="466.6" r="3.3"/>
<circle cx="539.3" cy="642.9" r="3.3"/>
<circle cx="540.74" cy="397.16" r="3.3"/>
<circle cx="537.8" cy="334.8" r="3.3"/>
<circle cx="537.93" cy="630.65" r="3.3"/>
<circle cx="539.78" cy="453.3" r="3.3"/>
<circle cx="537.06" cy="611.84" r="3.3"/>
<circle cx="542.3" cy="626.88" r="3.3"/>
<circle cx="543.44" cy="462.83" r="3.3"/>
<circle cx="536.73" cy="536.74" r="3.3"/>
<circle cx="540.27" cy="424" r="3.3"/>
<circle cx="540.49" cy="426.77" r="3.3"/>
<circle cx="537.37" cy="453.41" r="3.3"/>
<circle cx="541.54" cy="504.67" r="3.3"/>
<circle cx="541.14" cy="536.55" r="3.3"/>
<circle cx="539.67" cy="414.03" r="3.3"/>
<circle cx="539.74" cy="600.28" r="3.3"/>
<circle cx="536.46" cy="456.95" r="3.3"/>
<circle cx="538.77" cy="537.83" r="3.3"/>
<circle cx="543.59" cy="624.03" r="3.3"/>
<circle cx="541.95" cy="511.56" r="3.3"/>
<circle cx="542.06" cy="555.24" r="3.3"/>
<circle cx="542.11" cy="469.23" r="3.3"/>
<circle cx="543.71" cy="448.28" r="3.3"/>
<circle cx="543.9" cy="545.93" r="3.3"/>
<circle cx="540.83" cy="515.44" r="3.3"/>
<circle cx="539.36" cy="516.22" r="3.3"/>
<circle cx="539.75" cy="471.81" r="3.3"/>
<circle cx="538.27" cy="472.88" r="3.3"/>
<circle cx="539.01" cy="514.2" r="3.3"/>
<circle cx="541.44" cy="620.11" r="3.3"/>
<circle cx="541.98" cy="522.98" r="3.3"/>
<circle cx="539.75" cy="421.08" r="3.3"/>
<circle cx="539.72" cy="462.67" r="3.3"/>
<circle cx="543.6" cy="387.4" r="3.3"/>
<circle cx="538.4" cy="525.17" r="3.3"/>
<circle cx="542.04" cy="549.98" r="3.3"/>
<circle cx="540.04" cy="563.87" r="3.3"/>
<circle cx="538.72" cy="488.99" r="3.3"/>
<circle cx="540.16" cy="582.3" r="3.3"/>
<circle cx="543.27" cy="575.12" r="3.3"/>
<circle cx="539.62" cy="469.61" r="3.3"/>
<circle cx="543.7" cy="412.14" r="3.3"/>
<circle cx="540.7" cy="474.61" r="3.3"/>
<circle cx="541.7" cy="556.07" r="3.3"/>
<circle cx="541.63" cy="517.92" r="3.3"/>
<circle cx="540.5" cy="728.3" r="3.3"/>
<circle cx="538.34" cy="413.14" r="3.3"/>
<circle cx="538.02" cy="486.24" r="3.3"/>
<circle cx="540.14" cy="568.09" r="3.3"/>
<circle cx="537.02" cy="412.25" r="3.3"/>
<circle cx="541.11" cy="475.55" r="3.3"/>
<circle cx="540.26" cy="493.11" r="3.3"/>
<circle cx="538.63" cy="491.23" r="3.3"/>
<circle cx="538.23" cy="564.2" r="3.3"/>
<circle cx="539.52" cy="448.51" r="3.3"/>
<circle cx="540.12" cy="477" r="3.3"/>
<circle cx="542.87" cy="544.2" r="3.3"/>
<circle cx="538.87" cy="418.41" r="3.3"/>
<circle cx="542.94" cy="619.29" r="3.3"/>
<circle cx="543.07" cy="532.42" r="3.3"/>
<circle cx="542.5" cy="527.2" r="3.3"/>
<circle cx="537.82" cy="479.22" r="3.3"/>
<circle cx="541.48" cy="572.05" r="3.3"/>
<circle cx="539.88" cy="411.8" r="3.3"/>
<circle cx="542.64" cy="574.9" r="3.3"/>
<circle cx="538.89" cy="557.25" r="3.3"/>
<circle cx="540.61" cy="490.72" r="3.3"/>
<circle cx="542.57" cy="520.18" r="3.3"/>
<circle cx="540.14" cy="455.71" r="3.3"/>
<circle cx="541" cy="727" r="3.3"/>
<circle cx="543.66" cy="443.91" r="3.3"/>
<circle cx="543.48" cy="520.25" r="3.3"/>
<circle cx="540.48" cy="430.07" r="3.3"/>
<circle cx="541.73" cy="471.35" r="3.3"/>
<circle cx="537.5" cy="473.35" r="3.3"/>
<circle cx="543.41" cy="468.13" r="3.3"/>
<circle cx="538.3" cy="454.42" r="3.3"/>
<circle cx="538.64" cy="413" r="3.3"/>
<circle cx="541.43" cy="622.95" r="3.3"/>
<circle cx="537.7" cy="496.51" r="3.3"/>
<circle cx="537.79" cy="472.78" r="3.3"/>
<circle cx="540.39" cy="602.1" r="3.3"/>
<circle cx="536.86" cy="512.73" r="3.3"/>
<circle cx="537.12" cy="470.4" r="3.3"/>
<circle cx="543.6" cy="660.4" r="3.3"/>
<circle cx="537.39" cy="429.72" r="3.3"/>
<circle cx="536.98" cy="502.27" r="3.3"/>
<circle cx="537.65" cy="445.44" r="3.3"/>
<circle cx="537.2" cy="515.03" r="3.3"/>
<circle cx="537.8" cy="366.9" r="3.3"/>
<circle cx="539.22" cy="501.32" r="3.3"/>
<circle cx="539.35" cy="533.58" r="3.3"/>
<circle cx="537.74" cy="443.75" r="3.3"/>
<circle cx="543.21" cy="500.96" r="3.3"/>
<circle cx="536.55" cy="541.38" r="3.3"/>
<circle cx="540.7" cy="484.16" r="3.3"/>
<circle cx="540.2" cy="275" r="3.3"/>
<circle cx="538.66" cy="469.66" r="3.3"/>
<circle cx="542.97" cy="485.25" r="3.3"/>
<circle cx="537.47" cy="412.36" r="3.3"/>
<circle cx="542.99" cy="494.68" r="3.3"/>
<circle cx="540.97" cy="544.03" r="3.3"/>
<circle cx="542.12" cy="533.3" r="3.3"/>
<circle cx="539.3" cy="350.9" r="3.3"/>
<circle cx="542.15" cy="483.22" r="3.3"/>
<circle cx="538.58" cy="473.33" r="3.3"/>
<circle cx="537.8" cy="387.4" r="3.3"/>
<circle cx="537.21" cy="425.59" r="3.3"/>
<circle cx="540.5" cy="408.56" r="3.3"/>
<circle cx="537.84" cy="495.18" r="3.3"/>
<circle cx="536.41" cy="471.87" r="3.3"/>
<circle cx="539.11" cy="531.84" r="3.3"/>
<circle cx="541.88" cy="481.41" r="3.3"/>
<circle cx="538.29" cy="495.53" r="3.3"/>
<circle cx="538.39" cy="484.09" r="3.3"/>
<circle cx="539.99" cy="417.16" r="3.3"/>
<circle cx="538.37" cy="575.59" r="3.3"/>
<circle cx="540.61" cy="541.72" r="3.3"/>
<circle cx="538.61" cy="481.04" r="3.3"/>
<circle cx="540.65" cy="474.12" r="3.3"/>
<circle cx="536.67" cy="397.9" r="3.3"/>
<circle cx="536.93" cy="603.99" r="3.3"/>
<circle cx="542.38" cy="440.8" r="3.3"/>
<circle cx="539.52" cy="598.9" r="3.3"/>
<circle cx="538.97" cy="587.42" r="3.3"/>
<circle cx="539.59" cy="472.42" r="3.3"/>
<circle cx="542.31" cy="533.69" r="3.3"/>
<circle cx="538.73" cy="587.74" r="3.3"/>
<circle cx="538.77" cy="462.18" r="3.3"/>
<circle cx="541.65" cy="545.41" r="3.3"/>
<circle cx="539.89" cy="419.79" r="3.3"/>
<circle cx="542.38" cy="518.4" r="3.3"/>
<circle cx="543.99" cy="404.85" r="3.3"/>
<circle cx="541.6" cy="466.38" r="3.3"/>
<circle cx="537.06" cy="480.29" r="3.3"/>
<circle cx="540.93" cy="601.16" r="3.3"/>
<circle cx="543.74" cy="589.25" r="3.3"/>
<circle cx="542.97" cy="475.45" r="3.3"/>
<circle cx="536.5" cy="492.7" r="3.3"/>
<circle cx="542.47" cy="467.38" r="3.3"/>
<circle cx="537.23" cy="500.4" r="3.3"/>
<circle cx="541.6" cy="406.03" r="3.3"/>
<circle cx="540.45" cy="442.86" r="3.3"/>
<circle cx="542.12" cy="483.33" r="3.3"/>
<circle cx="539.77" cy="455.32" r="3.3"/>
<circle cx="543.6" cy="694" r="3.3"/>
<circle cx="537.32" cy="422.34" r="3.3"/>
<circle cx="543.86" cy="484.31" r="3.3"/>
<circle cx="539.32" cy="546.68" r="3.3"/>
<circle cx="542.38" cy="614.07" r="3.3"/>
<circle cx="543.25" cy="514.25" r="3.3"/>
<circle cx="541.09" cy="479.13" r="3.3"/>
<circle cx="540.22" cy="454.59" r="3.3"/>
<circle cx="538.38" cy="492.08" r="3.3"/>
<circle cx="538.23" cy="456.64" r="3.3"/>
<circle cx="536.59" cy="552.53" r="3.3"/>
<circle cx="541.51" cy="561" r="3.3"/>
<circle cx="541.96" cy="462.94" r="3.3"/>
<circle cx="541.06" cy="578.21" r="3.3"/>
<circle cx="537.64" cy="570.1" r="3.3"/>
<circle cx="537.49" cy="470.05" r="3.3"/>
<circle cx="541.18" cy="478.2" r="3.3"/>
<circle cx="540.5" cy="773.5" r="3.3"/>
<circle cx="540.11" cy="440.23" r="3.3"/>
<circle cx="537.2" cy="424.34" r="3.3"/>
<circle cx="539.61" cy="433.69" r="3.3"/>
<circle cx="542.52" cy="492.7" r="3.3"/>
<circle cx="539.9" cy="429.34" r="3.3"/>
<circle cx="538.67" cy="461.83" r="3.3"/>
<circle cx="537.78" cy="470.48" r="3.3"/>
<circle cx="540.46" cy="489.03" r="3.3"/>
<circle cx="540.57" cy="568.62" r="3.3"/>
<circle cx="540.23" cy="538.05" r="3.3"/>
<circle cx="541.72" cy="557.11" r="3.3"/>
<circle cx="541.33" cy="540.82" r="3.3"/>
<circle cx="541.49" cy="597.92" r="3.3"/>
<circle cx="539.46" cy="416.81" r="3.3"/>
<circle cx="543.53" cy="500.51" r="3.3"/>
<circle cx="542.35" cy="499.79" r="3.3"/>
<circle cx="542.51" cy="430.92" r="3.3"/>
<circle cx="542.16" cy="429.09" r="3.3"/>
<circle cx="538.69" cy="564.59" r="3.3"/>
<circle cx="541.57" cy="501.59" r="3.3"/>
<circle cx="543.82" cy="541.16" r="3.3"/>
<circle cx="542.08" cy="500.23" r="3.3"/>
<circle cx="540.6" cy="595.48" r="3.3"/>
<circle cx="544.09" cy="495.81" r="3.3"/>
<circle cx="541.17" cy="537.29" r="3.3"/>
<circle cx="541.66" cy="432.94" r="3.3"/>
<circle cx="542.85" cy="449.77" r="3.3"/>
<circle cx="538.37" cy="535.98" r="3.3"/>
<circle cx="542.83" cy="593.75" r="3.3"/>
<circle cx="539.12" cy="463.7" r="3.3"/>
<circle cx="541.41" cy="597.51" r="3.3"/>
<circle cx="539.15" cy="433.67" r="3.3"/>
<circle cx="539.24" cy="535.65" r="3.3"/>
<circle cx="541.25" cy="467.5" r="3.3"/>
<circle cx="538.96" cy="477.1" r="3.3"/>
<circle cx="540.7" cy="424.5" r="3.3"/>
<circle cx="539.62" cy="566.51" r="3.3"/>
<circle cx="537.02" cy="503.54" r="3.3"/>
<circle cx="539.3" cy="774.3" r="3.3"/>
<circle cx="541.78" cy="604.46" r="3.3"/>
<circle cx="542.61" cy="488.1" r="3.3"/>
<circle cx="540.24" cy="478.24" r="3.3"/>
<circle cx="537.62" cy="489.58" r="3.3"/>
<circle cx="542.76" cy="550.41" r="3.3"/>
<circle cx="539.3" cy="727.6" r="3.3"/>
<circle cx="540.7" cy="274.4" r="3.3"/>
<circle cx="538.33" cy="578.07" r="3.3"/>
<circle cx="540.5" cy="612.83" r="3.3"/>
<circle cx="542.11" cy="467.47" r="3.3"/>
<circle cx="539.41" cy="438.37" r="3.3"/>
<circle cx="537.79" cy="576.3" r="3.3"/>
<circle cx="536.69" cy="457.27" r="3.3"/>
<circle cx="537.28" cy="488.15" r="3.3"/>
<circle cx="541.56" cy="468.56" r="3.3"/>
<circle cx="540.12" cy="485.54" r="3.3"/>
<circle cx="541" cy="775" r="3.3"/>
<circle cx="543.79" cy="412.92" r="3.3"/>
<circle cx="543.92" cy="619.17" r="3.3"/>
<circle cx="536.98" cy="539.54" r="3.3"/>
<circle cx="543.72" cy="500.04" r="3.3"/>
<circle cx="540.24" cy="529.83" r="3.3"/>
<circle cx="536.79" cy="525.28" r="3.3"/>
<circle cx="539.3" cy="648.8" r="3.3"/>
<circle cx="541.05" cy="444.46" r="3.3"/>
<circle cx="537.84" cy="432.91" r="3.3"/>
<circle cx="540.18" cy="567.75" r="3.3"/>
<circle cx="541.33" cy="517.4" r="3.3"/>
<circle cx="540.63" cy="531.91" r="3.3"/>
<circle cx="540.33" cy="441.23" r="3.3"/>
<circle cx="543.6" cy="669.2" r="3.3"/>
<circle cx="537.32" cy="556.26" r="3.3"/>
<circle cx="537.29" cy="626.99" r="3.3"/>
<circle cx="540.7" cy="380.1" r="3.3"/>
<circle cx="537.87" cy="504.5" r="3.3"/>
<circle cx="538.85" cy="474.35" r="3.3"/>
<circle cx="536.76" cy="477.49" r="3.3"/>
<circle cx="542.53" cy="499.39" r="3.3"/>
<circle cx="540.68" cy="570.01" r="3.3"/>
<circle cx="540.07" cy="496.76" r="3.3"/>
<circle cx="539.54" cy="565.9" r="3.3"/>
<circle cx="539.9" cy="599.35" r="3.3"/>
<circle cx="537.8" cy="744.5" r="3.3"/>
<circle cx="539.87" cy="460.06" r="3.3"/>
<circle cx="539.8" cy="429.88" r="3.3"/>
<circle cx="544" cy="471.79" r="3.3"/>
<circle cx="543.31" cy="625.6" r="3.3"/>
<circle cx="540.93" cy="475.45" r="3.3"/>
<circle cx="538.7" cy="301.3" r="3.3"/>
<circle cx="540.49" cy="489.74" r="3.3"/>
<circle cx="543.76" cy="449.38" r="3.3"/>
<circle cx="542.39" cy="535.31" r="3.3"/>
<circle cx="537.61" cy="415.17" r="3.3"/>
<circle cx="539.76" cy="579.45" r="3.3"/>
<circle cx="542.9" cy="436.5" r="3.3"/>
<circle cx="540.5" cy="454.38" r="3.3"/>
<circle cx="542.39" cy="477.3" r="3.3"/>
<circle cx="537.4" cy="544.83" r="3.3"/>
<circle cx="544.2" cy="508.01" r="3.3"/>
<circle cx="536.48" cy="469.14" r="3.3"/>
<circle cx="541.9" cy="467.55" r="3.3"/>
<circle cx="541.6" cy="334.8" r="3.3"/>
<circle cx="541.31" cy="397.03" r="3.3"/>
<circle cx="536.4" cy="688.2" r="3.3"/>
<circle cx="538.68" cy="479.29" r="3.3"/>
<circle cx="538.22" cy="537.73" r="3.3"/>
<circle cx="541.3" cy="406.71" r="3.3"/>
<circle cx="540.35" cy="432.17" r="3.3"/>
<circle cx="537.22" cy="488.9" r="3.3"/>
<circle cx="543.98" cy="555.76" r="3.3"/>
<circle cx="541.7" cy="456.36" r="3.3"/>
<circle cx="536.75" cy="413.29" r="3.3"/>
<circle cx="542.42" cy="584.94" r="3.3"/>
<circle cx="543.74" cy="499.48" r="3.3"/>
<circle cx="539.7" cy="491.12" r="3.3"/>
<circle cx="538.82" cy="398.52" r="3.3"/>
<circle cx="538.72" cy="466.82" r="3.3"/>
<circle cx="543.27" cy="462.07" r="3.3"/>
<circle cx="536.87" cy="397.76" r="3.3"/>
<circle cx="538.85" cy="501.51" r="3.3"/>
<circle cx="539.18" cy="510.45" r="3.3"/>
<circle cx="542.2" cy="359.6" r="3.3"/>
<circle cx="540.78" cy="478.11" r="3.3"/>
<circle cx="541.02" cy="464.32" r="3.3"/>
<circle cx="610.8" cy="307.1" r="3.3"/>
<circle cx="611.67" cy="540.52" r="3.3"/>
<circle cx="612.12" cy="562.74" r="3.3"/>
<circle cx="613.57" cy="567.35" r="3.3"/>
<circle cx="614.18" cy="695.18" r="3.3"/>
<circle cx="612.17" cy="521.65" r="3.3"/>
<circle cx="614.27" cy="593.52" r="3.3"/>
<circle cx="611.42" cy="624.6" r="3.3"/>
<circle cx="613.97" cy="570.84" r="3.3"/>
<circle cx="615.57" cy="703.39" r="3.3"/>
<circle cx="610.63" cy="499.02" r="3.3"/>
<circle cx="609.8" cy="666.19" r="3.3"/>
<circle cx="614.43" cy="546.03" r="3.3"/>
<circle cx="611.01" cy="603.47" r="3.3"/>
<circle cx="611.67" cy="530.77" r="3.3"/>
<circle cx="615.42" cy="543.05" r="3.3"/>
<circle cx="611.26" cy="646.09" r="3.3"/>
<circle cx="610.02" cy="658.09" r="3.3"/>
<circle cx="614.19" cy="528.71" r="3.3"/>
<circle cx="612.58" cy="540.59" r="3.3"/>
<circle cx="613.46" cy="556.69" r="3.3"/>
<circle cx="610.08" cy="546.25" r="3.3"/>
<circle cx="610.13" cy="642.8" r="3.3"/>
<circle cx="612.33" cy="491.11" r="3.3"/>
<circle cx="616.21" cy="606.68" r="3.3"/>
<circle cx="611.69" cy="533.57" r="3.3"/>
<circle cx="609.72" cy="658.9" r="3.3"/>
<circle cx="616.83" cy="569.46" r="3.3"/>
<circle cx="613.7" cy="862.4" r="3.3"/>
<circle cx="611.71" cy="527.43" r="3.3"/>
<circle cx="611.03" cy="517.13" r="3.3"/>
<circle cx="614.56" cy="633.21" r="3.3"/>
<circle cx="612.74" cy="580.36" r="3.3"/>
<circle cx="614.39" cy="517.45" r="3.3"/>
<circle cx="615.91" cy="593.03" r="3.3"/>
<circle cx="616.11" cy="641.59" r="3.3"/>
<circle cx="610.13" cy="647.49" r="3.3"/>
<circle cx="616.6" cy="739.2" r="3.3"/>
<circle cx="610.86" cy="515.36" r="3.3"/>
<circle cx="613.77" cy="688.76" r="3.3"/>
<circle cx="610.04" cy="578.24" r="3.3"/>
<circle cx="615.05" cy="565.66" r="3.3"/>
<circle cx="612.94" cy="591.61" r="3.3"/>
<circle cx="612.08" cy="546.05" r="3.3"/>
<circle cx="615.15" cy="502.57" r="3.3"/>
<circle cx="613.85" cy="679.79" r="3.3"/>
<circle cx="615.12" cy="558.44" r="3.3"/>
<circle cx="616.29" cy="679.01" r="3.3"/>
<circle cx="610.47" cy="703.8" r="3.3"/>
<circle cx="615.04" cy="575.14" r="3.3"/>
<circle cx="614.2" cy="862.8" r="3.3"/>
<circle cx="615.25" cy="474.63" r="3.3"/>
<circle cx="609.88" cy="601.39" r="3.3"/>
<circle cx="611.1" cy="596.27" r="3.3"/>
<circle cx="611.84" cy="576.8" r="3.3"/>
<circle cx="612.6" cy="707.77" r="3.3"/>
<circle cx="610.9" cy="614.31" r="3.3"/>
<circle cx="614.26" cy="619.02" r="3.3"/>
<circle cx="609.46" cy="655.73" r="3.3"/>
<circle cx="616.6" cy="747.4" r="3.3"/>
<circle cx="610.4" cy="706.13" r="3.3"/>
<circle cx="616.93" cy="583.15" r="3.3"/>
<circle cx="609.63" cy="492.97" r="3.3"/>
<circle cx="613.7" cy="818" r="3.3"/>
<circle cx="610.36" cy="505.67" r="3.3"/>
<circle cx="615.91" cy="611.44" r="3.3"/>
<circle cx="612.13" cy="595.3" r="3.3"/>
<circle cx="616.8" cy="699.37" r="3.3"/>
<circle cx="612.16" cy="659.84" r="3.3"/>
<circle cx="615.61" cy="525.84" r="3.3"/>
<circle cx="614.55" cy="647.72" r="3.3"/>
<circle cx="610.56" cy="667.77" r="3.3"/>
<circle cx="615.92" cy="531.76" r="3.3"/>
<circle cx="614.92" cy="694.96" r="3.3"/>
<circle cx="609.56" cy="659.68" r="3.3"/>
<circle cx="616.43" cy="581.81" r="3.3"/>
<circle cx="609.45" cy="580.77" r="3.3"/>
<circle cx="612.04" cy="670.9" r="3.3"/>
<circle cx="614.2" cy="581.72" r="3.3"/>
<circle cx="611.02" cy="624.68" r="3.3"/>
<circle cx="613.01" cy="480.98" r="3.3"/>
<circle cx="612.07" cy="562.2" r="3.3"/>
<circle cx="615.44" cy="602.49" r="3.3"/>
<circle cx="614.36" cy="547.19" r="3.3"/>
<circle cx="612.83" cy="628.36" r="3.3"/>
<circle cx="610.75" cy="537.13" r="3.3"/>
<circle cx="616.15" cy="550.08" r="3.3"/>
<circle cx="611.39" cy="691.72" r="3.3"/>
<circle cx="610.32" cy="637.09" r="3.3"/>
<circle cx="616.32" cy="532.01" r="3.3"/>
<circle cx="611.59" cy="579.51" r="3.3"/>
<circle cx="612.68" cy="572.87" r="3.3"/>
<circle cx="616.28" cy="627.43" r="3.3"/>
<circle cx="610.95" cy="565.54" r="3.3"/>
<circle cx="611.99" cy="513.46" r="3.3"/>
<circle cx="615.42" cy="461.73" r="3.3"/>
<circle cx="610.14" cy="573.61" r="3.3"/>
<circle cx="611.46" cy="629.12" r="3.3"/>
<circle cx="613.8" cy="671.64" r="3.3"/>
<circle cx="614.26" cy="642.23" r="3.3"/>
<circle cx="614.31" cy="578.62" r="3.3"/>
<circle cx="613.77" cy="650.93" r="3.3"/>
<circle cx="617.19" cy="696.6" r="3.3"/>
<circle cx="612.53" cy="698.55" r="3.3"/>
<circle cx="609.98" cy="544.14" r="3.3"/>
<circle cx="617" cy="573.16" r="3.3"/>
<circle cx="616.6" cy="454.5" r="3.3"/>
<circle cx="614.77" cy="576.1" r="3.3"/>
<circle cx="616.85" cy="573.02" r="3.3"/>
<circle cx="616.28" cy="597.2" r="3.3"/>
<circle cx="616.57" cy="548.33" r="3.3"/>
<circle cx="612.31" cy="578.03" r="3.3"/>
<circle cx="611.05" cy="611.58" r="3.3"/>
<circle cx="613.14" cy="597.96" r="3.3"/>
<circle cx="612.75" cy="698.62" r="3.3"/>
<circle cx="612.21" cy="550.99" r="3.3"/>
<circle cx="614.51" cy="577.98" r="3.3"/>
<circle cx="611.04" cy="599.75" r="3.3"/>
<circle cx="615.32" cy="630.83" r="3.3"/>
<circle cx="614.35" cy="586.25" r="3.3"/>
<circle cx="614.97" cy="580.11" r="3.3"/>
<circle cx="613.61" cy="625.93" r="3.3"/>
<circle cx="616.13" cy="629.84" r="3.3"/>
<circle cx="616.88" cy="581.61" r="3.3"/>
<circle cx="616.75" cy="660.63" r="3.3"/>
<circle cx="612.25" cy="686.69" r="3.3"/>
<circle cx="610.18" cy="501.01" r="3.3"/>
<circle cx="611.6" cy="703.21" r="3.3"/>
<circle cx="616.54" cy="583" r="3.3"/>
<circle cx="617.19" cy="647.79" r="3.3"/>
<circle cx="610.83" cy="705.61" r="3.3"/>
<circle cx="612.08" cy="668.09" r="3.3"/>
<circle cx="613.65" cy="481.15" r="3.3"/>
<circle cx="613.82" cy="630.92" r="3.3"/>
<circle cx="609.7" cy="569.52" r="3.3"/>
<circle cx="610.39" cy="678.27" r="3.3"/>
<circle cx="612.82" cy="584.74" r="3.3"/>
<circle cx="610.2" cy="687.88" r="3.3"/>
<circle cx="611.12" cy="585.25" r="3.3"/>
<circle cx="612.01" cy="546.09" r="3.3"/>
<circle cx="613.22" cy="659.73" r="3.3"/>
<circle cx="614.31" cy="623.07" r="3.3"/>
<circle cx="616.83" cy="657.75" r="3.3"/>
<circle cx="609.69" cy="582.2" r="3.3"/>
<circle cx="617.02" cy="661.78" r="3.3"/>
<circle cx="614" cy="640.99" r="3.3"/>
<circle cx="611.54" cy="484.84" r="3.3"/>
<circle cx="610.11" cy="610.26" r="3.3"/>
<circle cx="610.28" cy="607.9" r="3.3"/>
<circle cx="610.04" cy="592.79" r="3.3"/>
<circle cx="612.63" cy="471.72" r="3.3"/>
<circle cx="612.37" cy="553.25" r="3.3"/>
<circle cx="615.59" cy="655.34" r="3.3"/>
<circle cx="616.33" cy="700.66" r="3.3"/>
<circle cx="616.88" cy="475.48" r="3.3"/>
<circle cx="614.51" cy="607.51" r="3.3"/>
<circle cx="615.2" cy="429.7" r="3.3"/>
<circle cx="615.76" cy="631.45" r="3.3"/>
<circle cx="609.54" cy="519.87" r="3.3"/>
<circle cx="613.54" cy="539.69" r="3.3"/>
<circle cx="616.63" cy="699.19" r="3.3"/>
<circle cx="610.95" cy="671.16" r="3.3"/>
<circle cx="614" cy="642.72" r="3.3"/>
<circle cx="612.17" cy="544.52" r="3.3"/>
<circle cx="609.77" cy="702.18" r="3.3"/>
<circle cx="610.19" cy="547.81" r="3.3"/>
<circle cx="613.7" cy="829.7" r="3.3"/>
<circle cx="611.2" cy="559.73" r="3.3"/>
<circle cx="612.13" cy="569.89" r="3.3"/>
<circle cx="616.71" cy="688.87" r="3.3"/>
<circle cx="612.59" cy="632.16" r="3.3"/>
<circle cx="616.53" cy="576.6" r="3.3"/>
<circle cx="614.83" cy="578.39" r="3.3"/>
<circle cx="611.02" cy="545.89" r="3.3"/>
<circle cx="616.22" cy="665.24" r="3.3"/>
<circle cx="614.99" cy="669.86" r="3.3"/>
<circle cx="610.15" cy="542.46" r="3.3"/>
<circle cx="614.17" cy="625.38" r="3.3"/>
<circle cx="614.24" cy="673.04" r="3.3"/>
<circle cx="617.05" cy="559.18" r="3.3"/>
<circle cx="612.21" cy="701.83" r="3.3"/>
<circle cx="614.6" cy="314.4" r="3.3"/>
<circle cx="611.9" cy="701.93" r="3.3"/>
<circle cx="611.89" cy="640.12" r="3.3"/>
<circle cx="612.44" cy="639.75" r="3.3"/>
<circle cx="611.88" cy="552.18" r="3.3"/>
<circle cx="614.33" cy="620.51" r="3.3"/>
<circle cx="610.39" cy="515.15" r="3.3"/>
<circle cx="612.48" cy="570.4" r="3.3"/>
<circle cx="610.77" cy="633.63" r="3.3"/>
<circle cx="615.75" cy="548.19" r="3.3"/>
<circle cx="611.68" cy="668.3" r="3.3"/>
<circle cx="613.7" cy="851.6" r="3.3"/>
<circle cx="617.13" cy="685.7" r="3.3"/>
<circle cx="617.08" cy="584.91" r="3.3"/>
<circle cx="611.37" cy="550.54" r="3.3"/>
<circle cx="617.5" cy="851.6" r="3.3"/>
<circle cx="611.15" cy="620.04" r="3.3"/>
<circle cx="616.96" cy="461.05" r="3.3"/>
<circle cx="609.98" cy="567.06" r="3.3"/>
<circle cx="613.85" cy="623.16" r="3.3"/>
<circle cx="611.39" cy="498.24" r="3.3"/>
<circle cx="611.86" cy="473.74" r="3.3"/>
<circle cx="615.02" cy="618.27" r="3.3"/>
<circle cx="615.28" cy="572.2" r="3.3"/>
<circle cx="615.2" cy="762" r="3.3"/>
<circle cx="610.06" cy="577.11" r="3.3"/>
<circle cx="613.94" cy="489.56" r="3.3"/>
<circle cx="610.11" cy="525.93" r="3.3"/>
<circle cx="613.41" cy="603.41" r="3.3"/>
<circle cx="613.05" cy="565.37" r="3.3"/>
<circle cx="615.05" cy="581.52" r="3.3"/>
<circle cx="610.4" cy="547.81" r="3.3"/>
<circle cx="611.21" cy="477.17" r="3.3"/>
<circle cx="613.37" cy="709.9" r="3.3"/>
<circle cx="613.08" cy="646.74" r="3.3"/>
<circle cx="609.83" cy="613.92" r="3.3"/>
<circle cx="615.72" cy="470.17" r="3.3"/>
<circle cx="612.3" cy="448.6" r="3.3"/>
<circle cx="611.29" cy="682.85" r="3.3"/>
<circle cx="612.3" cy="773.7" r="3.3"/>
<circle cx="609.61" cy="661.66" r="3.3"/>
<circle cx="609.88" cy="696.49" r="3.3"/>
<circle cx="611.17" cy="528.17" r="3.3"/>
<circle cx="616.56" cy="701.25" r="3.3"/>
<circle cx="612.03" cy="613.43" r="3.3"/>
<circle cx="609.3" cy="734.9" r="3.3"/>
<circle cx="614.97" cy="631.08" r="3.3"/>
<circle cx="611.17" cy="695.47" r="3.3"/>
<circle cx="612.81" cy="628.7" r="3.3"/>
<circle cx="611.72" cy="501.11" r="3.3"/>
<circle cx="613.5" cy="613.09" r="3.3"/>
<circle cx="616.02" cy="604.75" r="3.3"/>
<circle cx="611.32" cy="563.72" r="3.3"/>
<circle cx="615.76" cy="663.52" r="3.3"/>
<circle cx="612.77" cy="605.08" r="3.3"/>
<circle cx="616.37" cy="585.74" r="3.3"/>
<circle cx="611.85" cy="612.52" r="3.3"/>
<circle cx="610.11" cy="650.95" r="3.3"/>
<circle cx="616.84" cy="639.4" r="3.3"/>
<circle cx="612" cy="569.97" r="3.3"/>
<circle cx="611.84" cy="532.38" r="3.3"/>
<circle cx="617.13" cy="678.24" r="3.3"/>
<circle cx="610.11" cy="618.28" r="3.3"/>
<circle cx="614.4" cy="577.25" r="3.3"/>
<circle cx="610.8" cy="740.7" r="3.3"/>
<circle cx="611.45" cy="535.19" r="3.3"/>
<circle cx="616.05" cy="580.83" r="3.3"/>
<circle cx="612.28" cy="616.3" r="3.3"/>
<circle cx="610.08" cy="646.76" r="3.3"/>
<circle cx="612.03" cy="653.82" r="3.3"/>
<circle cx="616.29" cy="705.01" r="3.3"/>
<circle cx="610.41" cy="558.14" r="3.3"/>
<circle cx="615.09" cy="631.2" r="3.3"/>
<circle cx="612.58" cy="666.07" r="3.3"/>
<circle cx="614.5" cy="589.78" r="3.3"/>
<circle cx="615.77" cy="575.49" r="3.3"/>
<circle cx="612.34" cy="700.7" r="3.3"/>
<circle cx="610.2" cy="583.1" r="3.3"/>
<circle cx="613.73" cy="535" r="3.3"/>
<circle cx="610.56" cy="610.39" r="3.3"/>
<circle cx="614.07" cy="669.07" r="3.3"/>
<circle cx="612.3" cy="410.7" r="3.3"/>
<circle cx="615.15" cy="540.53" r="3.3"/>
<circle cx="616.77" cy="601.75" r="3.3"/>
<circle cx="611.92" cy="541.88" r="3.3"/>
<circle cx="614.85" cy="509.1" r="3.3"/>
<circle cx="616.05" cy="478.02" r="3.3"/>
<circle cx="613.59" cy="654.88" r="3.3"/>
<circle cx="615.91" cy="609.6" r="3.3"/>
<circle cx="609.58" cy="578.16" r="3.3"/>
<circle cx="613.26" cy="629.42" r="3.3"/>
<circle cx="610.81" cy="547.61" r="3.3"/>
<circle cx="612.3" cy="419.5" r="3.3"/>
<circle cx="614.17" cy="605.42" r="3.3"/>
<circle cx="612.82" cy="613.83" r="3.3"/>
<circle cx="614.33" cy="696.27" r="3.3"/>
<circle cx="616.74" cy="529.71" r="3.3"/>
<circle cx="615.5" cy="612.16" r="3.3"/>
<circle cx="615.2" cy="412.2" r="3.3"/>
<circle cx="609.58" cy="637.01" r="3.3"/>
<circle cx="614.35" cy="706.43" r="3.3"/>
<circle cx="609.78" cy="677.23" r="3.3"/>
<circle cx="613.7" cy="434" r="3.3"/>
<circle cx="615.63" cy="655.25" r="3.3"/>
<circle cx="615.91" cy="644.77" r="3.3"/>
<circle cx="614.9" cy="603.09" r="3.3"/>
<circle cx="615.43" cy="603.39" r="3.3"/>
<circle cx="613.35" cy="639.22" r="3.3"/>
<circle cx="612.17" cy="669.65" r="3.3"/>
<circle cx="613.19" cy="530.41" r="3.3"/>
<circle cx="615.63" cy="526.25" r="3.3"/>
<circle cx="617.16" cy="645.8" r="3.3"/>
<circle cx="612.3" cy="780.1" r="3.3"/>
<circle cx="614.6" cy="308" r="3.3"/>
<circle cx="610.76" cy="657.29" r="3.3"/>
<circle cx="614.07" cy="656.55" r="3.3"/>
<circle cx="609.78" cy="597.93" r="3.3"/>
<circle cx="613.17" cy="542.39" r="3.3"/>
<circle cx="610.8" cy="751.8" r="3.3"/>
<circle cx="611.57" cy="474.06" r="3.3"/>
<circle cx="616.5" cy="658.21" r="3.3"/>
<circle cx="615.2" cy="733.4" r="3.3"/>
<circle cx="616.01" cy="544.9" r="3.3"/>
<circle cx="611.2" cy="608.16" r="3.3"/>
<circle cx="616.6" cy="726.1" r="3.3"/>
<circle cx="615.1" cy="473.84" r="3.3"/>
<circle cx="612.73" cy="589.73" r="3.3"/>
<circle cx="615.21" cy="643.2" r="3.3"/>
<circle cx="613.65" cy="483.06" r="3.3"/>
<circle cx="616.22" cy="591.03" r="3.3"/>
<circle cx="609.42" cy="531.6" r="3.3"/>
<circle cx="613.91" cy="670.25" r="3.3"/>
<circle cx="612.99" cy="603.1" r="3.3"/>
<circle cx="610.39" cy="543.86" r="3.3"/>
<circle cx="613.29" cy="594.23" r="3.3"/>
<circle cx="613.24" cy="663.44" r="3.3"/>
<circle cx="610.87" cy="667.33" r="3.3"/>
<circle cx="613.65" cy="585.39" r="3.3"/>
<circle cx="614.96" cy="556.3" r="3.3"/>
<circle cx="614.75" cy="591.94" r="3.3"/>
<circle cx="609.93" cy="706.42" r="3.3"/>
<circle cx="614.75" cy="636.99" r="3.3"/>
<circle cx="616.51" cy="578.81" r="3.3"/>
<circle cx="616.6" cy="819.5" r="3.3"/>
<circle cx="610.73" cy="610.89" r="3.3"/>
<circle cx="615.14" cy="649.52" r="3.3"/>
<circle cx="614.82" cy="575.51" r="3.3"/>
<circle cx="615.49" cy="638.74" r="3.3"/>
<circle cx="617.08" cy="668.64" r="3.3"/>
<circle cx="615.74" cy="669.73" r="3.3"/>
<circle cx="611.99" cy="494.75" r="3.3"/>
<circle cx="615.18" cy="597.75" r="3.3"/>
<circle cx="613.61" cy="482.97" r="3.3"/>
<circle cx="611.52" cy="558.95" r="3.3"/>
<circle cx="612.42" cy="468.45" r="3.3"/>
<circle cx="611.49" cy="638.72" r="3.3"/>
<circle cx="610.75" cy="622.53" r="3.3"/>
<circle cx="609.41" cy="603.76" r="3.3"/>
<circle cx="610.8" cy="730.5" r="3.3"/>
<circle cx="612.91" cy="508.61" r="3.3"/>
<circle cx="613.9" cy="615.64" r="3.3"/>
<circle cx="610.44" cy="542.16" r="3.3"/>
<circle cx="617.01" cy="653.62" r="3.3"/>
<circle cx="610.22" cy="639.05" r="3.3"/>
<circle cx="616.47" cy="652.74" r="3.3"/>
<circle cx="612.58" cy="508.1" r="3.3"/>
<circle cx="616.6" cy="764" r="3.3"/>
<circle cx="610.31" cy="550.16" r="3.3"/>
<circle cx="615.42" cy="641.38" r="3.3"/>
<circle cx="611.49" cy="513.01" r="3.3"/>
<circle cx="612.3" cy="715.9" r="3.3"/>
<circle cx="609.85" cy="661.11" r="3.3"/>
<circle cx="616.02" cy="674.45" r="3.3"/>
<circle cx="615.55" cy="611.9" r="3.3"/>
<circle cx="611.97" cy="688.7" r="3.3"/>
<circle cx="616.53" cy="523.59" r="3.3"/>
<circle cx="614.24" cy="559.47" r="3.3"/>
<circle cx="615.78" cy="478.83" r="3.3"/>
<circle cx="610.07" cy="548.11" r="3.3"/>
<circle cx="612.26" cy="604.37" r="3.3"/>
<circle cx="612.17" cy="574.7" r="3.3"/>
<circle cx="611.69" cy="521.72" r="3.3"/>
<circle cx="616.6" cy="830.3" r="3.3"/>
<circle cx="615.14" cy="620.31" r="3.3"/>
<circle cx="613.02" cy="525.08" r="3.3"/>
<circle cx="610.92" cy="612.55" r="3.3"/>
<circle cx="615.75" cy="461.98" r="3.3"/>
<circle cx="611.3" cy="575.58" r="3.3"/>
<circle cx="613.21" cy="535.96" r="3.3"/>
<circle cx="613.74" cy="616.73" r="3.3"/>
</g>
<rect x="396.3" y="227.4" width="288.2" height="665.6" fill="none" stroke="#3c3c3c" stroke-width="1.2"/>
<line x1="392.3" x2="396.3" y1="790.2" y2="790.2" stroke="#333333" stroke-width="1.2"/>
<text x="389" y="794.6" text-anchor="end" class="tk">40</text>
<line x1="392.3" x2="396.3" y1="677.96" y2="677.96" stroke="#333333" stroke-width="1.2"/>
<text x="389" y="682.36" text-anchor="end" class="tk">60</text>
<line x1="392.3" x2="396.3" y1="565.72" y2="565.72" stroke="#333333" stroke-width="1.2"/>
<text x="389" y="570.12" text-anchor="end" class="tk">80</text>
<line x1="392.3" x2="396.3" y1="453.48" y2="453.48" stroke="#333333" stroke-width="1.2"/>
<text x="389" y="457.88" text-anchor="end" class="tk">100</text>
<line x1="392.3" x2="396.3" y1="341.24" y2="341.24" stroke="#333333" stroke-width="1.2"/>
<text x="389" y="345.64" text-anchor="end" class="tk">120</text>
<line x1="392.3" x2="396.3" y1="229" y2="229" stroke="#333333" stroke-width="1.2"/>
<text x="389" y="233.4" text-anchor="end" class="tk">140</text>
<line x1="467.3" x2="467.3" y1="893" y2="897" stroke="#333333" stroke-width="1.2"/>
<text x="467.3" y="909" text-anchor="middle" class="tk">Head</text>
<line x1="540.3" x2="540.3" y1="893" y2="897" stroke="#333333" stroke-width="1.2"/>
<text x="540.3" y="909" text-anchor="middle" class="tk">Body</text>
<line x1="613.3" x2="613.3" y1="893" y2="897" stroke="#333333" stroke-width="1.2"/>
<text x="613.3" y="909" text-anchor="middle" class="tk">Tail</text>
<text class="ttl" transform="translate(361,560) rotate(-90)" text-anchor="middle">Mean Electric Field</text>
</svg>
</body></html>
